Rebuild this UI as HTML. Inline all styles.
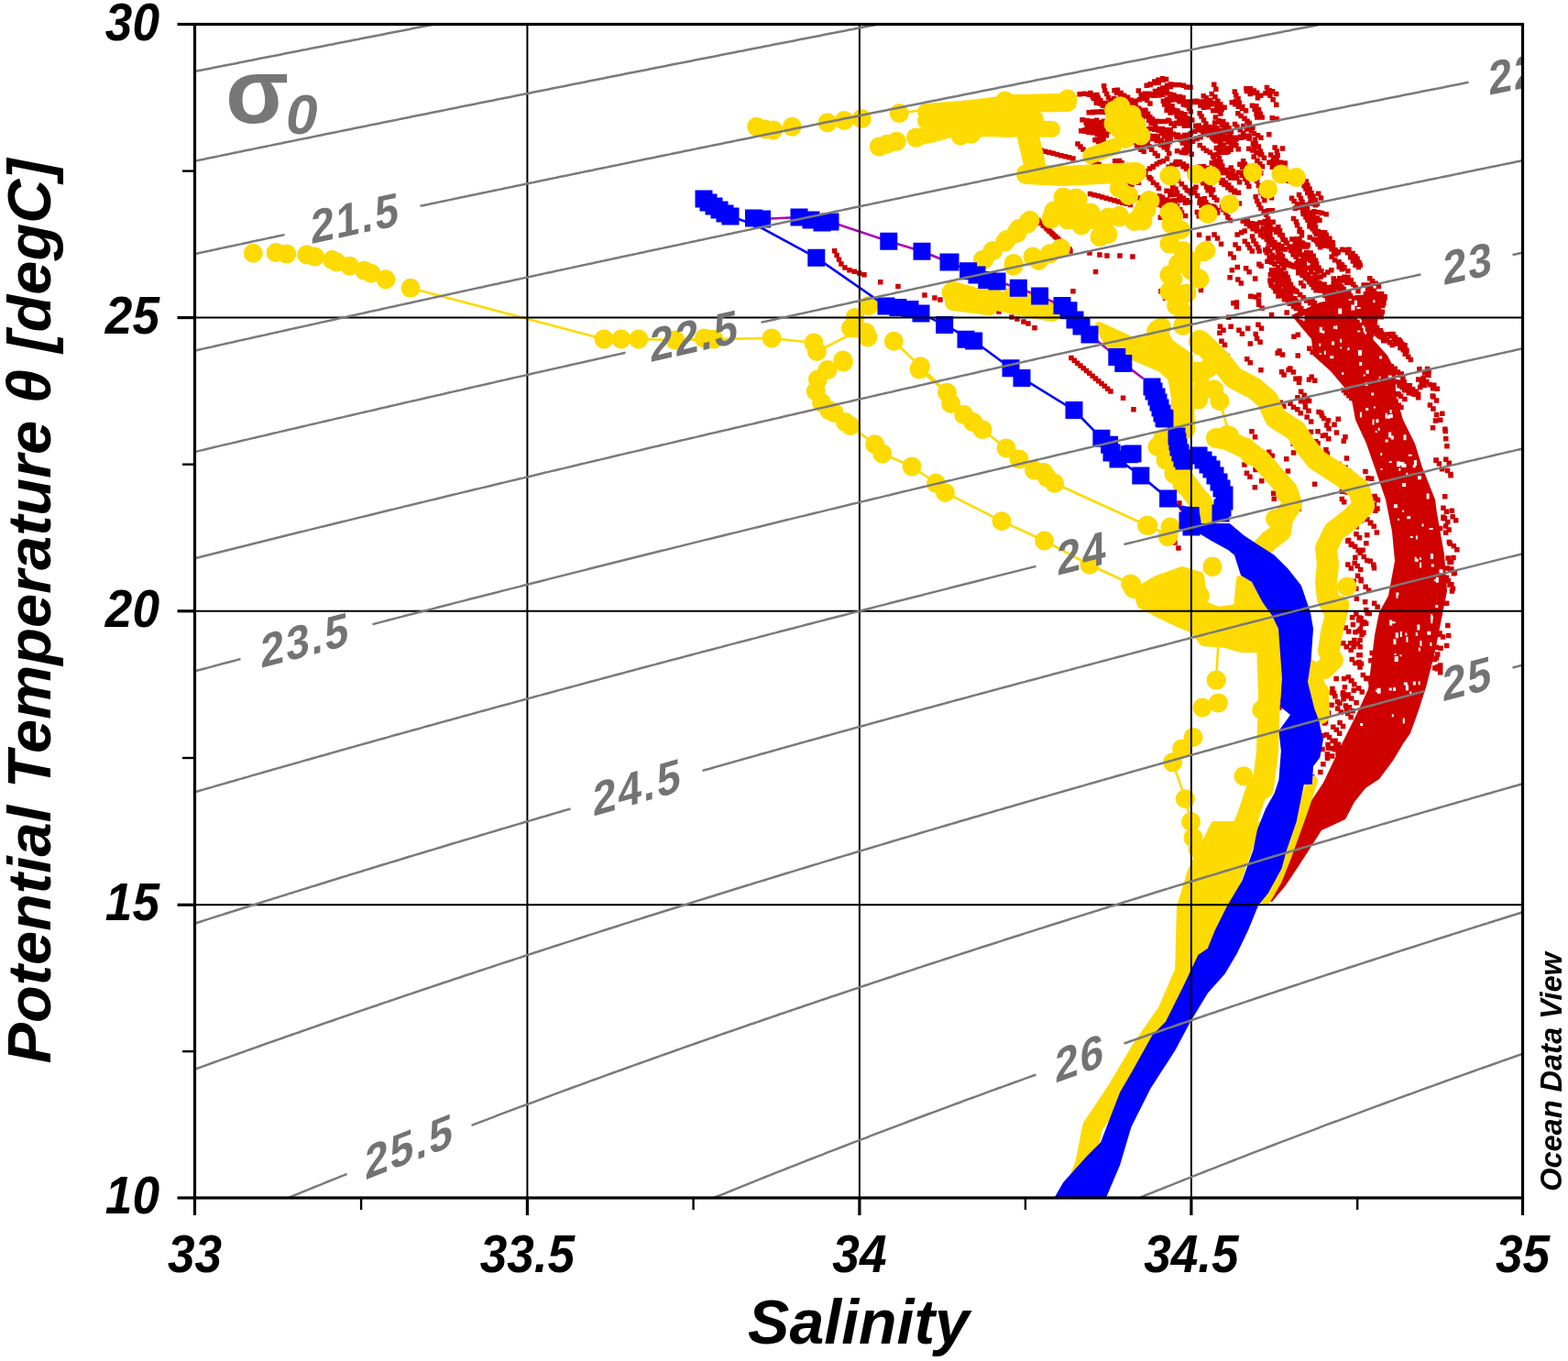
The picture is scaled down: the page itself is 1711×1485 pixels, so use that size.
<!DOCTYPE html><html><head><meta charset="utf-8"><title>T-S diagram</title><style>html,body{margin:0;padding:0;background:#fff;overflow:hidden}svg{display:block}</style></head><body><svg width="1711" height="1485" viewBox="0 0 1711 1485"><defs><clipPath id="pc"><rect x="212.5" y="26.5" width="1449.0" height="1280.5"/></clipPath></defs><rect width="1711" height="1485" fill="#fff"/><g clip-path="url(#pc)"><path fill="#CE0000" d="M1282.2 118.3h5.5v5.5h-5.5zM1286.2 120.8h5.5v5.5h-5.5zM1289.8 123.2h5.5v5.5h-5.5zM1293.1 126.2h5.5v5.5h-5.5zM1298 128.2h5.5v5.5h-5.5zM1270.4 117.4h5.5v5.5h-5.5zM1274.4 120.2h5.5v5.5h-5.5zM1357.7 96.7h5.5v5.5h-5.5zM1361.5 99.7h5.5v5.5h-5.5zM1367.5 212h5.5v5.5h-5.5zM1369 216.8h5.5v5.5h-5.5zM1371 220.3h5.5v5.5h-5.5zM1373.1 224.4h5.5v5.5h-5.5zM1376.4 228.1h5.5v5.5h-5.5zM1378.9 231.6h5.5v5.5h-5.5zM1380.9 235.9h5.5v5.5h-5.5zM1368.9 194.7h5.5v5.5h-5.5zM1370.7 199.7h5.5v5.5h-5.5zM1372.8 204.1h5.5v5.5h-5.5zM1373.5 207.6h5.5v5.5h-5.5zM1375.7 211.3h5.5v5.5h-5.5zM1377.1 215.7h5.5v5.5h-5.5zM1213.3 96h5.5v5.5h-5.5zM1215.9 98.4h5.5v5.5h-5.5zM1219.8 100.7h5.5v5.5h-5.5zM1223.6 103.8h5.5v5.5h-5.5zM1227.7 107h5.5v5.5h-5.5zM1231.4 108.8h5.5v5.5h-5.5zM1216.8 95.4h5.5v5.5h-5.5zM1220.4 98.8h5.5v5.5h-5.5zM1223.9 101.6h5.5v5.5h-5.5zM1227.8 103.5h5.5v5.5h-5.5zM1231.4 106.4h5.5v5.5h-5.5zM1235.8 108.7h5.5v5.5h-5.5zM1422.6 195.3h5.5v5.5h-5.5zM1424.1 199.6h5.5v5.5h-5.5zM1425.8 203.3h5.5v5.5h-5.5zM1428.3 207.9h5.5v5.5h-5.5zM1428.7 212.3h5.5v5.5h-5.5zM1430.4 216.4h5.5v5.5h-5.5zM1432.7 221.1h5.5v5.5h-5.5zM1380.7 99h5.5v5.5h-5.5zM1383.2 101.5h5.5v5.5h-5.5zM1386.4 105.9h5.5v5.5h-5.5zM1335.1 159.5h5.5v5.5h-5.5zM1337.4 162.7h5.5v5.5h-5.5zM1405.2 310.3h5.5v5.5h-5.5zM1409.2 313.4h5.5v5.5h-5.5zM1412.3 315.4h5.5v5.5h-5.5zM1415.9 318.8h5.5v5.5h-5.5zM1419.4 322h5.5v5.5h-5.5zM1422.9 325.2h5.5v5.5h-5.5zM1238.8 140.4h5.5v5.5h-5.5zM1240.5 144.8h5.5v5.5h-5.5zM1242.9 149.3h5.5v5.5h-5.5zM1246 153h5.5v5.5h-5.5zM1244.1 141.8h5.5v5.5h-5.5zM1246.3 144.9h5.5v5.5h-5.5zM1247.3 148.7h5.5v5.5h-5.5zM1249.4 152.6h5.5v5.5h-5.5zM1384 305.7h5.5v5.5h-5.5zM1386.7 310.3h5.5v5.5h-5.5zM1389.8 313.5h5.5v5.5h-5.5zM1392.4 316.1h5.5v5.5h-5.5zM1395.7 319.7h5.5v5.5h-5.5zM1398.7 324h5.5v5.5h-5.5zM1306 181.7h5.5v5.5h-5.5zM1308.9 185.7h5.5v5.5h-5.5zM1311.4 189.4h5.5v5.5h-5.5zM1313.6 193.8h5.5v5.5h-5.5zM1315.4 197.1h5.5v5.5h-5.5zM1317.6 201.3h5.5v5.5h-5.5zM1320.9 204.2h5.5v5.5h-5.5zM1302.5 181.1h5.5v5.5h-5.5zM1305.1 185h5.5v5.5h-5.5zM1307.3 188.6h5.5v5.5h-5.5zM1308.7 193.2h5.5v5.5h-5.5zM1311.8 196.8h5.5v5.5h-5.5zM1313.8 201.3h5.5v5.5h-5.5zM1315.4 205.1h5.5v5.5h-5.5zM1452.5 301.2h5.5v5.5h-5.5zM1455.8 303.8h5.5v5.5h-5.5zM1224.1 116.1h5.5v5.5h-5.5zM1227.5 118.9h5.5v5.5h-5.5zM1230.8 122.2h5.5v5.5h-5.5zM1234.8 124.4h5.5v5.5h-5.5zM1238.9 127.5h5.5v5.5h-5.5zM1228.2 116.8h5.5v5.5h-5.5zM1231.9 119.2h5.5v5.5h-5.5zM1235.9 121.7h5.5v5.5h-5.5zM1239.4 124.3h5.5v5.5h-5.5zM1243.6 127.2h5.5v5.5h-5.5zM1469.1 316.3h5.5v5.5h-5.5zM1470.9 320.3h5.5v5.5h-5.5zM1473.5 323.6h5.5v5.5h-5.5zM1436.9 306h5.5v5.5h-5.5zM1440.4 309h5.5v5.5h-5.5zM1319 209.5h5.5v5.5h-5.5zM1322.3 212.8h5.5v5.5h-5.5zM1325.1 215.4h5.5v5.5h-5.5zM1384.2 208.8h5.5v5.5h-5.5zM1384.8 212.9h5.5v5.5h-5.5zM1216.4 187.4h5.5v5.5h-5.5zM1219.1 191.1h5.5v5.5h-5.5zM1220.5 194.2h5.5v5.5h-5.5zM1223.4 198.7h5.5v5.5h-5.5zM1224.6 203.4h5.5v5.5h-5.5zM1227.4 207.2h5.5v5.5h-5.5zM1228.7 211.3h5.5v5.5h-5.5zM1325.7 166.1h5.5v5.5h-5.5zM1327.6 169.6h5.5v5.5h-5.5zM1329.2 173.7h5.5v5.5h-5.5zM1331 178.2h5.5v5.5h-5.5zM1332.9 183h5.5v5.5h-5.5zM1270.3 205.6h5.5v5.5h-5.5zM1274.2 210.1h5.5v5.5h-5.5zM1275.5 205.9h5.5v5.5h-5.5zM1278.6 209.6h5.5v5.5h-5.5zM1392.1 245h5.5v5.5h-5.5zM1393.8 249.1h5.5v5.5h-5.5zM1396.6 253.9h5.5v5.5h-5.5zM1397.4 258.4h5.5v5.5h-5.5zM1400.5 262.2h5.5v5.5h-5.5zM1301 207.3h5.5v5.5h-5.5zM1303.9 210.7h5.5v5.5h-5.5zM1306.7 214.8h5.5v5.5h-5.5zM1310.2 218.4h5.5v5.5h-5.5zM1311.5 222.8h5.5v5.5h-5.5zM1314.5 225.5h5.5v5.5h-5.5zM1317.3 229h5.5v5.5h-5.5zM1306.5 155.7h5.5v5.5h-5.5zM1310.3 159h5.5v5.5h-5.5zM1313.7 161.5h5.5v5.5h-5.5zM1317.6 163.6h5.5v5.5h-5.5zM1320.7 166.2h5.5v5.5h-5.5zM1414.8 209.8h5.5v5.5h-5.5zM1416.7 213.8h5.5v5.5h-5.5zM1418.3 217.4h5.5v5.5h-5.5zM1421.8 221.2h5.5v5.5h-5.5zM1201.9 91.1h5.5v5.5h-5.5zM1202.9 95.9h5.5v5.5h-5.5zM1204.9 99.8h5.5v5.5h-5.5zM1206.8 103.7h5.5v5.5h-5.5zM1209.2 109h5.5v5.5h-5.5zM1424.2 199.9h5.5v5.5h-5.5zM1426.5 204.2h5.5v5.5h-5.5zM1427.9 208.4h5.5v5.5h-5.5zM1430.2 211.2h5.5v5.5h-5.5zM1432.7 215.4h5.5v5.5h-5.5zM1434.6 219.7h5.5v5.5h-5.5zM1420.3 200h5.5v5.5h-5.5zM1422.2 203.2h5.5v5.5h-5.5zM1424 207.8h5.5v5.5h-5.5zM1426.7 211.3h5.5v5.5h-5.5zM1427.6 215.9h5.5v5.5h-5.5zM1430.3 219.6h5.5v5.5h-5.5zM1279 102.6h5.5v5.5h-5.5zM1282.2 106.3h5.5v5.5h-5.5zM1284.4 108.1h5.5v5.5h-5.5zM1288.7 111.3h5.5v5.5h-5.5zM1282.6 102.9h5.5v5.5h-5.5zM1286.3 105.4h5.5v5.5h-5.5zM1289 108.5h5.5v5.5h-5.5zM1292.9 112.2h5.5v5.5h-5.5zM1306.4 120.9h5.5v5.5h-5.5zM1308.3 124.3h5.5v5.5h-5.5zM1310.7 128.3h5.5v5.5h-5.5zM1313.1 132.2h5.5v5.5h-5.5zM1316.4 135.7h5.5v5.5h-5.5zM1317.5 140.3h5.5v5.5h-5.5zM1320.3 143.1h5.5v5.5h-5.5zM1428.1 294.3h5.5v5.5h-5.5zM1432.4 297.1h5.5v5.5h-5.5zM1435.3 300h5.5v5.5h-5.5zM1360.2 131.6h5.5v5.5h-5.5zM1362.3 136.2h5.5v5.5h-5.5zM1231 184.8h5.5v5.5h-5.5zM1233.9 187.8h5.5v5.5h-5.5zM1237.9 190.2h5.5v5.5h-5.5zM1389.9 99.8h5.5v5.5h-5.5zM1280.7 173.7h5.5v5.5h-5.5zM1284 175.8h5.5v5.5h-5.5zM1288.3 178.9h5.5v5.5h-5.5zM1291.6 181.5h5.5v5.5h-5.5zM1295.3 184.5h5.5v5.5h-5.5zM1299 187.7h5.5v5.5h-5.5zM1284.8 173.9h5.5v5.5h-5.5zM1288.7 176.3h5.5v5.5h-5.5zM1292.3 178.6h5.5v5.5h-5.5zM1296.4 182.3h5.5v5.5h-5.5zM1299 184.3h5.5v5.5h-5.5zM1303.4 187.6h5.5v5.5h-5.5zM1331.6 193.8h5.5v5.5h-5.5zM1334.7 196.7h5.5v5.5h-5.5zM1338 199.2h5.5v5.5h-5.5zM1340.9 202.4h5.5v5.5h-5.5zM1344.6 205.4h5.5v5.5h-5.5zM1348.7 207.4h5.5v5.5h-5.5zM1326 193.1h5.5v5.5h-5.5zM1330.2 196.6h5.5v5.5h-5.5zM1333 198.5h5.5v5.5h-5.5zM1337 202.1h5.5v5.5h-5.5zM1340.4 204.4h5.5v5.5h-5.5zM1344.2 206.9h5.5v5.5h-5.5zM1274.8 196.1h5.5v5.5h-5.5zM1277 200.8h5.5v5.5h-5.5zM1280.2 203.6h5.5v5.5h-5.5zM1281.8 207.6h5.5v5.5h-5.5zM1285.2 211.2h5.5v5.5h-5.5zM1287.2 215.3h5.5v5.5h-5.5zM1290.6 218.4h5.5v5.5h-5.5zM1185.1 165.8h5.5v5.5h-5.5zM1186.8 170.2h5.5v5.5h-5.5zM1189.3 173.8h5.5v5.5h-5.5zM1191.7 176.7h5.5v5.5h-5.5zM1189.6 165.5h5.5v5.5h-5.5zM1192.3 169.5h5.5v5.5h-5.5zM1193.7 172.9h5.5v5.5h-5.5zM1196.4 177.4h5.5v5.5h-5.5zM1305.4 134.4h5.5v5.5h-5.5zM1309.8 136.9h5.5v5.5h-5.5zM1312.6 139.1h5.5v5.5h-5.5zM1316.3 141.9h5.5v5.5h-5.5zM1320.7 145h5.5v5.5h-5.5zM1324.1 147.3h5.5v5.5h-5.5zM1328.1 150.7h5.5v5.5h-5.5zM1302 134.4h5.5v5.5h-5.5zM1304.5 136.5h5.5v5.5h-5.5zM1308.1 139.6h5.5v5.5h-5.5zM1312.9 142.4h5.5v5.5h-5.5zM1316.3 144.8h5.5v5.5h-5.5zM1320 147.3h5.5v5.5h-5.5zM1323.7 149.7h5.5v5.5h-5.5zM1355.9 192.5h5.5v5.5h-5.5zM1358.2 196.6h5.5v5.5h-5.5zM1360.1 200.5h5.5v5.5h-5.5zM1239.6 96.3h5.5v5.5h-5.5zM1242.5 100.4h5.5v5.5h-5.5zM1246 103h5.5v5.5h-5.5zM1248.9 106.6h5.5v5.5h-5.5zM1252.2 110.2h5.5v5.5h-5.5zM1438.7 310.2h5.5v5.5h-5.5zM1442.8 312.5h5.5v5.5h-5.5zM1446.3 314.5h5.5v5.5h-5.5zM1450.9 317.4h5.5v5.5h-5.5zM1454.5 320.2h5.5v5.5h-5.5zM1457.8 322.5h5.5v5.5h-5.5zM1226.7 183.1h5.5v5.5h-5.5zM1229.5 186h5.5v5.5h-5.5zM1233.2 189.6h5.5v5.5h-5.5zM1235.8 194.1h5.5v5.5h-5.5zM1239.6 196.4h5.5v5.5h-5.5zM1218.4 196.8h5.5v5.5h-5.5zM1221.9 199h5.5v5.5h-5.5zM1224.7 201.9h5.5v5.5h-5.5zM1228.1 204.7h5.5v5.5h-5.5zM1231.9 207.5h5.5v5.5h-5.5zM1235.1 210.5h5.5v5.5h-5.5zM1239.5 213.2h5.5v5.5h-5.5zM1194.5 144.1h5.5v5.5h-5.5zM1197.3 147h5.5v5.5h-5.5zM1201.3 150.8h5.5v5.5h-5.5zM1324.9 174.5h5.5v5.5h-5.5zM1328.3 177.5h5.5v5.5h-5.5zM1331 180.8h5.5v5.5h-5.5zM1335.4 182.7h5.5v5.5h-5.5zM1338.4 186.3h5.5v5.5h-5.5zM1341.3 188.8h5.5v5.5h-5.5zM1344.7 191.4h5.5v5.5h-5.5zM1319.5 174.9h5.5v5.5h-5.5zM1323.5 177.2h5.5v5.5h-5.5zM1326.1 180.2h5.5v5.5h-5.5zM1330.5 182.8h5.5v5.5h-5.5zM1333.5 185.7h5.5v5.5h-5.5zM1337.6 189h5.5v5.5h-5.5zM1340.1 191.3h5.5v5.5h-5.5zM1306.3 218.5h5.5v5.5h-5.5zM1309.9 221.9h5.5v5.5h-5.5zM1313.7 223.9h5.5v5.5h-5.5zM1317.5 226.1h5.5v5.5h-5.5zM1322 229.5h5.5v5.5h-5.5zM1310.8 218.4h5.5v5.5h-5.5zM1315 220.9h5.5v5.5h-5.5zM1317.8 224.3h5.5v5.5h-5.5zM1322.1 226.7h5.5v5.5h-5.5zM1325.8 229.3h5.5v5.5h-5.5zM1329.1 121.3h5.5v5.5h-5.5zM1383 174.6h5.5v5.5h-5.5zM1386 176.6h5.5v5.5h-5.5zM1390.7 179.9h5.5v5.5h-5.5zM1393.5 181.3h5.5v5.5h-5.5zM1458.5 288.4h5.5v5.5h-5.5zM1461.5 291h5.5v5.5h-5.5zM1416.9 306h5.5v5.5h-5.5zM1419.7 309.3h5.5v5.5h-5.5zM1358.5 238.2h5.5v5.5h-5.5zM1361.6 241.2h5.5v5.5h-5.5zM1364.1 244.7h5.5v5.5h-5.5zM1337.8 140h5.5v5.5h-5.5zM1339.8 143.5h5.5v5.5h-5.5zM1342.5 147.4h5.5v5.5h-5.5zM1344.6 151.9h5.5v5.5h-5.5zM1346.2 156h5.5v5.5h-5.5zM1348.5 160.1h5.5v5.5h-5.5zM1435.9 208.6h5.5v5.5h-5.5zM1438.7 213.3h5.5v5.5h-5.5zM1420.6 285.6h5.5v5.5h-5.5zM1421.1 289.6h5.5v5.5h-5.5zM1221.6 206.6h5.5v5.5h-5.5zM1224.5 209.2h5.5v5.5h-5.5zM1228.2 213h5.5v5.5h-5.5zM1385.6 179.6h5.5v5.5h-5.5zM1389.3 182.7h5.5v5.5h-5.5zM1391.9 186h5.5v5.5h-5.5zM1395.1 189h5.5v5.5h-5.5zM1398.8 191.7h5.5v5.5h-5.5zM1403.2 194.6h5.5v5.5h-5.5zM1396.8 159.2h5.5v5.5h-5.5zM1379.7 92.7h5.5v5.5h-5.5zM1382.3 95.9h5.5v5.5h-5.5zM1218.6 172.7h5.5v5.5h-5.5zM1221.3 175h5.5v5.5h-5.5zM1225.8 177.8h5.5v5.5h-5.5zM1229.6 181.5h5.5v5.5h-5.5zM1232.2 183.9h5.5v5.5h-5.5zM1237 186.3h5.5v5.5h-5.5zM1213.9 173h5.5v5.5h-5.5zM1217.5 175.5h5.5v5.5h-5.5zM1220.6 177.4h5.5v5.5h-5.5zM1224.1 180.1h5.5v5.5h-5.5zM1227.9 183h5.5v5.5h-5.5zM1232.5 185.6h5.5v5.5h-5.5zM1379.9 245.7h5.5v5.5h-5.5zM1382.7 248.9h5.5v5.5h-5.5zM1344.6 97.2h5.5v5.5h-5.5zM1346 101.3h5.5v5.5h-5.5zM1348.3 105h5.5v5.5h-5.5zM1349.5 109.4h5.5v5.5h-5.5zM1351.6 113.7h5.5v5.5h-5.5zM1390 111.4h5.5v5.5h-5.5zM1238.5 179.1h5.5v5.5h-5.5zM1241.6 181.7h5.5v5.5h-5.5zM1244.2 184.9h5.5v5.5h-5.5zM1246.8 187.3h5.5v5.5h-5.5zM1251.3 190.8h5.5v5.5h-5.5zM1471 277.9h5.5v5.5h-5.5zM1473.6 282.3h5.5v5.5h-5.5zM1476.3 286.4h5.5v5.5h-5.5zM1479.7 288.7h5.5v5.5h-5.5zM1187.2 98.8h5.5v5.5h-5.5zM1189.6 102.5h5.5v5.5h-5.5zM1469.2 269.5h5.5v5.5h-5.5zM1473.4 273.8h5.5v5.5h-5.5zM1476.2 277.1h5.5v5.5h-5.5zM1465 270.1h5.5v5.5h-5.5zM1467.7 273.1h5.5v5.5h-5.5zM1471.2 276.9h5.5v5.5h-5.5zM1474.5 279.5h5.5v5.5h-5.5zM1478.5 283h5.5v5.5h-5.5zM1481.5 286.4h5.5v5.5h-5.5zM1354.1 134.7h5.5v5.5h-5.5zM1357.8 138.3h5.5v5.5h-5.5zM1362.7 139.7h5.5v5.5h-5.5zM1365.7 142.9h5.5v5.5h-5.5zM1369.9 144.9h5.5v5.5h-5.5zM1373.2 147.6h5.5v5.5h-5.5zM1341.5 109.1h5.5v5.5h-5.5zM1345.1 111h5.5v5.5h-5.5zM1348.6 113.5h5.5v5.5h-5.5zM1353 115.6h5.5v5.5h-5.5zM1356.8 117.9h5.5v5.5h-5.5zM1243.2 146.7h5.5v5.5h-5.5zM1245.5 150.5h5.5v5.5h-5.5zM1248.8 154.3h5.5v5.5h-5.5zM1251.6 157.2h5.5v5.5h-5.5zM1254 160.4h5.5v5.5h-5.5zM1257.6 164.5h5.5v5.5h-5.5zM1260.4 167.3h5.5v5.5h-5.5zM1368.1 113.1h5.5v5.5h-5.5zM1370.8 117h5.5v5.5h-5.5zM1372.5 121.6h5.5v5.5h-5.5zM1374.4 125.2h5.5v5.5h-5.5zM1363.7 112.4h5.5v5.5h-5.5zM1366.4 116.5h5.5v5.5h-5.5zM1368.3 121.6h5.5v5.5h-5.5zM1369.1 125.3h5.5v5.5h-5.5zM1238.8 118.4h5.5v5.5h-5.5zM1243 121.7h5.5v5.5h-5.5zM1320.5 136.7h5.5v5.5h-5.5zM1324 140.4h5.5v5.5h-5.5zM1327 143h5.5v5.5h-5.5zM1330.8 145.8h5.5v5.5h-5.5zM1333.4 149.2h5.5v5.5h-5.5zM1337.7 152.3h5.5v5.5h-5.5zM1340.8 155.4h5.5v5.5h-5.5zM1325.1 137.1h5.5v5.5h-5.5zM1328.1 139.6h5.5v5.5h-5.5zM1331.7 142.3h5.5v5.5h-5.5zM1334.8 146.3h5.5v5.5h-5.5zM1338.6 149.1h5.5v5.5h-5.5zM1341.3 151.8h5.5v5.5h-5.5zM1344.9 155h5.5v5.5h-5.5zM1393.2 275.9h5.5v5.5h-5.5zM1396.3 279.6h5.5v5.5h-5.5zM1400.3 282.7h5.5v5.5h-5.5zM1402 286.2h5.5v5.5h-5.5zM1355.6 260.4h5.5v5.5h-5.5zM1358.8 263.9h5.5v5.5h-5.5zM1360.9 267.8h5.5v5.5h-5.5zM1363.6 271.2h5.5v5.5h-5.5zM1192.2 150.1h5.5v5.5h-5.5zM1196 151.8h5.5v5.5h-5.5zM1199.7 154.7h5.5v5.5h-5.5zM1204.6 156.7h5.5v5.5h-5.5zM1305.5 134.2h5.5v5.5h-5.5zM1307.6 137.8h5.5v5.5h-5.5zM1388.6 285.4h5.5v5.5h-5.5zM1392 289.1h5.5v5.5h-5.5zM1395 292.4h5.5v5.5h-5.5zM1397.3 295.7h5.5v5.5h-5.5zM1400.3 299h5.5v5.5h-5.5zM1402.7 303.2h5.5v5.5h-5.5zM1268.2 142.7h5.5v5.5h-5.5zM1270.8 146.5h5.5v5.5h-5.5zM1274.4 148.7h5.5v5.5h-5.5zM1452.4 307h5.5v5.5h-5.5zM1455.2 311h5.5v5.5h-5.5zM1459.8 312.6h5.5v5.5h-5.5zM1462.7 315.1h5.5v5.5h-5.5zM1466.5 318.6h5.5v5.5h-5.5zM1470.3 320.3h5.5v5.5h-5.5zM1478.3 279.4h5.5v5.5h-5.5zM1480.3 283.7h5.5v5.5h-5.5zM1406.8 213.6h5.5v5.5h-5.5zM1409.4 216.8h5.5v5.5h-5.5zM1412.8 220h5.5v5.5h-5.5zM1415.8 223.4h5.5v5.5h-5.5zM1418.9 227.2h5.5v5.5h-5.5zM1422 231.1h5.5v5.5h-5.5zM1330.8 222.5h5.5v5.5h-5.5zM1332.4 226.1h5.5v5.5h-5.5zM1335.1 229.3h5.5v5.5h-5.5zM1337.1 234.2h5.5v5.5h-5.5zM1339.6 237.8h5.5v5.5h-5.5zM1384 166.3h5.5v5.5h-5.5zM1386.8 169h5.5v5.5h-5.5zM1390.3 172.3h5.5v5.5h-5.5zM1394 175.1h5.5v5.5h-5.5zM1397.2 178.4h5.5v5.5h-5.5zM1400 181.4h5.5v5.5h-5.5zM1394 279.4h5.5v5.5h-5.5zM1397.5 281.6h5.5v5.5h-5.5zM1400.8 285.9h5.5v5.5h-5.5zM1357.2 93.9h5.5v5.5h-5.5zM1361.3 96.5h5.5v5.5h-5.5zM1365 98.4h5.5v5.5h-5.5zM1361.7 93.9h5.5v5.5h-5.5zM1365.6 96.2h5.5v5.5h-5.5zM1368.9 98.4h5.5v5.5h-5.5zM1207.6 126.4h5.5v5.5h-5.5zM1450.4 277.6h5.5v5.5h-5.5zM1453.8 281h5.5v5.5h-5.5zM1457.9 283.1h5.5v5.5h-5.5zM1460.9 286h5.5v5.5h-5.5zM1463.7 290h5.5v5.5h-5.5zM1303.6 228.7h5.5v5.5h-5.5zM1305.5 233h5.5v5.5h-5.5zM1414 295.1h5.5v5.5h-5.5zM1418.1 297.3h5.5v5.5h-5.5zM1421.9 300.4h5.5v5.5h-5.5zM1424.3 301.9h5.5v5.5h-5.5zM1429 305.5h5.5v5.5h-5.5zM1431.9 307.2h5.5v5.5h-5.5zM1192.9 173.6h5.5v5.5h-5.5zM1196.2 176.7h5.5v5.5h-5.5zM1199.7 179.7h5.5v5.5h-5.5zM1202.3 183.5h5.5v5.5h-5.5zM1206.2 186.8h5.5v5.5h-5.5zM1364.7 154.1h5.5v5.5h-5.5zM1366 159.2h5.5v5.5h-5.5zM1277.4 188.9h5.5v5.5h-5.5zM1280.9 191.3h5.5v5.5h-5.5zM1282.9 194.4h5.5v5.5h-5.5zM1286.7 198.1h5.5v5.5h-5.5zM1290.4 201.7h5.5v5.5h-5.5zM1292.5 204.8h5.5v5.5h-5.5zM1296.8 208h5.5v5.5h-5.5zM1366.6 149.5h5.5v5.5h-5.5zM1367.5 153.8h5.5v5.5h-5.5zM1370.6 157.3h5.5v5.5h-5.5zM1372.6 162.3h5.5v5.5h-5.5zM1374 165.8h5.5v5.5h-5.5zM1376.7 169.6h5.5v5.5h-5.5zM1242.3 145.4h5.5v5.5h-5.5zM1247.7 144.8h5.5v5.5h-5.5zM1252 146h5.5v5.5h-5.5zM1256.9 145.8h5.5v5.5h-5.5zM1260.8 146.2h5.5v5.5h-5.5zM1237.1 129.2h5.5v5.5h-5.5zM1241.5 128.7h5.5v5.5h-5.5zM1299.1 107.8h5.5v5.5h-5.5zM1303.1 107.4h5.5v5.5h-5.5zM1309 108.8h5.5v5.5h-5.5zM1312.8 108.7h5.5v5.5h-5.5zM1294.5 108.2h5.5v5.5h-5.5zM1299.2 108.7h5.5v5.5h-5.5zM1304.2 108.7h5.5v5.5h-5.5zM1308.9 108.2h5.5v5.5h-5.5zM1186.5 131.4h5.5v5.5h-5.5zM1190.3 129.5h5.5v5.5h-5.5zM1189.9 131.6h5.5v5.5h-5.5zM1194 128.4h5.5v5.5h-5.5zM1363.4 240.9h5.5v5.5h-5.5zM1368.6 241.8h5.5v5.5h-5.5zM1372.1 240.3h5.5v5.5h-5.5zM1376.6 240.5h5.5v5.5h-5.5zM1382 241h5.5v5.5h-5.5zM1386.4 239.5h5.5v5.5h-5.5zM1438 258h5.5v5.5h-5.5zM1442.2 260.1h5.5v5.5h-5.5zM1447.1 260.8h5.5v5.5h-5.5zM1451.6 261.9h5.5v5.5h-5.5zM1433.6 258.5h5.5v5.5h-5.5zM1437.9 259.6h5.5v5.5h-5.5zM1442.4 261.3h5.5v5.5h-5.5zM1447.4 262.5h5.5v5.5h-5.5zM1382.3 174.4h5.5v5.5h-5.5zM1385.6 174.1h5.5v5.5h-5.5zM1391.4 174.7h5.5v5.5h-5.5zM1394.8 174.6h5.5v5.5h-5.5zM1399.5 175.2h5.5v5.5h-5.5zM1321 118.1h5.5v5.5h-5.5zM1325.2 116.3h5.5v5.5h-5.5zM1329.8 114.1h5.5v5.5h-5.5zM1326.4 118h5.5v5.5h-5.5zM1330.3 116.8h5.5v5.5h-5.5zM1333.3 114.6h5.5v5.5h-5.5zM1270.4 146.3h5.5v5.5h-5.5zM1273.4 143.9h5.5v5.5h-5.5zM1235.4 189.6h5.5v5.5h-5.5zM1240.2 188.2h5.5v5.5h-5.5zM1243.4 185.2h5.5v5.5h-5.5zM1247.2 183.9h5.5v5.5h-5.5zM1251.8 181.3h5.5v5.5h-5.5zM1255.3 179.7h5.5v5.5h-5.5zM1412.2 284.7h5.5v5.5h-5.5zM1415.7 281.8h5.5v5.5h-5.5zM1419.3 280h5.5v5.5h-5.5zM1424.2 277.1h5.5v5.5h-5.5zM1416.1 284.5h5.5v5.5h-5.5zM1419.7 282.2h5.5v5.5h-5.5zM1423.8 279.9h5.5v5.5h-5.5zM1428.8 277h5.5v5.5h-5.5zM1410.6 224.4h5.5v5.5h-5.5zM1413.9 223.1h5.5v5.5h-5.5zM1418.8 222.4h5.5v5.5h-5.5zM1423 220.8h5.5v5.5h-5.5zM1426.9 219.3h5.5v5.5h-5.5zM1270.8 108.8h5.5v5.5h-5.5zM1275.5 106.5h5.5v5.5h-5.5zM1279.6 105.4h5.5v5.5h-5.5zM1285 103.9h5.5v5.5h-5.5zM1288.3 103.7h5.5v5.5h-5.5zM1266.6 107.5h5.5v5.5h-5.5zM1271.5 107.1h5.5v5.5h-5.5zM1275.7 106.1h5.5v5.5h-5.5zM1279.5 105.1h5.5v5.5h-5.5zM1284.7 102.7h5.5v5.5h-5.5zM1215.3 204.7h5.5v5.5h-5.5zM1218.4 202.4h5.5v5.5h-5.5zM1223.1 200.8h5.5v5.5h-5.5zM1226.8 199.7h5.5v5.5h-5.5zM1218.5 204.8h5.5v5.5h-5.5zM1223.6 202.9h5.5v5.5h-5.5zM1227.5 200.2h5.5v5.5h-5.5zM1232.1 198.4h5.5v5.5h-5.5zM1295.8 182.1h5.5v5.5h-5.5zM1299.9 181.2h5.5v5.5h-5.5zM1304.8 181.1h5.5v5.5h-5.5zM1308.7 181.5h5.5v5.5h-5.5zM1313.5 181.7h5.5v5.5h-5.5zM1209.6 128h5.5v5.5h-5.5zM1213.8 126.6h5.5v5.5h-5.5zM1217.8 123.1h5.5v5.5h-5.5zM1504.2 324.7h5.5v5.5h-5.5zM1384.9 283.5h5.5v5.5h-5.5zM1380.2 282.6h5.5v5.5h-5.5zM1346.4 148.9h5.5v5.5h-5.5zM1351.4 147.6h5.5v5.5h-5.5zM1354.9 147h5.5v5.5h-5.5zM1360 145.6h5.5v5.5h-5.5zM1341.8 148.6h5.5v5.5h-5.5zM1345.9 147.4h5.5v5.5h-5.5zM1350.8 146.5h5.5v5.5h-5.5zM1355.7 145.6h5.5v5.5h-5.5zM1183.5 165.3h5.5v5.5h-5.5zM1187.6 164.5h5.5v5.5h-5.5zM1281.8 161.9h5.5v5.5h-5.5zM1286.9 163.4h5.5v5.5h-5.5zM1291.1 164.1h5.5v5.5h-5.5zM1401.8 315.2h5.5v5.5h-5.5zM1406.6 314.5h5.5v5.5h-5.5zM1410.9 314.6h5.5v5.5h-5.5zM1397.5 314.7h5.5v5.5h-5.5zM1402 314.8h5.5v5.5h-5.5zM1406.7 313.7h5.5v5.5h-5.5zM1431.2 228.1h5.5v5.5h-5.5zM1436.2 228.9h5.5v5.5h-5.5zM1439.9 229.7h5.5v5.5h-5.5zM1444.4 231h5.5v5.5h-5.5zM1272.4 179.4h5.5v5.5h-5.5zM1276.2 177.4h5.5v5.5h-5.5zM1280 175.7h5.5v5.5h-5.5zM1284.2 174.7h5.5v5.5h-5.5zM1369.7 103.9h5.5v5.5h-5.5zM1373 101.4h5.5v5.5h-5.5zM1378.2 99.1h5.5v5.5h-5.5zM1381.1 98.2h5.5v5.5h-5.5zM1385.9 97h5.5v5.5h-5.5zM1347.4 253.2h5.5v5.5h-5.5zM1352 251h5.5v5.5h-5.5zM1355.4 249.3h5.5v5.5h-5.5zM1308.3 221.5h5.5v5.5h-5.5zM1313 222.9h5.5v5.5h-5.5zM1317 222.9h5.5v5.5h-5.5zM1322.1 223.1h5.5v5.5h-5.5zM1405.3 286.1h5.5v5.5h-5.5zM1410.2 287.1h5.5v5.5h-5.5zM1414.2 287.3h5.5v5.5h-5.5zM1419.3 288.6h5.5v5.5h-5.5zM1423.3 289.8h5.5v5.5h-5.5zM1428.2 289.2h5.5v5.5h-5.5zM1341.7 219.7h5.5v5.5h-5.5zM1345.4 218.7h5.5v5.5h-5.5zM1349.5 219.2h5.5v5.5h-5.5zM1209.3 106.7h5.5v5.5h-5.5zM1213 104.7h5.5v5.5h-5.5zM1230.1 147.8h5.5v5.5h-5.5zM1234.6 148h5.5v5.5h-5.5zM1382 144.1h5.5v5.5h-5.5zM1255.6 178.7h5.5v5.5h-5.5zM1259.5 176.2h5.5v5.5h-5.5zM1262.6 174.3h5.5v5.5h-5.5zM1266.6 173.1h5.5v5.5h-5.5zM1270.7 170.4h5.5v5.5h-5.5zM1303 181.7h5.5v5.5h-5.5zM1306.5 179.3h5.5v5.5h-5.5zM1252.6 89.7h5.5v5.5h-5.5zM1257.8 87.8h5.5v5.5h-5.5zM1261.5 87.2h5.5v5.5h-5.5zM1266.2 84.6h5.5v5.5h-5.5zM1269.8 83.8h5.5v5.5h-5.5zM1248.5 90.6h5.5v5.5h-5.5zM1252.5 89h5.5v5.5h-5.5zM1257.1 86.3h5.5v5.5h-5.5zM1261.2 84.6h5.5v5.5h-5.5zM1265.7 83.1h5.5v5.5h-5.5zM1296.7 142.8h5.5v5.5h-5.5zM1301.3 140.4h5.5v5.5h-5.5zM1305.6 138.4h5.5v5.5h-5.5zM1309.4 136.5h5.5v5.5h-5.5zM1277.7 179h5.5v5.5h-5.5zM1281.3 176.6h5.5v5.5h-5.5zM1294.7 205.8h5.5v5.5h-5.5zM1299 203.4h5.5v5.5h-5.5zM1302.2 201.6h5.5v5.5h-5.5zM1433.8 302.2h5.5v5.5h-5.5zM1438.4 299.3h5.5v5.5h-5.5zM1441.9 297.3h5.5v5.5h-5.5zM1446.1 294.3h5.5v5.5h-5.5zM1450.1 292h5.5v5.5h-5.5zM1385.5 126h5.5v5.5h-5.5zM1388.9 127h5.5v5.5h-5.5zM1240.2 156.6h5.5v5.5h-5.5zM1244 154.4h5.5v5.5h-5.5zM1247.4 151.2h5.5v5.5h-5.5zM1454.6 274.7h5.5v5.5h-5.5zM1457.6 272.1h5.5v5.5h-5.5zM1461.9 269.5h5.5v5.5h-5.5zM1405.7 266.2h5.5v5.5h-5.5zM1410.7 265.5h5.5v5.5h-5.5zM1415.9 264.5h5.5v5.5h-5.5zM1420.1 264h5.5v5.5h-5.5zM1424.5 264.6h5.5v5.5h-5.5zM1260.9 217.2h5.5v5.5h-5.5zM1265.6 217.3h5.5v5.5h-5.5zM1269.8 216.8h5.5v5.5h-5.5zM1274.2 217h5.5v5.5h-5.5zM1279.4 215.9h5.5v5.5h-5.5zM1283.3 215.9h5.5v5.5h-5.5zM1291.5 156.5h5.5v5.5h-5.5zM1295.6 154.1h5.5v5.5h-5.5zM1298.8 151.5h5.5v5.5h-5.5zM1303.3 148.8h5.5v5.5h-5.5zM1307.3 147h5.5v5.5h-5.5zM1310.2 143.8h5.5v5.5h-5.5zM1410.6 259.4h5.5v5.5h-5.5zM1413.9 262.8h5.5v5.5h-5.5zM1415 259.5h5.5v5.5h-5.5zM1418 262.2h5.5v5.5h-5.5zM1426.5 256.2h5.5v5.5h-5.5zM1430.8 258.5h5.5v5.5h-5.5zM1433.7 260.2h5.5v5.5h-5.5zM1437.5 262.2h5.5v5.5h-5.5zM1442.2 265.6h5.5v5.5h-5.5zM1396.6 255.5h5.5v5.5h-5.5zM1399.8 259.3h5.5v5.5h-5.5zM1401.4 262.4h5.5v5.5h-5.5zM1404.4 266.5h5.5v5.5h-5.5zM1406 270.7h5.5v5.5h-5.5zM1408.3 275h5.5v5.5h-5.5zM1455 359.5h5.5v5.5h-5.5zM1457 362.7h5.5v5.5h-5.5zM1459.3 367h5.5v5.5h-5.5zM1461.6 370.8h5.5v5.5h-5.5zM1464.4 374.1h5.5v5.5h-5.5zM1468.1 377.3h5.5v5.5h-5.5zM1469.4 381.5h5.5v5.5h-5.5zM1515.6 396.9h5.5v5.5h-5.5zM1518.8 399.8h5.5v5.5h-5.5zM1522.7 403.2h5.5v5.5h-5.5zM1526.5 405.2h5.5v5.5h-5.5zM1397 315.9h5.5v5.5h-5.5zM1400.2 318.9h5.5v5.5h-5.5zM1403.8 321.4h5.5v5.5h-5.5zM1406.8 325.1h5.5v5.5h-5.5zM1409.7 328.4h5.5v5.5h-5.5zM1392.8 315.6h5.5v5.5h-5.5zM1396 318.9h5.5v5.5h-5.5zM1399 321.7h5.5v5.5h-5.5zM1402.7 324.4h5.5v5.5h-5.5zM1406.3 328h5.5v5.5h-5.5zM1468.1 411.5h5.5v5.5h-5.5zM1471.2 415.8h5.5v5.5h-5.5zM1473.5 418.5h5.5v5.5h-5.5zM1427.4 273.3h5.5v5.5h-5.5zM1430 276.5h5.5v5.5h-5.5zM1432 281.2h5.5v5.5h-5.5zM1422.9 272.8h5.5v5.5h-5.5zM1425.4 277.2h5.5v5.5h-5.5zM1427.6 281.5h5.5v5.5h-5.5zM1478.8 400.8h5.5v5.5h-5.5zM1481.5 404.1h5.5v5.5h-5.5zM1443 319.8h5.5v5.5h-5.5zM1445.8 323h5.5v5.5h-5.5zM1449.5 326.5h5.5v5.5h-5.5zM1451.7 329.4h5.5v5.5h-5.5zM1455.5 334h5.5v5.5h-5.5zM1458.2 336.3h5.5v5.5h-5.5zM1377.5 238.7h5.5v5.5h-5.5zM1380.6 240.7h5.5v5.5h-5.5zM1383.3 244h5.5v5.5h-5.5zM1387 247.5h5.5v5.5h-5.5zM1390.1 250.4h5.5v5.5h-5.5zM1394 253.3h5.5v5.5h-5.5zM1409.3 288.3h5.5v5.5h-5.5zM1413.8 290.2h5.5v5.5h-5.5zM1418 293.1h5.5v5.5h-5.5zM1421.6 295.5h5.5v5.5h-5.5zM1424.5 297.5h5.5v5.5h-5.5zM1428.4 300.8h5.5v5.5h-5.5zM1520.1 368.6h5.5v5.5h-5.5zM1522.1 372.3h5.5v5.5h-5.5zM1525.2 376.7h5.5v5.5h-5.5zM1528.5 379h5.5v5.5h-5.5zM1530.5 383.6h5.5v5.5h-5.5zM1534 386.5h5.5v5.5h-5.5zM1536.6 389.7h5.5v5.5h-5.5zM1524.5 369.1h5.5v5.5h-5.5zM1527.4 372.9h5.5v5.5h-5.5zM1529.1 376h5.5v5.5h-5.5zM1532.2 380.2h5.5v5.5h-5.5zM1415.8 294.7h5.5v5.5h-5.5zM1392.1 276.4h5.5v5.5h-5.5zM1396.2 277.9h5.5v5.5h-5.5zM1399.1 281.8h5.5v5.5h-5.5zM1403 284.7h5.5v5.5h-5.5zM1406.2 287.3h5.5v5.5h-5.5zM1411.4 277.4h5.5v5.5h-5.5zM1413.8 282h5.5v5.5h-5.5zM1415.6 285.7h5.5v5.5h-5.5zM1417.6 289.5h5.5v5.5h-5.5zM1419.9 292.8h5.5v5.5h-5.5zM1422 297h5.5v5.5h-5.5zM1425.1 301.2h5.5v5.5h-5.5zM1412.7 268.9h5.5v5.5h-5.5zM1415.3 271.6h5.5v5.5h-5.5zM1419.2 275.3h5.5v5.5h-5.5zM1407.7 268.2h5.5v5.5h-5.5zM1411.3 271.4h5.5v5.5h-5.5zM1414.4 275h5.5v5.5h-5.5zM1458.5 283.4h5.5v5.5h-5.5zM1461.9 286.8h5.5v5.5h-5.5zM1464.2 289.1h5.5v5.5h-5.5zM1468.1 292.9h5.5v5.5h-5.5zM1494.6 359.2h5.5v5.5h-5.5zM1499.4 361.6h5.5v5.5h-5.5zM1502.4 364h5.5v5.5h-5.5zM1500.2 359.2h5.5v5.5h-5.5zM1502.8 361.8h5.5v5.5h-5.5zM1507.8 363.5h5.5v5.5h-5.5zM1363.8 255.3h5.5v5.5h-5.5zM1365.2 259.9h5.5v5.5h-5.5zM1367.8 263.4h5.5v5.5h-5.5zM1370.1 267.2h5.5v5.5h-5.5zM1371.4 271.2h5.5v5.5h-5.5zM1404.5 328.5h5.5v5.5h-5.5zM1408.8 331.4h5.5v5.5h-5.5zM1411.5 333.7h5.5v5.5h-5.5zM1416 336.2h5.5v5.5h-5.5zM1418.6 338.8h5.5v5.5h-5.5zM1422.2 342.5h5.5v5.5h-5.5zM1424.1 338.1h5.5v5.5h-5.5zM1427.2 341.5h5.5v5.5h-5.5zM1430.1 345.6h5.5v5.5h-5.5zM1433.1 348.4h5.5v5.5h-5.5zM1436.1 352.7h5.5v5.5h-5.5zM1430.4 276.4h5.5v5.5h-5.5zM1432.8 281.6h5.5v5.5h-5.5zM1433.9 285.1h5.5v5.5h-5.5zM1436.3 289.6h5.5v5.5h-5.5zM1439.1 293.1h5.5v5.5h-5.5zM1425.3 277h5.5v5.5h-5.5zM1427.5 281.3h5.5v5.5h-5.5zM1429.6 285.1h5.5v5.5h-5.5zM1432.3 289.5h5.5v5.5h-5.5zM1434.5 293.4h5.5v5.5h-5.5zM1499.9 335.6h5.5v5.5h-5.5zM1502.6 340.2h5.5v5.5h-5.5zM1504.4 342.9h5.5v5.5h-5.5zM1505.2 427.5h5.5v5.5h-5.5zM1509.2 430.1h5.5v5.5h-5.5zM1511.6 432.6h5.5v5.5h-5.5zM1514.9 435.9h5.5v5.5h-5.5zM1518.2 438.6h5.5v5.5h-5.5zM1522.3 442.2h5.5v5.5h-5.5zM1509.5 427.6h5.5v5.5h-5.5zM1512.7 430h5.5v5.5h-5.5zM1516 433.4h5.5v5.5h-5.5zM1520.3 435.6h5.5v5.5h-5.5zM1523.5 439.4h5.5v5.5h-5.5zM1526.1 441.8h5.5v5.5h-5.5zM1460.3 318.6h5.5v5.5h-5.5zM1463 322h5.5v5.5h-5.5zM1464.8 326.6h5.5v5.5h-5.5zM1467.8 330.4h5.5v5.5h-5.5zM1469.2 334.5h5.5v5.5h-5.5zM1464.9 317.9h5.5v5.5h-5.5zM1467.6 321.9h5.5v5.5h-5.5zM1470.2 326h5.5v5.5h-5.5zM1471.9 329.8h5.5v5.5h-5.5zM1474.4 334.1h5.5v5.5h-5.5zM1417.7 290.5h5.5v5.5h-5.5zM1420.8 293.8h5.5v5.5h-5.5zM1423.5 296.7h5.5v5.5h-5.5zM1427.6 300.6h5.5v5.5h-5.5zM1430.3 303.8h5.5v5.5h-5.5zM1432.6 307.3h5.5v5.5h-5.5zM1435.4 310.8h5.5v5.5h-5.5zM1438.6 314.3h5.5v5.5h-5.5zM1414.2 290.5h5.5v5.5h-5.5zM1416.2 293.7h5.5v5.5h-5.5zM1419.6 298h5.5v5.5h-5.5zM1422.2 300.5h5.5v5.5h-5.5zM1426 304.9h5.5v5.5h-5.5zM1428.5 307.5h5.5v5.5h-5.5zM1430.6 311h5.5v5.5h-5.5zM1433.3 314.1h5.5v5.5h-5.5zM1442.3 307.6h5.5v5.5h-5.5zM1445.5 310.9h5.5v5.5h-5.5zM1449.4 314.2h5.5v5.5h-5.5zM1452.3 316.6h5.5v5.5h-5.5zM1455.1 319.7h5.5v5.5h-5.5zM1438.3 307.4h5.5v5.5h-5.5zM1440.8 310.5h5.5v5.5h-5.5zM1443.7 314.4h5.5v5.5h-5.5zM1446.8 316.9h5.5v5.5h-5.5zM1451.4 319.4h5.5v5.5h-5.5zM1464.3 299.6h5.5v5.5h-5.5zM1467.6 302.7h5.5v5.5h-5.5zM1471.2 305.7h5.5v5.5h-5.5zM1459 300.9h5.5v5.5h-5.5zM1462.2 303.3h5.5v5.5h-5.5zM1467 305.6h5.5v5.5h-5.5zM1492 300.9h5.5v5.5h-5.5zM1494.8 303.9h5.5v5.5h-5.5zM1498.4 306.5h5.5v5.5h-5.5zM1501.7 309.7h5.5v5.5h-5.5zM1435.3 263.5h5.5v5.5h-5.5zM1437.8 267.1h5.5v5.5h-5.5zM1431.2 362.2h5.5v5.5h-5.5zM1434.5 366.8h5.5v5.5h-5.5zM1435.6 369.8h5.5v5.5h-5.5zM1438 373.7h5.5v5.5h-5.5zM1440.3 378.6h5.5v5.5h-5.5zM1442.7 382.1h5.5v5.5h-5.5zM1444.2 385.9h5.5v5.5h-5.5zM1429.3 324.2h5.5v5.5h-5.5zM1431.6 327.7h5.5v5.5h-5.5zM1434.2 331.5h5.5v5.5h-5.5zM1436.3 335h5.5v5.5h-5.5zM1439.5 338.5h5.5v5.5h-5.5zM1441.5 343.2h5.5v5.5h-5.5zM1444.1 346.4h5.5v5.5h-5.5zM1424.6 324.6h5.5v5.5h-5.5zM1426.9 328.1h5.5v5.5h-5.5zM1430.5 331.2h5.5v5.5h-5.5zM1432.3 335.8h5.5v5.5h-5.5zM1435.1 339h5.5v5.5h-5.5zM1436.8 342.8h5.5v5.5h-5.5zM1439.7 347h5.5v5.5h-5.5zM1396.7 307.6h5.5v5.5h-5.5zM1399.8 310.9h5.5v5.5h-5.5zM1402.2 315.5h5.5v5.5h-5.5zM1403.7 319.2h5.5v5.5h-5.5zM1406 322.2h5.5v5.5h-5.5zM1409 326.5h5.5v5.5h-5.5zM1446.3 328.7h5.5v5.5h-5.5zM1448.1 332.9h5.5v5.5h-5.5zM1450.2 335.3h5.5v5.5h-5.5zM1453 339.2h5.5v5.5h-5.5zM1456 342.8h5.5v5.5h-5.5zM1457.8 346.8h5.5v5.5h-5.5zM1460.7 351.6h5.5v5.5h-5.5zM1462.8 354.5h5.5v5.5h-5.5zM1450.1 328.4h5.5v5.5h-5.5zM1452.1 332.7h5.5v5.5h-5.5zM1455.3 335.3h5.5v5.5h-5.5zM1457.7 340.2h5.5v5.5h-5.5zM1459.8 343.4h5.5v5.5h-5.5zM1463.1 346.8h5.5v5.5h-5.5zM1464.9 351.5h5.5v5.5h-5.5zM1467.7 355.1h5.5v5.5h-5.5zM1420.1 223.1h5.5v5.5h-5.5zM1423.9 225.5h5.5v5.5h-5.5zM1427.1 229.2h5.5v5.5h-5.5zM1430.4 231.8h5.5v5.5h-5.5zM1434.6 235.2h5.5v5.5h-5.5zM1437.2 237.5h5.5v5.5h-5.5zM1415.9 223h5.5v5.5h-5.5zM1419.5 225.8h5.5v5.5h-5.5zM1422.3 228.6h5.5v5.5h-5.5zM1426.4 232.6h5.5v5.5h-5.5zM1429.8 235.2h5.5v5.5h-5.5zM1432.4 238.5h5.5v5.5h-5.5zM1406 318.4h5.5v5.5h-5.5zM1410 323h5.5v5.5h-5.5zM1411.4 325.8h5.5v5.5h-5.5zM1414.7 329.4h5.5v5.5h-5.5zM1417.1 334.1h5.5v5.5h-5.5zM1420.3 336.9h5.5v5.5h-5.5zM1377.8 253.8h5.5v5.5h-5.5zM1380.4 256.6h5.5v5.5h-5.5zM1385.1 258.4h5.5v5.5h-5.5zM1388.1 261.7h5.5v5.5h-5.5zM1392.5 264.3h5.5v5.5h-5.5zM1396 266h5.5v5.5h-5.5zM1400 269.3h5.5v5.5h-5.5zM1372.9 253.7h5.5v5.5h-5.5zM1376.1 255.7h5.5v5.5h-5.5zM1379.6 258.5h5.5v5.5h-5.5zM1384.4 261.7h5.5v5.5h-5.5zM1387.6 263.8h5.5v5.5h-5.5zM1391.9 267.1h5.5v5.5h-5.5zM1394.6 268.5h5.5v5.5h-5.5zM1519.4 399.5h5.5v5.5h-5.5zM1521.9 403.7h5.5v5.5h-5.5zM1525.1 406.4h5.5v5.5h-5.5zM1528.1 410.2h5.5v5.5h-5.5zM1529.5 413.9h5.5v5.5h-5.5zM1532.8 418.1h5.5v5.5h-5.5zM1375.6 246.2h5.5v5.5h-5.5zM1379.8 249h5.5v5.5h-5.5zM1383.2 252.4h5.5v5.5h-5.5zM1522.9 427.1h5.5v5.5h-5.5zM1525.8 429.5h5.5v5.5h-5.5zM1530.1 432.8h5.5v5.5h-5.5zM1375.4 246.9h5.5v5.5h-5.5zM1378.9 249.3h5.5v5.5h-5.5zM1383.2 252.9h5.5v5.5h-5.5zM1487.6 318h5.5v5.5h-5.5zM1491.4 320.6h5.5v5.5h-5.5zM1495.3 323.1h5.5v5.5h-5.5zM1499 326h5.5v5.5h-5.5zM1502.4 328.9h5.5v5.5h-5.5zM1505.9 330.7h5.5v5.5h-5.5zM1492.6 319.1h5.5v5.5h-5.5zM1495.9 320.6h5.5v5.5h-5.5zM1499.1 324.2h5.5v5.5h-5.5zM1502.8 326.2h5.5v5.5h-5.5zM1507.2 328.1h5.5v5.5h-5.5zM1412.3 258h5.5v5.5h-5.5zM1415.3 260.1h5.5v5.5h-5.5zM1418.7 262.7h5.5v5.5h-5.5zM1423.2 266.3h5.5v5.5h-5.5zM1407.1 258.3h5.5v5.5h-5.5zM1410.5 260.2h5.5v5.5h-5.5zM1415.2 264h5.5v5.5h-5.5zM1418.2 266.2h5.5v5.5h-5.5zM1380.8 268.1h5.5v5.5h-5.5zM1383.2 271.5h5.5v5.5h-5.5zM1386 275.8h5.5v5.5h-5.5zM1389 278.5h5.5v5.5h-5.5zM1391.9 282.5h5.5v5.5h-5.5zM1395.6 285h5.5v5.5h-5.5zM1398.2 289.4h5.5v5.5h-5.5zM1442.9 251h5.5v5.5h-5.5zM1444.5 253.8h5.5v5.5h-5.5zM1448.1 257.6h5.5v5.5h-5.5zM1450.1 261.8h5.5v5.5h-5.5zM1451.9 265.9h5.5v5.5h-5.5zM1454.3 270.1h5.5v5.5h-5.5zM1456.8 273.1h5.5v5.5h-5.5zM1438 250.9h5.5v5.5h-5.5zM1441.3 254.6h5.5v5.5h-5.5zM1443.5 258.2h5.5v5.5h-5.5zM1445.9 262h5.5v5.5h-5.5zM1447.6 266.1h5.5v5.5h-5.5zM1450.2 268.9h5.5v5.5h-5.5zM1452.8 273.7h5.5v5.5h-5.5zM1493.2 351.8h5.5v5.5h-5.5zM1495.2 355h5.5v5.5h-5.5zM1498.4 359h5.5v5.5h-5.5zM1501.2 362.6h5.5v5.5h-5.5zM1504.4 364.9h5.5v5.5h-5.5zM1506.9 369h5.5v5.5h-5.5zM1497.5 351.7h5.5v5.5h-5.5zM1499.9 354.7h5.5v5.5h-5.5zM1503.5 358.1h5.5v5.5h-5.5zM1505.9 362.4h5.5v5.5h-5.5zM1508.6 366.1h5.5v5.5h-5.5zM1511 368.8h5.5v5.5h-5.5zM1535.6 418.1h5.5v5.5h-5.5zM1538.9 422.1h5.5v5.5h-5.5zM1542.5 424.5h5.5v5.5h-5.5zM1544.9 427.6h5.5v5.5h-5.5zM1531.6 418.9h5.5v5.5h-5.5zM1534 421.9h5.5v5.5h-5.5zM1537.2 425.3h5.5v5.5h-5.5zM1540.6 427.6h5.5v5.5h-5.5zM1544.9 430.9h5.5v5.5h-5.5zM1463.6 422.9h5.5v5.5h-5.5zM1466.2 426h5.5v5.5h-5.5zM1469.2 428.9h5.5v5.5h-5.5zM1472 431.7h5.5v5.5h-5.5zM1408.8 235.7h5.5v5.5h-5.5zM1411.7 239.2h5.5v5.5h-5.5zM1412.8 243h5.5v5.5h-5.5zM1415.6 247.4h5.5v5.5h-5.5zM1417.7 250.9h5.5v5.5h-5.5zM1468.2 299.8h5.5v5.5h-5.5zM1471.5 303h5.5v5.5h-5.5zM1474 307.5h5.5v5.5h-5.5zM1476.3 310.8h5.5v5.5h-5.5zM1479.2 315h5.5v5.5h-5.5zM1488.3 388.3h5.5v5.5h-5.5zM1492.3 390.5h5.5v5.5h-5.5zM1493.1 388.6h5.5v5.5h-5.5zM1496.8 390.9h5.5v5.5h-5.5zM1449.9 310.4h5.5v5.5h-5.5zM1453 314.4h5.5v5.5h-5.5zM1455.4 317.4h5.5v5.5h-5.5zM1457.3 321.4h5.5v5.5h-5.5zM1461 325.3h5.5v5.5h-5.5zM1463.1 327.9h5.5v5.5h-5.5zM1466 332.5h5.5v5.5h-5.5zM1468.3 335.9h5.5v5.5h-5.5zM1371.1 285.5h5.5v5.5h-5.5zM1373.4 287.5h5.5v5.5h-5.5zM1402.1 315.3h5.5v5.5h-5.5zM1405.4 317.1h5.5v5.5h-5.5zM1511.9 362.1h5.5v5.5h-5.5zM1515 364h5.5v5.5h-5.5zM1518.4 367.8h5.5v5.5h-5.5zM1521.8 370.9h5.5v5.5h-5.5zM1525.8 372.9h5.5v5.5h-5.5zM1528.6 375.7h5.5v5.5h-5.5zM1532.1 379.6h5.5v5.5h-5.5zM1515.9 361.8h5.5v5.5h-5.5zM1519.4 365.2h5.5v5.5h-5.5zM1523.5 368h5.5v5.5h-5.5zM1525.8 370.6h5.5v5.5h-5.5zM1530.3 373.9h5.5v5.5h-5.5zM1487.9 386.9h5.5v5.5h-5.5zM1490.6 389.6h5.5v5.5h-5.5zM1490.8 308.3h5.5v5.5h-5.5zM1493 311.9h5.5v5.5h-5.5zM1496.7 314.6h5.5v5.5h-5.5zM1500.1 317.9h5.5v5.5h-5.5zM1504.4 320.7h5.5v5.5h-5.5zM1507.9 322.8h5.5v5.5h-5.5zM1485.4 308.2h5.5v5.5h-5.5zM1489.8 312.4h5.5v5.5h-5.5zM1492.4 314.4h5.5v5.5h-5.5zM1496.2 318.1h5.5v5.5h-5.5zM1499.3 321h5.5v5.5h-5.5zM1503.2 323.7h5.5v5.5h-5.5zM1506.5 326.3h5.5v5.5h-5.5zM1400.1 295.6h5.5v5.5h-5.5zM1402.5 299.8h5.5v5.5h-5.5zM1403.5 304.2h5.5v5.5h-5.5zM1405.8 307.7h5.5v5.5h-5.5zM1407.9 311.8h5.5v5.5h-5.5zM1395.4 296.6h5.5v5.5h-5.5zM1396.8 300.5h5.5v5.5h-5.5zM1399.1 303.6h5.5v5.5h-5.5zM1402 307.7h5.5v5.5h-5.5zM1403.8 312h5.5v5.5h-5.5zM1505.6 337.4h5.5v5.5h-5.5zM1458.7 306.3h5.5v5.5h-5.5zM1460.9 309.8h5.5v5.5h-5.5zM1463.4 312.6h5.5v5.5h-5.5zM1466.3 316.1h5.5v5.5h-5.5zM1469.9 319.9h5.5v5.5h-5.5zM1453.7 305.5h5.5v5.5h-5.5zM1456.2 309h5.5v5.5h-5.5zM1459.2 312.2h5.5v5.5h-5.5zM1462.7 316.1h5.5v5.5h-5.5zM1465.1 319.2h5.5v5.5h-5.5zM1492.1 434.6h5.5v5.5h-5.5zM1494.6 439.3h5.5v5.5h-5.5zM1504.8 318.1h5.5v5.5h-5.5zM1508.3 320.9h5.5v5.5h-5.5zM1387.1 302.7h5.5v5.5h-5.5zM1390.7 306.7h5.5v5.5h-5.5zM1393.3 310.5h5.5v5.5h-5.5zM1395.2 314.4h5.5v5.5h-5.5zM1426.2 244.3h5.5v5.5h-5.5zM1430 247h5.5v5.5h-5.5zM1453.4 320.1h5.5v5.5h-5.5zM1454.5 324.3h5.5v5.5h-5.5zM1456.6 327.7h5.5v5.5h-5.5zM1459.2 332.2h5.5v5.5h-5.5zM1461.6 336.4h5.5v5.5h-5.5zM1463.5 339.4h5.5v5.5h-5.5zM1466 343.4h5.5v5.5h-5.5zM1448.3 320.1h5.5v5.5h-5.5zM1450.8 324.5h5.5v5.5h-5.5zM1452.3 328.4h5.5v5.5h-5.5zM1455.1 332.1h5.5v5.5h-5.5zM1456.4 336.6h5.5v5.5h-5.5zM1459.2 339.4h5.5v5.5h-5.5zM1460.8 344.7h5.5v5.5h-5.5zM1383.1 303.2h5.5v5.5h-5.5zM1384.5 308.4h5.5v5.5h-5.5zM1387.8 310.9h5.5v5.5h-5.5zM1389.1 315h5.5v5.5h-5.5zM1392.7 318.8h5.5v5.5h-5.5zM1389.6 247.9h5.5v5.5h-5.5zM1385 247.5h5.5v5.5h-5.5zM1523.3 427.5h5.5v5.5h-5.5zM1465.6 351.8h5.5v5.5h-5.5zM1469.5 353.6h5.5v5.5h-5.5zM1472.8 356.4h5.5v5.5h-5.5zM1477.5 358.5h5.5v5.5h-5.5zM1481.1 361.6h5.5v5.5h-5.5zM1484.8 364.4h5.5v5.5h-5.5zM1488.5 365.6h5.5v5.5h-5.5zM1470.2 351.8h5.5v5.5h-5.5zM1473.4 353.6h5.5v5.5h-5.5zM1478.3 357.1h5.5v5.5h-5.5zM1480.9 358.5h5.5v5.5h-5.5zM1485 361h5.5v5.5h-5.5zM1489.1 363.8h5.5v5.5h-5.5zM1492.6 365.7h5.5v5.5h-5.5zM1479.6 392.5h5.5v5.5h-5.5zM1481.9 395.8h5.5v5.5h-5.5zM1485.9 398h5.5v5.5h-5.5zM1488.2 369.6h5.5v5.5h-5.5zM1490.7 373h5.5v5.5h-5.5zM1415.3 249.7h5.5v5.5h-5.5zM1417.7 253.9h5.5v5.5h-5.5zM1384.8 291.9h5.5v5.5h-5.5zM1387.9 294.2h5.5v5.5h-5.5zM1389.3 291.7h5.5v5.5h-5.5zM1392.4 295h5.5v5.5h-5.5zM1499.4 360.6h5.5v5.5h-5.5zM1502.3 362.5h5.5v5.5h-5.5zM1506.6 365.9h5.5v5.5h-5.5zM1509.7 368.1h5.5v5.5h-5.5zM1513.7 371h5.5v5.5h-5.5zM1516.5 373.8h5.5v5.5h-5.5zM1517.4 362h5.5v5.5h-5.5zM1520 366h5.5v5.5h-5.5zM1522.7 370.1h5.5v5.5h-5.5zM1526.1 372.7h5.5v5.5h-5.5zM1528.1 377h5.5v5.5h-5.5zM1531.8 380.7h5.5v5.5h-5.5zM1520.9 414.1h5.5v5.5h-5.5zM1524.3 417.9h5.5v5.5h-5.5zM1527.4 420.1h5.5v5.5h-5.5zM1529.9 423h5.5v5.5h-5.5zM1534.5 425.9h5.5v5.5h-5.5zM1525.1 414.6h5.5v5.5h-5.5zM1528.5 417h5.5v5.5h-5.5zM1531.2 419.9h5.5v5.5h-5.5zM1535.7 423.3h5.5v5.5h-5.5zM1538.6 426.5h5.5v5.5h-5.5zM1381.4 226.9h5.5v5.5h-5.5zM1385.6 226.9h5.5v5.5h-5.5zM1387.3 297.5h5.5v5.5h-5.5zM1391.7 299.8h5.5v5.5h-5.5zM1394.6 302.3h5.5v5.5h-5.5zM1398.6 305h5.5v5.5h-5.5zM1402.7 307.7h5.5v5.5h-5.5zM1383.6 297.1h5.5v5.5h-5.5zM1387.1 300.7h5.5v5.5h-5.5zM1390.2 302h5.5v5.5h-5.5zM1394.2 304.7h5.5v5.5h-5.5zM1398 308h5.5v5.5h-5.5zM1353.5 238.6h5.5v5.5h-5.5zM1357.4 241.6h5.5v5.5h-5.5zM1361 244.1h5.5v5.5h-5.5zM1364.4 247h5.5v5.5h-5.5zM1368.6 249.2h5.5v5.5h-5.5zM1358.8 239.7h5.5v5.5h-5.5zM1362.9 241.5h5.5v5.5h-5.5zM1365.3 244.2h5.5v5.5h-5.5zM1368.9 247h5.5v5.5h-5.5zM1373.2 249.4h5.5v5.5h-5.5zM1504.7 360.5h5.5v5.5h-5.5zM1508.7 362.7h5.5v5.5h-5.5zM1442.5 358.7h5.5v5.5h-5.5zM1444.6 363.7h5.5v5.5h-5.5zM1446.8 366.8h5.5v5.5h-5.5zM1448.5 371.1h5.5v5.5h-5.5zM1451.4 374.9h5.5v5.5h-5.5zM1452.3 379.6h5.5v5.5h-5.5zM1455.3 383.3h5.5v5.5h-5.5zM1431.9 381.8h5.5v5.5h-5.5zM1484.1 345.9h5.5v5.5h-5.5zM1488.2 348.2h5.5v5.5h-5.5zM1491.7 350.9h5.5v5.5h-5.5zM1494.8 353.9h5.5v5.5h-5.5zM1498.3 356.5h5.5v5.5h-5.5zM1502.8 360.1h5.5v5.5h-5.5zM1505.2 361.9h5.5v5.5h-5.5zM1424.4 230.8h5.5v5.5h-5.5zM1426 234.6h5.5v5.5h-5.5zM1428.6 237.2h5.5v5.5h-5.5zM1431.7 241h5.5v5.5h-5.5zM1432.8 245.1h5.5v5.5h-5.5zM1435.6 249.8h5.5v5.5h-5.5zM1438.9 252.9h5.5v5.5h-5.5zM1419.4 230.7h5.5v5.5h-5.5zM1422.2 234.2h5.5v5.5h-5.5zM1424.2 237.2h5.5v5.5h-5.5zM1426.3 241.8h5.5v5.5h-5.5zM1429.1 245.8h5.5v5.5h-5.5zM1432 249.8h5.5v5.5h-5.5zM1433.4 252.4h5.5v5.5h-5.5zM1387.9 267.4h5.5v5.5h-5.5zM1391.6 270.4h5.5v5.5h-5.5zM1394.7 274.2h5.5v5.5h-5.5zM1396.7 277.1h5.5v5.5h-5.5zM1478.4 378.2h5.5v5.5h-5.5zM1481.5 381.9h5.5v5.5h-5.5zM1484.8 383.8h5.5v5.5h-5.5zM1489.5 387.2h5.5v5.5h-5.5zM1492.1 389.6h5.5v5.5h-5.5zM1495.9 392.2h5.5v5.5h-5.5zM1381.6 262.2h5.5v5.5h-5.5zM1385.2 264.2h5.5v5.5h-5.5zM1388.9 266.7h5.5v5.5h-5.5zM1385.7 262.3h5.5v5.5h-5.5zM1389.5 264.7h5.5v5.5h-5.5zM1393.9 266.9h5.5v5.5h-5.5zM1378 270.1h5.5v5.5h-5.5zM1379.5 273.1h5.5v5.5h-5.5zM1382.4 277.7h5.5v5.5h-5.5zM1385.2 280.6h5.5v5.5h-5.5zM1387.9 285.1h5.5v5.5h-5.5zM1421.1 343.2h5.5v5.5h-5.5zM1190.9 101.8h5.5v5.5h-5.5zM1195.5 103.7h5.5v5.5h-5.5zM1198.1 107.1h5.5v5.5h-5.5zM1201.5 109.9h5.5v5.5h-5.5zM1205.1 112.6h5.5v5.5h-5.5zM1207.9 115.3h5.5v5.5h-5.5zM1186.5 100.6h5.5v5.5h-5.5zM1190.6 104.4h5.5v5.5h-5.5zM1193.5 107.5h5.5v5.5h-5.5zM1197.5 109.8h5.5v5.5h-5.5zM1200.6 112.5h5.5v5.5h-5.5zM1204.6 116h5.5v5.5h-5.5zM1175.4 100h5.5v5.5h-5.5zM1180.7 99.4h5.5v5.5h-5.5zM1184.9 99.9h5.5v5.5h-5.5zM1189.6 101.1h5.5v5.5h-5.5zM1194.2 100.7h5.5v5.5h-5.5zM1180.6 140.5h5.5v5.5h-5.5zM1185.1 138.6h5.5v5.5h-5.5zM1189.7 137.7h5.5v5.5h-5.5zM1194.4 135.6h5.5v5.5h-5.5zM1177 139.9h5.5v5.5h-5.5zM1180.7 139.2h5.5v5.5h-5.5zM1185.5 137.8h5.5v5.5h-5.5zM1190.1 135.8h5.5v5.5h-5.5zM1209.5 140.6h5.5v5.5h-5.5zM1214 139.4h5.5v5.5h-5.5zM1217.5 137.5h5.5v5.5h-5.5zM1213.9 139.6h5.5v5.5h-5.5zM1218.1 138.4h5.5v5.5h-5.5zM1221.6 137.8h5.5v5.5h-5.5zM1281.8 124.2h5.5v5.5h-5.5zM1285.5 122.1h5.5v5.5h-5.5zM1286.3 124.4h5.5v5.5h-5.5zM1290.2 122.1h5.5v5.5h-5.5zM1272 128.6h5.5v5.5h-5.5zM1275.2 132h5.5v5.5h-5.5zM1278.6 134.6h5.5v5.5h-5.5zM1290.5 132.1h5.5v5.5h-5.5zM1293.6 134.2h5.5v5.5h-5.5zM1285 132.1h5.5v5.5h-5.5zM1289.6 134.5h5.5v5.5h-5.5zM1255.2 129.5h5.5v5.5h-5.5zM1259.2 129.4h5.5v5.5h-5.5zM1264.5 129.7h5.5v5.5h-5.5zM1268.4 129.8h5.5v5.5h-5.5zM1273 129.2h5.5v5.5h-5.5zM1289.9 144.7h5.5v5.5h-5.5zM1293.6 144.5h5.5v5.5h-5.5zM1294 145.4h5.5v5.5h-5.5zM1273.7 143.1h5.5v5.5h-5.5zM1276.9 144.1h5.5v5.5h-5.5zM1281.2 146.5h5.5v5.5h-5.5zM1286.1 148.3h5.5v5.5h-5.5zM1289.1 149.9h5.5v5.5h-5.5zM1294.5 152.1h5.5v5.5h-5.5zM1277.7 143.4h5.5v5.5h-5.5zM1282.7 144.5h5.5v5.5h-5.5zM1286.3 146.6h5.5v5.5h-5.5zM1289.9 149.3h5.5v5.5h-5.5zM1293.5 150.8h5.5v5.5h-5.5zM1242.2 160.6h5.5v5.5h-5.5zM1245.5 162.5h5.5v5.5h-5.5zM1281 131.6h5.5v5.5h-5.5zM1284.7 130.9h5.5v5.5h-5.5zM1289.3 130.6h5.5v5.5h-5.5zM1293.9 130.5h5.5v5.5h-5.5zM1270.8 105.4h5.5v5.5h-5.5zM1275.2 104h5.5v5.5h-5.5zM1291.7 111.8h5.5v5.5h-5.5zM1294.8 115.6h5.5v5.5h-5.5zM1296.5 119.1h5.5v5.5h-5.5zM1295.8 111.9h5.5v5.5h-5.5zM1257.7 96.7h5.5v5.5h-5.5zM1263 94.8h5.5v5.5h-5.5zM1266.1 93.2h5.5v5.5h-5.5zM1270.7 90.6h5.5v5.5h-5.5zM1274.8 89.3h5.5v5.5h-5.5zM1263.4 97.6h5.5v5.5h-5.5zM1266.4 95.4h5.5v5.5h-5.5zM1270.3 93.1h5.5v5.5h-5.5zM1274.6 91.8h5.5v5.5h-5.5zM1278.9 89.8h5.5v5.5h-5.5zM1247.2 117.6h5.5v5.5h-5.5zM1249.9 121.5h5.5v5.5h-5.5zM1252.1 125.1h5.5v5.5h-5.5zM1254.8 127.3h5.5v5.5h-5.5zM1258 132h5.5v5.5h-5.5zM1242.7 118.1h5.5v5.5h-5.5zM1245 121.6h5.5v5.5h-5.5zM1247.9 124h5.5v5.5h-5.5zM1250.9 128.4h5.5v5.5h-5.5zM1253.4 131.6h5.5v5.5h-5.5zM1202.8 109.8h5.5v5.5h-5.5zM1207.3 110.1h5.5v5.5h-5.5zM1211.5 111.9h5.5v5.5h-5.5zM1197.5 109.8h5.5v5.5h-5.5zM1201.9 110.1h5.5v5.5h-5.5zM1207.1 112.5h5.5v5.5h-5.5zM1262.2 95.4h5.5v5.5h-5.5zM1266.4 97.7h5.5v5.5h-5.5zM1269.3 99h5.5v5.5h-5.5zM1274.4 101.7h5.5v5.5h-5.5zM1265.6 96h5.5v5.5h-5.5zM1270.4 98.5h5.5v5.5h-5.5zM1274.1 100h5.5v5.5h-5.5zM1278.1 101h5.5v5.5h-5.5zM1189.8 119.6h5.5v5.5h-5.5zM1194.5 119.3h5.5v5.5h-5.5zM1198.6 119.5h5.5v5.5h-5.5zM1203.8 119.8h5.5v5.5h-5.5zM1185.5 120h5.5v5.5h-5.5zM1189.6 119.9h5.5v5.5h-5.5zM1194.3 119.6h5.5v5.5h-5.5zM1198.9 119h5.5v5.5h-5.5zM1214 118.2h5.5v5.5h-5.5zM1219 116.5h5.5v5.5h-5.5zM1228.8 154h5.5v5.5h-5.5zM1233.1 152.3h5.5v5.5h-5.5zM1237.5 150.2h5.5v5.5h-5.5zM1240.4 148.3h5.5v5.5h-5.5zM1256.9 138h5.5v5.5h-5.5zM1261.7 137.7h5.5v5.5h-5.5zM1265.6 137.8h5.5v5.5h-5.5zM1271.1 139.2h5.5v5.5h-5.5zM1274.4 139h5.5v5.5h-5.5zM1252.6 137.4h5.5v5.5h-5.5zM1256.9 138.4h5.5v5.5h-5.5zM1261.4 138.3h5.5v5.5h-5.5zM1266.7 139h5.5v5.5h-5.5zM1270.5 139h5.5v5.5h-5.5zM1218.2 136.4h5.5v5.5h-5.5zM1223.5 134.8h5.5v5.5h-5.5zM1228.3 134.7h5.5v5.5h-5.5zM1232.2 135.1h5.5v5.5h-5.5zM1236.5 133.3h5.5v5.5h-5.5zM1222.9 136.3h5.5v5.5h-5.5zM1227.3 135.2h5.5v5.5h-5.5zM1231.8 134.9h5.5v5.5h-5.5zM1236.2 135.1h5.5v5.5h-5.5zM1241.8 133.4h5.5v5.5h-5.5zM1187 131.3h5.5v5.5h-5.5zM1191.5 134.1h5.5v5.5h-5.5zM1194.8 137.3h5.5v5.5h-5.5zM1197.6 139.4h5.5v5.5h-5.5zM1201.3 142.2h5.5v5.5h-5.5zM1204.5 145h5.5v5.5h-5.5zM1182.9 131.6h5.5v5.5h-5.5zM1186.2 134.1h5.5v5.5h-5.5zM1189.6 136.6h5.5v5.5h-5.5zM1193.4 140.5h5.5v5.5h-5.5zM1196.6 142.3h5.5v5.5h-5.5zM1201 145.4h5.5v5.5h-5.5zM1222.2 122.5h5.5v5.5h-5.5zM1226.1 121.3h5.5v5.5h-5.5zM1229.7 119h5.5v5.5h-5.5zM1233.5 116.8h5.5v5.5h-5.5zM1285.7 150h5.5v5.5h-5.5zM1287.8 153.2h5.5v5.5h-5.5zM1291.6 157.3h5.5v5.5h-5.5zM1289.1 149.4h5.5v5.5h-5.5zM1292.4 153.6h5.5v5.5h-5.5zM1294.8 157.2h5.5v5.5h-5.5zM1222.9 141.4h5.5v5.5h-5.5zM1226.1 143.2h5.5v5.5h-5.5zM1229.4 145.7h5.5v5.5h-5.5zM1233.8 149.1h5.5v5.5h-5.5zM1227.2 141.2h5.5v5.5h-5.5zM1231.1 143.7h5.5v5.5h-5.5zM1233.8 146.4h5.5v5.5h-5.5zM1237.4 148.8h5.5v5.5h-5.5zM1232.2 108.8h5.5v5.5h-5.5zM1236.3 107.6h5.5v5.5h-5.5zM1240.7 105.9h5.5v5.5h-5.5zM1244.2 104.7h5.5v5.5h-5.5zM1247.9 102.7h5.5v5.5h-5.5zM1252 100.3h5.5v5.5h-5.5zM1225.2 145.4h5.5v5.5h-5.5zM1229.8 147.6h5.5v5.5h-5.5zM1233.3 150.3h5.5v5.5h-5.5zM1223.7 133.6h5.5v5.5h-5.5zM1227.4 135.2h5.5v5.5h-5.5zM1231.3 138.1h5.5v5.5h-5.5zM1234.7 140.7h5.5v5.5h-5.5zM1238.7 144.2h5.5v5.5h-5.5zM1228.7 132.5h5.5v5.5h-5.5zM1232.1 135.6h5.5v5.5h-5.5zM1235.1 139h5.5v5.5h-5.5zM1238.3 141.3h5.5v5.5h-5.5zM1241.9 144.6h5.5v5.5h-5.5zM1283.9 89.8h5.5v5.5h-5.5zM1288.6 90.5h5.5v5.5h-5.5zM1291.9 92.3h5.5v5.5h-5.5zM1296.2 92.4h5.5v5.5h-5.5zM1232.9 114.7h5.5v5.5h-5.5zM1235.5 118.4h5.5v5.5h-5.5zM1228.9 114.8h5.5v5.5h-5.5zM1231.8 118h5.5v5.5h-5.5zM1237.9 155.9h5.5v5.5h-5.5zM1242 153.6h5.5v5.5h-5.5zM1245.8 152.8h5.5v5.5h-5.5zM1190.4 141.9h5.5v5.5h-5.5zM1194.9 142.6h5.5v5.5h-5.5zM1198.2 143h5.5v5.5h-5.5zM1203.9 143.2h5.5v5.5h-5.5zM1185.1 141.4h5.5v5.5h-5.5zM1189.6 141.9h5.5v5.5h-5.5zM1194.9 143h5.5v5.5h-5.5zM1198.4 143.2h5.5v5.5h-5.5zM1243.1 101.3h5.5v5.5h-5.5zM1248.1 102h5.5v5.5h-5.5zM1252.5 101.3h5.5v5.5h-5.5zM1257.3 100.8h5.5v5.5h-5.5zM1261.8 101.3h5.5v5.5h-5.5zM1247.2 101.1h5.5v5.5h-5.5zM1251.8 101.1h5.5v5.5h-5.5zM1257 101.6h5.5v5.5h-5.5zM1261.3 101.1h5.5v5.5h-5.5zM1265.3 100.5h5.5v5.5h-5.5zM1235.8 140.9h5.5v5.5h-5.5zM1239.9 139.9h5.5v5.5h-5.5zM1243.4 138.3h5.5v5.5h-5.5zM1248.4 138.9h5.5v5.5h-5.5zM1252.7 137.6h5.5v5.5h-5.5zM1239 140.1h5.5v5.5h-5.5zM1244.7 139.7h5.5v5.5h-5.5zM1249 138.2h5.5v5.5h-5.5zM1252.6 137.8h5.5v5.5h-5.5zM1257.9 137h5.5v5.5h-5.5zM1288.4 108.9h5.5v5.5h-5.5zM1292.3 110.4h5.5v5.5h-5.5zM1293.7 109.3h5.5v5.5h-5.5zM1188.5 134.2h5.5v5.5h-5.5zM1192.8 132.4h5.5v5.5h-5.5zM1196.4 131.8h5.5v5.5h-5.5zM1201 131.1h5.5v5.5h-5.5zM1205.3 129.9h5.5v5.5h-5.5zM1183.5 133.8h5.5v5.5h-5.5zM1188.2 133h5.5v5.5h-5.5zM1192.3 132.3h5.5v5.5h-5.5zM1196.5 130.9h5.5v5.5h-5.5zM1201.7 129.4h5.5v5.5h-5.5zM1246.3 101.1h5.5v5.5h-5.5zM1251.1 99.4h5.5v5.5h-5.5zM1242.5 101.6h5.5v5.5h-5.5zM1246.5 99.5h5.5v5.5h-5.5zM1183.3 128.7h5.5v5.5h-5.5zM1186.7 129.4h5.5v5.5h-5.5zM1190.5 131.9h5.5v5.5h-5.5zM1195.6 133.1h5.5v5.5h-5.5zM1199.3 134.9h5.5v5.5h-5.5zM1203.2 136.7h5.5v5.5h-5.5zM1178.3 128h5.5v5.5h-5.5zM1182.4 130.4h5.5v5.5h-5.5zM1186.9 131.3h5.5v5.5h-5.5zM1190.7 133.6h5.5v5.5h-5.5zM1194.6 135.1h5.5v5.5h-5.5zM1198.7 137.3h5.5v5.5h-5.5zM1223.3 155.4h5.5v5.5h-5.5zM1226.2 153.1h5.5v5.5h-5.5zM1222.5 153.1h5.5v5.5h-5.5zM1272.2 110.5h5.5v5.5h-5.5zM1276.3 113h5.5v5.5h-5.5zM1278.9 117.5h5.5v5.5h-5.5zM1282.9 120.3h5.5v5.5h-5.5zM1286.3 122.4h5.5v5.5h-5.5zM1289.6 125.7h5.5v5.5h-5.5zM1267.9 111.2h5.5v5.5h-5.5zM1271.2 113.2h5.5v5.5h-5.5zM1275.3 116.6h5.5v5.5h-5.5zM1278.6 119.4h5.5v5.5h-5.5zM1281.3 122.5h5.5v5.5h-5.5zM1284.1 126.1h5.5v5.5h-5.5zM1223.8 105.9h5.5v5.5h-5.5zM1228.5 107.6h5.5v5.5h-5.5zM1231.6 110.3h5.5v5.5h-5.5zM1236.7 113.4h5.5v5.5h-5.5zM1239.8 115.5h5.5v5.5h-5.5zM1244.4 117.6h5.5v5.5h-5.5zM1220 106.7h5.5v5.5h-5.5zM1224 108.9h5.5v5.5h-5.5zM1227.8 110h5.5v5.5h-5.5zM1231.7 112.7h5.5v5.5h-5.5zM1235.3 114.7h5.5v5.5h-5.5zM1239.5 117.2h5.5v5.5h-5.5zM1197.1 109.2h5.5v5.5h-5.5zM1201.5 110.8h5.5v5.5h-5.5zM1206.3 111.7h5.5v5.5h-5.5zM1210.7 113.3h5.5v5.5h-5.5zM1193.8 109.5h5.5v5.5h-5.5zM1197.6 110.3h5.5v5.5h-5.5zM1202.4 111.2h5.5v5.5h-5.5zM1205.9 112.8h5.5v5.5h-5.5zM1256.9 145.9h5.5v5.5h-5.5zM1259.8 147.7h5.5v5.5h-5.5zM1264.4 150.8h5.5v5.5h-5.5zM1268 153.3h5.5v5.5h-5.5zM1271.7 155.3h5.5v5.5h-5.5zM1251.4 145.4h5.5v5.5h-5.5zM1255.1 148.7h5.5v5.5h-5.5zM1259.5 150.8h5.5v5.5h-5.5zM1263.9 153.5h5.5v5.5h-5.5zM1266.6 155.4h5.5v5.5h-5.5zM1256.5 212.1h5.5v5.5h-5.5zM1258.6 215.7h5.5v5.5h-5.5zM1262.3 219.7h5.5v5.5h-5.5zM1265.3 221.7h5.5v5.5h-5.5zM1268.3 225.5h5.5v5.5h-5.5zM1260.7 212.5h5.5v5.5h-5.5zM1263 216.1h5.5v5.5h-5.5zM1266.5 218.4h5.5v5.5h-5.5zM1269.6 221.5h5.5v5.5h-5.5zM1273.2 224.8h5.5v5.5h-5.5zM1310.7 179h5.5v5.5h-5.5zM1314.4 180.7h5.5v5.5h-5.5zM1262.4 211.3h5.5v5.5h-5.5zM1265.7 212.4h5.5v5.5h-5.5zM1270.5 215.2h5.5v5.5h-5.5zM1274 216.5h5.5v5.5h-5.5zM1278.8 219.5h5.5v5.5h-5.5zM1257.2 211.2h5.5v5.5h-5.5zM1261.8 212.8h5.5v5.5h-5.5zM1265.1 214.8h5.5v5.5h-5.5zM1270 217.1h5.5v5.5h-5.5zM1273.9 218.4h5.5v5.5h-5.5zM1263.7 155.3h5.5v5.5h-5.5zM1267.4 157.9h5.5v5.5h-5.5zM1271 160.3h5.5v5.5h-5.5zM1311.6 213.9h5.5v5.5h-5.5zM1313.1 218h5.5v5.5h-5.5zM1315.8 222.6h5.5v5.5h-5.5zM1315 183.4h5.5v5.5h-5.5zM1317.5 187.5h5.5v5.5h-5.5zM1318.9 191.4h5.5v5.5h-5.5zM1319.4 182.4h5.5v5.5h-5.5zM1321.9 186.5h5.5v5.5h-5.5zM1322.9 190.7h5.5v5.5h-5.5zM1283.1 227.6h5.5v5.5h-5.5zM1286.7 230h5.5v5.5h-5.5zM1290.8 232.7h5.5v5.5h-5.5zM1278.4 219.3h5.5v5.5h-5.5zM1281.7 222.2h5.5v5.5h-5.5zM1285 225.9h5.5v5.5h-5.5zM1286.8 229.3h5.5v5.5h-5.5zM1273.2 218.5h5.5v5.5h-5.5zM1276.1 222.9h5.5v5.5h-5.5zM1279.4 225h5.5v5.5h-5.5zM1283.5 228.6h5.5v5.5h-5.5zM1289.3 161.1h5.5v5.5h-5.5zM1294.2 162.1h5.5v5.5h-5.5zM1297.5 165.4h5.5v5.5h-5.5zM1273 164.8h5.5v5.5h-5.5zM1261.6 139.8h5.5v5.5h-5.5zM1264.9 142.5h5.5v5.5h-5.5zM1267.6 146.3h5.5v5.5h-5.5zM1271.1 148.6h5.5v5.5h-5.5zM1273.6 152.1h5.5v5.5h-5.5zM1263.6 234.4h5.5v5.5h-5.5zM1253.2 192.6h5.5v5.5h-5.5zM1255.7 196.4h5.5v5.5h-5.5zM1259.6 198.9h5.5v5.5h-5.5zM1261.7 202.8h5.5v5.5h-5.5zM1254.8 216.2h5.5v5.5h-5.5zM1257.4 218.5h5.5v5.5h-5.5zM1261.2 220.5h5.5v5.5h-5.5zM1258.9 215.8h5.5v5.5h-5.5zM1262 218.5h5.5v5.5h-5.5zM1266 221.7h5.5v5.5h-5.5zM1319.4 222.3h5.5v5.5h-5.5zM1323.5 225h5.5v5.5h-5.5zM1326 227.1h5.5v5.5h-5.5zM1284.1 211.9h5.5v5.5h-5.5zM1288.7 213.5h5.5v5.5h-5.5zM1292.5 215.9h5.5v5.5h-5.5zM1295.7 217.9h5.5v5.5h-5.5zM1390.6 127.3h5.5v5.5h-5.5zM1323.6 125.3h5.5v5.5h-5.5zM1326.9 129.1h5.5v5.5h-5.5zM1327.5 174.8h5.5v5.5h-5.5zM1329.2 178.3h5.5v5.5h-5.5zM1306.9 194h5.5v5.5h-5.5zM1310.1 196.9h5.5v5.5h-5.5zM1327.9 158.3h5.5v5.5h-5.5zM1331.4 161.3h5.5v5.5h-5.5zM1335.2 163.5h5.5v5.5h-5.5zM1324.6 158.7h5.5v5.5h-5.5zM1327.2 161.6h5.5v5.5h-5.5zM1330.9 163.5h5.5v5.5h-5.5zM1340.5 180.3h5.5v5.5h-5.5zM1342.3 183.9h5.5v5.5h-5.5zM1345.5 188.8h5.5v5.5h-5.5zM1347.1 191.6h5.5v5.5h-5.5zM1349.8 196h5.5v5.5h-5.5zM1353 185.5h5.5v5.5h-5.5zM1356.2 189.4h5.5v5.5h-5.5zM1348.5 185.6h5.5v5.5h-5.5zM1352.9 188.7h5.5v5.5h-5.5zM1371.2 181.6h5.5v5.5h-5.5zM1373 185.9h5.5v5.5h-5.5zM1327.4 130.6h5.5v5.5h-5.5zM1330.8 133.4h5.5v5.5h-5.5zM1333.5 137.4h5.5v5.5h-5.5zM1336.9 140.5h5.5v5.5h-5.5zM1332 129.8h5.5v5.5h-5.5zM1335.8 133.3h5.5v5.5h-5.5zM1338.3 137.1h5.5v5.5h-5.5zM1340.8 140.6h5.5v5.5h-5.5zM1321.8 149.2h5.5v5.5h-5.5zM1324.4 151.2h5.5v5.5h-5.5zM1329 154h5.5v5.5h-5.5zM1332.5 155.4h5.5v5.5h-5.5zM1336.1 158.7h5.5v5.5h-5.5zM1340.4 160.5h5.5v5.5h-5.5zM1360 159.6h5.5v5.5h-5.5zM1363.9 161.3h5.5v5.5h-5.5zM1368.2 163.8h5.5v5.5h-5.5zM1372.2 166.1h5.5v5.5h-5.5zM1350.1 176.5h5.5v5.5h-5.5zM1352.9 179.6h5.5v5.5h-5.5zM1355.1 176.1h5.5v5.5h-5.5zM1357.4 179.5h5.5v5.5h-5.5zM1348.1 120.9h5.5v5.5h-5.5zM1351.4 123.7h5.5v5.5h-5.5zM1355.3 126.5h5.5v5.5h-5.5zM1358.3 129.6h5.5v5.5h-5.5zM1360.6 132.4h5.5v5.5h-5.5zM1364.2 136.8h5.5v5.5h-5.5zM1317 136.3h5.5v5.5h-5.5zM1321.1 138.3h5.5v5.5h-5.5zM1324 141.5h5.5v5.5h-5.5zM1326.7 144.5h5.5v5.5h-5.5zM1331.3 147.2h5.5v5.5h-5.5zM1312.8 136h5.5v5.5h-5.5zM1315.4 139.3h5.5v5.5h-5.5zM1318.9 141.3h5.5v5.5h-5.5zM1323.1 143.9h5.5v5.5h-5.5zM1326 147h5.5v5.5h-5.5zM1311.6 112.2h5.5v5.5h-5.5zM1315.7 113.9h5.5v5.5h-5.5zM1307.2 112.2h5.5v5.5h-5.5zM1310.7 114.6h5.5v5.5h-5.5zM1306.3 190.5h5.5v5.5h-5.5zM1309.7 194.9h5.5v5.5h-5.5zM1345.7 107.5h5.5v5.5h-5.5zM1349.5 110.2h5.5v5.5h-5.5zM1353.1 113.7h5.5v5.5h-5.5zM1319.5 99.8h5.5v5.5h-5.5zM1323.1 103h5.5v5.5h-5.5zM1326.1 107.4h5.5v5.5h-5.5zM1329 110.9h5.5v5.5h-5.5zM1322.7 177.3h5.5v5.5h-5.5zM1326.1 179h5.5v5.5h-5.5zM1330 181.9h5.5v5.5h-5.5zM1332.7 185.3h5.5v5.5h-5.5zM1315.7 138.1h5.5v5.5h-5.5zM1320.2 140.9h5.5v5.5h-5.5zM1323.1 142.7h5.5v5.5h-5.5zM1328.1 145.5h5.5v5.5h-5.5zM1331.1 148h5.5v5.5h-5.5zM1365.5 168.3h5.5v5.5h-5.5zM1369.2 172.6h5.5v5.5h-5.5zM1372.1 175.9h5.5v5.5h-5.5zM1374.8 178.9h5.5v5.5h-5.5zM1321.4 168.6h5.5v5.5h-5.5zM1323 173.1h5.5v5.5h-5.5zM1324 177.1h5.5v5.5h-5.5zM1326.4 181.9h5.5v5.5h-5.5zM1328.2 185.8h5.5v5.5h-5.5zM1313.4 103.9h5.5v5.5h-5.5zM1317.8 106.8h5.5v5.5h-5.5zM1321.5 109.7h5.5v5.5h-5.5zM1325 112.5h5.5v5.5h-5.5zM1322.8 131.2h5.5v5.5h-5.5zM1322 89.6h5.5v5.5h-5.5zM1324.1 94.4h5.5v5.5h-5.5zM1333.1 196.4h5.5v5.5h-5.5zM1353.9 173.1h5.5v5.5h-5.5zM1355.8 177.2h5.5v5.5h-5.5zM1358.5 179.7h5.5v5.5h-5.5zM1361.1 184.2h5.5v5.5h-5.5zM1388.4 158.2h5.5v5.5h-5.5zM1390.6 162.2h5.5v5.5h-5.5zM1391.4 166.8h5.5v5.5h-5.5zM1310.5 102.1h5.5v5.5h-5.5zM1313.4 105.5h5.5v5.5h-5.5zM1315.8 109h5.5v5.5h-5.5zM1319.1 110.9h5.5v5.5h-5.5zM1344.8 132.7h5.5v5.5h-5.5zM1347.1 135.6h5.5v5.5h-5.5zM1350.5 139h5.5v5.5h-5.5zM1353.9 142.4h5.5v5.5h-5.5zM1356.5 145.8h5.5v5.5h-5.5zM1360.5 148.5h5.5v5.5h-5.5zM1305.8 253.6h5.5v5.5h-5.5zM1413.5 385.3h5.5v5.5h-5.5zM1413.6 362.4h5.5v5.5h-5.5zM1330.2 369.5h5.5v5.5h-5.5zM1333.7 373.5h5.5v5.5h-5.5zM1370.9 319.2h5.5v5.5h-5.5zM1398.3 406.3h5.5v5.5h-5.5zM1309 365.1h5.5v5.5h-5.5zM1425.7 411.6h5.5v5.5h-5.5zM1328.1 360.5h5.5v5.5h-5.5zM1335.2 398.3h5.5v5.5h-5.5zM1340.4 353.6h5.5v5.5h-5.5zM1374.4 429.5h5.5v5.5h-5.5zM1358.9 355.5h5.5v5.5h-5.5zM1361.6 372.3h5.5v5.5h-5.5zM1394.5 436.4h5.5v5.5h-5.5zM1398 440.4h5.5v5.5h-5.5zM1347.5 288.7h5.5v5.5h-5.5zM1368.9 366.4h5.5v5.5h-5.5zM1372.4 370.4h5.5v5.5h-5.5zM1405.2 437.4h5.5v5.5h-5.5zM1408.7 441.4h5.5v5.5h-5.5zM1367.1 321.3h5.5v5.5h-5.5zM1370.6 325.3h5.5v5.5h-5.5zM1373.2 400.9h5.5v5.5h-5.5zM1294.9 297.7h5.5v5.5h-5.5zM1371.7 432.5h5.5v5.5h-5.5zM1375.2 436.5h5.5v5.5h-5.5zM1340 274.2h5.5v5.5h-5.5zM1343.5 278.2h5.5v5.5h-5.5zM1336.3 385.9h5.5v5.5h-5.5zM1411.2 410.5h5.5v5.5h-5.5zM1414.7 414.5h5.5v5.5h-5.5zM1428.5 408.4h5.5v5.5h-5.5zM1432 412.4h5.5v5.5h-5.5zM1403.4 400.7h5.5v5.5h-5.5zM1413 444.1h5.5v5.5h-5.5zM1416.5 448.1h5.5v5.5h-5.5zM1413.2 431h5.5v5.5h-5.5zM1416.7 435h5.5v5.5h-5.5zM1391.4 382.5h5.5v5.5h-5.5zM1328.7 353.5h5.5v5.5h-5.5zM1332.2 357.5h5.5v5.5h-5.5zM1416.9 424.5h5.5v5.5h-5.5zM1420.4 428.5h5.5v5.5h-5.5zM1393.3 380.3h5.5v5.5h-5.5zM1396.8 384.3h5.5v5.5h-5.5zM1405.1 399.3h5.5v5.5h-5.5zM1408.6 403.3h5.5v5.5h-5.5zM1306.5 300h5.5v5.5h-5.5zM1359.9 409.4h5.5v5.5h-5.5zM1363.4 413.4h5.5v5.5h-5.5zM1307.7 313.8h5.5v5.5h-5.5zM1315.7 257.3h5.5v5.5h-5.5zM1304.4 292.9h5.5v5.5h-5.5zM1341.6 291.9h5.5v5.5h-5.5zM1395.8 403h5.5v5.5h-5.5zM1348.1 302.3h5.5v5.5h-5.5zM1351.6 306.3h5.5v5.5h-5.5zM1339.4 300.1h5.5v5.5h-5.5zM1384.8 340.8h5.5v5.5h-5.5zM1425.9 434.8h5.5v5.5h-5.5zM1374.4 419.1h5.5v5.5h-5.5zM1377.9 423.1h5.5v5.5h-5.5zM1329.8 263.4h5.5v5.5h-5.5zM1362 320.6h5.5v5.5h-5.5zM1310.2 372.7h5.5v5.5h-5.5zM1426.1 377.6h5.5v5.5h-5.5zM1429.6 381.6h5.5v5.5h-5.5zM1366.9 301.2h5.5v5.5h-5.5zM1423.6 432.1h5.5v5.5h-5.5zM1415.2 410.2h5.5v5.5h-5.5zM1401.4 338.3h5.5v5.5h-5.5zM1346.7 327.3h5.5v5.5h-5.5zM1421.3 436h5.5v5.5h-5.5zM1345.3 264.3h5.5v5.5h-5.5zM1348.8 268.3h5.5v5.5h-5.5zM1367.5 361.8h5.5v5.5h-5.5zM1343.1 328h5.5v5.5h-5.5zM1346.6 332h5.5v5.5h-5.5zM1370.9 329.5h5.5v5.5h-5.5zM1374.4 333.5h5.5v5.5h-5.5zM1338 343.4h5.5v5.5h-5.5zM1322.3 253.3h5.5v5.5h-5.5zM1325.8 257.3h5.5v5.5h-5.5zM1342.4 402.7h5.5v5.5h-5.5zM1326.5 402.2h5.5v5.5h-5.5zM1370.2 351.5h5.5v5.5h-5.5zM1373.7 355.5h5.5v5.5h-5.5zM1392.2 320.2h5.5v5.5h-5.5zM1356.9 290h5.5v5.5h-5.5zM1360.4 294h5.5v5.5h-5.5zM1358 388.9h5.5v5.5h-5.5zM1361.5 392.9h5.5v5.5h-5.5zM1409.2 364.4h5.5v5.5h-5.5zM1349.2 357.4h5.5v5.5h-5.5zM1352.7 361.4h5.5v5.5h-5.5zM1463 699.1h5.5v5.5h-5.5zM1466.5 703.1h5.5v5.5h-5.5zM1455.5 793.4h5.5v5.5h-5.5zM1479.1 560.9h5.5v5.5h-5.5zM1482.6 564.9h5.5v5.5h-5.5zM1477.8 559.7h5.5v5.5h-5.5zM1466.5 771.6h5.5v5.5h-5.5zM1450.6 752.9h5.5v5.5h-5.5zM1454.1 756.9h5.5v5.5h-5.5zM1464.6 747.1h5.5v5.5h-5.5zM1474.5 750.6h5.5v5.5h-5.5zM1455.4 737.7h5.5v5.5h-5.5zM1468.7 736h5.5v5.5h-5.5zM1472.2 740h5.5v5.5h-5.5zM1480 674.1h5.5v5.5h-5.5zM1483.5 678.1h5.5v5.5h-5.5zM1477.1 667.3h5.5v5.5h-5.5zM1480.6 671.3h5.5v5.5h-5.5zM1454.3 805.5h5.5v5.5h-5.5zM1457.8 809.5h5.5v5.5h-5.5zM1489.1 563.9h5.5v5.5h-5.5zM1492.6 567.9h5.5v5.5h-5.5zM1494.6 548.9h5.5v5.5h-5.5zM1498.1 552.9h5.5v5.5h-5.5zM1462.5 754.6h5.5v5.5h-5.5zM1446.8 813.6h5.5v5.5h-5.5zM1445.6 492.2h5.5v5.5h-5.5zM1489 581h5.5v5.5h-5.5zM1474.5 516.1h5.5v5.5h-5.5zM1462.7 508.8h5.5v5.5h-5.5zM1499.6 578.2h5.5v5.5h-5.5zM1493.9 519.4h5.5v5.5h-5.5zM1481.7 683.6h5.5v5.5h-5.5zM1485.2 687.6h5.5v5.5h-5.5zM1484.6 733.8h5.5v5.5h-5.5zM1488.1 737.8h5.5v5.5h-5.5zM1476.1 605.6h5.5v5.5h-5.5zM1450.3 766.6h5.5v5.5h-5.5zM1487.1 560.7h5.5v5.5h-5.5zM1475.5 611.5h5.5v5.5h-5.5zM1479.8 685.7h5.5v5.5h-5.5zM1483.3 689.7h5.5v5.5h-5.5zM1496.7 617.1h5.5v5.5h-5.5zM1487.3 550.1h5.5v5.5h-5.5zM1490.8 554.1h5.5v5.5h-5.5zM1496.7 548.2h5.5v5.5h-5.5zM1500.2 552.2h5.5v5.5h-5.5zM1429 845.1h5.5v5.5h-5.5zM1494.5 709.8h5.5v5.5h-5.5zM1453.3 460.6h5.5v5.5h-5.5zM1489.6 737.3h5.5v5.5h-5.5zM1493.1 741.3h5.5v5.5h-5.5zM1477.1 639.4h5.5v5.5h-5.5zM1492.6 609.4h5.5v5.5h-5.5zM1496.1 613.4h5.5v5.5h-5.5zM1472.9 670.9h5.5v5.5h-5.5zM1444.2 488.1h5.5v5.5h-5.5zM1458.9 797.6h5.5v5.5h-5.5zM1480 748.3h5.5v5.5h-5.5zM1483.5 752.3h5.5v5.5h-5.5zM1480 521.7h5.5v5.5h-5.5zM1468.4 755.2h5.5v5.5h-5.5zM1471.9 759.2h5.5v5.5h-5.5zM1446.8 775.2h5.5v5.5h-5.5zM1435.3 481h5.5v5.5h-5.5zM1481.4 703h5.5v5.5h-5.5zM1473.7 678.7h5.5v5.5h-5.5zM1482.3 672h5.5v5.5h-5.5zM1485.8 676h5.5v5.5h-5.5zM1468.1 587.7h5.5v5.5h-5.5zM1471.6 591.7h5.5v5.5h-5.5zM1498 554.5h5.5v5.5h-5.5zM1445.1 461.2h5.5v5.5h-5.5zM1489.2 536.1h5.5v5.5h-5.5zM1492.7 540.1h5.5v5.5h-5.5zM1477.3 763.9h5.5v5.5h-5.5zM1478.8 625.5h5.5v5.5h-5.5zM1482.3 629.5h5.5v5.5h-5.5zM1474.5 631.4h5.5v5.5h-5.5zM1487.2 511.8h5.5v5.5h-5.5zM1445.7 824.5h5.5v5.5h-5.5zM1470.9 698.9h5.5v5.5h-5.5zM1474.4 702.9h5.5v5.5h-5.5zM1465.5 507.4h5.5v5.5h-5.5zM1469 511.4h5.5v5.5h-5.5zM1461.6 541.7h5.5v5.5h-5.5zM1455 809.6h5.5v5.5h-5.5zM1458.5 813.6h5.5v5.5h-5.5zM1451.2 748.7h5.5v5.5h-5.5zM1453.8 815h5.5v5.5h-5.5zM1457.3 819h5.5v5.5h-5.5zM1475.9 593.6h5.5v5.5h-5.5zM1479.4 597.6h5.5v5.5h-5.5zM1478.4 614.8h5.5v5.5h-5.5zM1481.9 618.8h5.5v5.5h-5.5zM1488 662.8h5.5v5.5h-5.5zM1491.5 666.8h5.5v5.5h-5.5zM1487.9 677.4h5.5v5.5h-5.5zM1438.1 839.8h5.5v5.5h-5.5zM1446.6 456.1h5.5v5.5h-5.5zM1447.9 801.7h5.5v5.5h-5.5zM1451.4 805.7h5.5v5.5h-5.5zM1472.5 716.8h5.5v5.5h-5.5zM1476 720.8h5.5v5.5h-5.5zM1440.7 472.8h5.5v5.5h-5.5zM1447.3 513.8h5.5v5.5h-5.5zM1497.3 538.8h5.5v5.5h-5.5zM1500.8 542.8h5.5v5.5h-5.5zM1471.4 706.6h5.5v5.5h-5.5zM1457.5 454.4h5.5v5.5h-5.5zM1442.6 786.2h5.5v5.5h-5.5zM1485.5 604.8h5.5v5.5h-5.5zM1489 608.8h5.5v5.5h-5.5zM1473.9 568.1h5.5v5.5h-5.5zM1477.4 572.1h5.5v5.5h-5.5zM1464.7 663.6h5.5v5.5h-5.5zM1445.6 819.9h5.5v5.5h-5.5zM1463.3 760.1h5.5v5.5h-5.5zM1463.5 478.6h5.5v5.5h-5.5zM1493 567.4h5.5v5.5h-5.5zM1496.5 571.4h5.5v5.5h-5.5zM1482.7 721.5h5.5v5.5h-5.5zM1446.8 500.3h5.5v5.5h-5.5zM1456.9 770.2h5.5v5.5h-5.5zM1460.4 774.2h5.5v5.5h-5.5zM1452 790.5h5.5v5.5h-5.5zM1440.8 800.1h5.5v5.5h-5.5zM1443.5 472h5.5v5.5h-5.5zM1447 476h5.5v5.5h-5.5zM1486.9 654.1h5.5v5.5h-5.5zM1465.2 474.1h5.5v5.5h-5.5zM1475.1 700h5.5v5.5h-5.5zM1421.7 441.6h5.5v5.5h-5.5zM1425.2 445.6h5.5v5.5h-5.5zM1462.9 753.1h5.5v5.5h-5.5zM1466.4 757.1h5.5v5.5h-5.5zM1481.5 600.4h5.5v5.5h-5.5zM1441.1 831.1h5.5v5.5h-5.5zM1475.8 562h5.5v5.5h-5.5zM1459.1 764.5h5.5v5.5h-5.5zM1493.1 718h5.5v5.5h-5.5zM1465.6 767.2h5.5v5.5h-5.5zM1459.3 785.7h5.5v5.5h-5.5zM1462.8 789.7h5.5v5.5h-5.5zM1488.1 590.1h5.5v5.5h-5.5zM1427.8 468.6h5.5v5.5h-5.5zM1455.7 469.3h5.5v5.5h-5.5zM1489.3 666.3h5.5v5.5h-5.5zM1436.3 446.8h5.5v5.5h-5.5zM1439.8 450.8h5.5v5.5h-5.5zM1465.5 682.2h5.5v5.5h-5.5zM1469 686.2h5.5v5.5h-5.5zM1480.4 719.8h5.5v5.5h-5.5zM1441.8 453.7h5.5v5.5h-5.5zM1470.2 513.6h5.5v5.5h-5.5zM1487.4 637.5h5.5v5.5h-5.5zM1490.9 641.5h5.5v5.5h-5.5zM1446.3 809.8h5.5v5.5h-5.5zM1449.8 813.8h5.5v5.5h-5.5zM1443.5 509.3h5.5v5.5h-5.5zM1467.9 775.8h5.5v5.5h-5.5zM1471.4 779.8h5.5v5.5h-5.5zM1463.9 737.8h5.5v5.5h-5.5zM1439 447.7h5.5v5.5h-5.5zM1492.7 542.5h5.5v5.5h-5.5zM1498.4 541.6h5.5v5.5h-5.5zM1467.3 534.3h5.5v5.5h-5.5zM1477.2 580.1h5.5v5.5h-5.5zM1480.7 584.1h5.5v5.5h-5.5zM1424 846.3h5.5v5.5h-5.5zM1456.7 763h5.5v5.5h-5.5zM1496.9 655.6h5.5v5.5h-5.5zM1500.4 659.6h5.5v5.5h-5.5zM1480.1 711.9h5.5v5.5h-5.5zM1490.2 518.9h5.5v5.5h-5.5zM1466.7 497.2h5.5v5.5h-5.5zM1455 513.1h5.5v5.5h-5.5zM1468.1 613.2h5.5v5.5h-5.5zM1471.6 617.2h5.5v5.5h-5.5zM1468.8 586.7h5.5v5.5h-5.5zM1472.3 590.7h5.5v5.5h-5.5zM1435.3 468h5.5v5.5h-5.5zM1458.1 503.8h5.5v5.5h-5.5zM1477.5 570.1h5.5v5.5h-5.5zM1433.1 478.9h5.5v5.5h-5.5zM1456.2 813.7h5.5v5.5h-5.5zM1459.7 817.7h5.5v5.5h-5.5zM1481.4 711.9h5.5v5.5h-5.5zM1482.5 631h5.5v5.5h-5.5zM1476.2 687.1h5.5v5.5h-5.5zM1471.5 740h5.5v5.5h-5.5zM1475 744h5.5v5.5h-5.5zM1450.9 822.2h5.5v5.5h-5.5zM1481.3 695.8h5.5v5.5h-5.5zM1423.4 452.3h5.5v5.5h-5.5zM1471.7 520.2h5.5v5.5h-5.5zM1463.9 545.1h5.5v5.5h-5.5zM1444.8 798.9h5.5v5.5h-5.5zM1469.7 768.9h5.5v5.5h-5.5zM1473.2 772.9h5.5v5.5h-5.5zM1484.3 597.4h5.5v5.5h-5.5zM1475.1 695.8h5.5v5.5h-5.5zM1478.6 699.8h5.5v5.5h-5.5zM1440.2 814.8h5.5v5.5h-5.5zM1447.3 465h5.5v5.5h-5.5zM1461.6 533.4h5.5v5.5h-5.5zM1452.9 753.4h5.5v5.5h-5.5zM1481.8 530h5.5v5.5h-5.5zM1485.3 534h5.5v5.5h-5.5zM1428.3 846.2h5.5v5.5h-5.5zM1477.6 650.5h5.5v5.5h-5.5zM1481.3 725.3h5.5v5.5h-5.5zM1443.8 785h5.5v5.5h-5.5zM1427.9 457.2h5.5v5.5h-5.5zM1577.4 606.3h5.5v5.5h-5.5zM1580.9 610.3h5.5v5.5h-5.5zM1579.2 610.8h5.5v5.5h-5.5zM1546.1 400.1h5.5v5.5h-5.5zM1554.8 399.8h5.5v5.5h-5.5zM1573.5 562.8h5.5v5.5h-5.5zM1577 566.8h5.5v5.5h-5.5zM1560.8 463.9h5.5v5.5h-5.5zM1557.3 416.9h5.5v5.5h-5.5zM1560.8 420.9h5.5v5.5h-5.5zM1577.9 690.8h5.5v5.5h-5.5zM1577.1 679.7h5.5v5.5h-5.5zM1568.9 573.7h5.5v5.5h-5.5zM1574.1 465.4h5.5v5.5h-5.5zM1546.9 419.7h5.5v5.5h-5.5zM1580.1 619h5.5v5.5h-5.5zM1583.6 623h5.5v5.5h-5.5zM1575 475.9h5.5v5.5h-5.5zM1574.9 578.6h5.5v5.5h-5.5zM1569 723.2h5.5v5.5h-5.5zM1574.4 467.7h5.5v5.5h-5.5zM1572.2 561.6h5.5v5.5h-5.5zM1576.2 484h5.5v5.5h-5.5zM1562.5 716.8h5.5v5.5h-5.5zM1556.3 402.2h5.5v5.5h-5.5zM1564.2 499.3h5.5v5.5h-5.5zM1567.7 503.3h5.5v5.5h-5.5zM1562 417.5h5.5v5.5h-5.5zM1565.5 421.5h5.5v5.5h-5.5zM1557.7 439.2h5.5v5.5h-5.5zM1561.2 443.2h5.5v5.5h-5.5zM1565.4 727h5.5v5.5h-5.5zM1568.9 731h5.5v5.5h-5.5zM1573.7 562.9h5.5v5.5h-5.5zM1566.2 724.7h5.5v5.5h-5.5zM1555.3 405.6h5.5v5.5h-5.5zM1580.3 516.1h5.5v5.5h-5.5zM1579.6 590.6h5.5v5.5h-5.5zM1561.3 430.3h5.5v5.5h-5.5zM1564.8 434.3h5.5v5.5h-5.5zM1581.7 642.2h5.5v5.5h-5.5zM1567.7 689.4h5.5v5.5h-5.5zM1564.4 499.5h5.5v5.5h-5.5zM1563 726.1h5.5v5.5h-5.5zM1560.5 429.3h5.5v5.5h-5.5zM1574 539h5.5v5.5h-5.5zM1550.5 409.7h5.5v5.5h-5.5zM1554 413.7h5.5v5.5h-5.5zM1577.6 631.1h5.5v5.5h-5.5zM1581.1 635.1h5.5v5.5h-5.5zM1545 411.3h5.5v5.5h-5.5zM1548.5 415.3h5.5v5.5h-5.5zM1568.9 726.4h5.5v5.5h-5.5zM1575.9 655.4h5.5v5.5h-5.5zM1568.3 688.3h5.5v5.5h-5.5zM1571.8 692.3h5.5v5.5h-5.5zM1575.9 701.7h5.5v5.5h-5.5zM1574.9 571.2h5.5v5.5h-5.5zM1578.4 575.2h5.5v5.5h-5.5zM1583.6 593.1h5.5v5.5h-5.5zM1587.1 597.1h5.5v5.5h-5.5zM1569 455.6h5.5v5.5h-5.5zM1551.4 417.7h5.5v5.5h-5.5zM1570.8 509.1h5.5v5.5h-5.5zM1571 448.4h5.5v5.5h-5.5zM1575.7 627.4h5.5v5.5h-5.5zM1551.8 404.1h5.5v5.5h-5.5zM1566 711.2h5.5v5.5h-5.5zM1581.6 554.5h5.5v5.5h-5.5zM1582.4 561h5.5v5.5h-5.5zM1585.9 565h5.5v5.5h-5.5zM1564.8 449.8h5.5v5.5h-5.5zM1576.7 510.7h5.5v5.5h-5.5zM1580.2 514.7h5.5v5.5h-5.5zM1579.2 635.6h5.5v5.5h-5.5zM1582.7 639.6h5.5v5.5h-5.5zM1583.2 605.8h5.5v5.5h-5.5zM1569.3 704.5h5.5v5.5h-5.5zM1564.7 715.3h5.5v5.5h-5.5zM1564.5 703.6h5.5v5.5h-5.5zM1572.2 551.5h5.5v5.5h-5.5zM1575.7 555.5h5.5v5.5h-5.5zM1575 498.4h5.5v5.5h-5.5zM1578.5 502.4h5.5v5.5h-5.5zM1563.7 456.2h5.5v5.5h-5.5zM1578.6 588.7h5.5v5.5h-5.5zM1572.2 562.7h5.5v5.5h-5.5zM1556.1 406.8h5.5v5.5h-5.5zM1581.1 618.2h5.5v5.5h-5.5zM1584.6 622.2h5.5v5.5h-5.5zM1576.5 617.2h5.5v5.5h-5.5zM1408.8 491.3h5.5v5.5h-5.5zM1386.9 535.4h5.5v5.5h-5.5zM1355.2 504.2h5.5v5.5h-5.5zM1402.7 511.3h5.5v5.5h-5.5zM1366.6 529h5.5v5.5h-5.5zM1382 490.5h5.5v5.5h-5.5zM1385.5 494.5h5.5v5.5h-5.5zM1401 497.9h5.5v5.5h-5.5zM1357.7 513.6h5.5v5.5h-5.5zM1361.2 517.6h5.5v5.5h-5.5zM1366.8 474h5.5v5.5h-5.5zM1367.3 492.1h5.5v5.5h-5.5zM1431.9 525.4h5.5v5.5h-5.5zM1374 522h5.5v5.5h-5.5zM1363.2 468h5.5v5.5h-5.5zM1398.5 526.2h5.5v5.5h-5.5zM1402 530.2h5.5v5.5h-5.5zM1367.3 509.8h5.5v5.5h-5.5zM1408.5 481.4h5.5v5.5h-5.5zM1414.2 552.5h5.5v5.5h-5.5zM1387.5 541.4h5.5v5.5h-5.5zM908 270.9h5.5v5.5h-5.5zM910.4 275.7h5.5v5.5h-5.5zM912.8 280.5h5.5v5.5h-5.5zM915.2 285.2h5.5v5.5h-5.5zM915.2 285.2h5.5v5.5h-5.5zM919.2 289.2h5.5v5.5h-5.5zM924.2 291.9h5.5v5.5h-5.5zM929.6 293.6h5.5v5.5h-5.5zM934.9 295.2h5.5v5.5h-5.5zM940.2 296.9h5.5v5.5h-5.5zM958 304.9h5.5v5.5h-5.5zM977.2 309.8h5.5v5.5h-5.5zM1006.2 319.2h5.5v5.5h-5.5zM1017.2 322.2h5.5v5.5h-5.5zM1023.2 324.2h5.5v5.5h-5.5zM1045.2 329.2h5.5v5.5h-5.5zM1063.2 330.8h5.5v5.5h-5.5zM1076 334.1h5.5v5.5h-5.5zM1087.2 337.2h5.5v5.5h-5.5zM1101.2 343.2h5.5v5.5h-5.5zM1107.2 345.2h5.5v5.5h-5.5zM1114.2 348.2h5.5v5.5h-5.5zM1119.2 350.2h5.5v5.5h-5.5zM1126.2 355.1h5.5v5.5h-5.5zM1166.2 387.8h5.5v5.5h-5.5zM1169.6 390.6h5.5v5.5h-5.5zM1172.9 393.4h5.5v5.5h-5.5zM1176.2 396.2h5.5v5.5h-5.5zM1179.5 399h5.5v5.5h-5.5zM1182.8 401.8h5.5v5.5h-5.5zM1186.1 404.6h5.5v5.5h-5.5zM1189.4 407.4h5.5v5.5h-5.5zM1192.7 410.2h5.5v5.5h-5.5zM1196 413h5.5v5.5h-5.5zM1199.3 415.8h5.5v5.5h-5.5zM1202.6 418.6h5.5v5.5h-5.5zM1205.9 421.4h5.5v5.5h-5.5zM1209.2 424.2h5.5v5.5h-5.5zM1222.8 431.6h5.5v5.5h-5.5zM1234.2 443.9h5.5v5.5h-5.5zM1130.2 237.8h5.5v5.5h-5.5zM1133.4 240.8h5.5v5.5h-5.5zM1136.6 243.8h5.5v5.5h-5.5zM1139.8 246.9h5.5v5.5h-5.5zM1143 249.9h5.5v5.5h-5.5zM1146.2 253h5.5v5.5h-5.5zM1149.3 256h5.5v5.5h-5.5zM1152.5 259.1h5.5v5.5h-5.5zM1155.7 262.1h5.5v5.5h-5.5zM1158.9 265.2h5.5v5.5h-5.5zM1162.1 268.2h5.5v5.5h-5.5zM1165.2 271.2h5.5v5.5h-5.5zM1186.2 273.2h5.5v5.5h-5.5zM1197.2 275.2h5.5v5.5h-5.5zM1205.2 276.2h5.5v5.5h-5.5zM1219.2 276.2h5.5v5.5h-5.5zM1233.2 277.2h5.5v5.5h-5.5zM1192.8 293.8h5.5v5.5h-5.5zM1168.2 315.1h5.5v5.5h-5.5zM1264.2 315.1h5.5v5.5h-5.5zM1268.8 322.6h5.5v5.5h-5.5zM1284.2 546.2h5.5v5.5h-5.5zM1287.2 551.8h5.5v5.5h-5.5zM1290.2 557.2h5.5v5.5h-5.5zM1287.2 560.2h5.5v5.5h-5.5zM1290.2 565.2h5.5v5.5h-5.5zM1293.2 570.2h5.5v5.5h-5.5zM1279.2 589.2h5.5v5.5h-5.5zM1283.2 595.2h5.5v5.5h-5.5zM1133.2 161.2h5.5v5.5h-5.5zM1137.6 162.4h5.5v5.5h-5.5zM1142 163.5h5.5v5.5h-5.5zM1146.4 164.6h5.5v5.5h-5.5zM1150.8 165.8h5.5v5.5h-5.5zM1155.1 166.9h5.5v5.5h-5.5zM1159.5 168h5.5v5.5h-5.5zM1163.9 169.1h5.5v5.5h-5.5zM1168.2 170.2h5.5v5.5h-5.5zM1173.2 154.2h5.5v5.5h-5.5zM1176.2 157.2h5.5v5.5h-5.5zM1179.2 160.2h5.5v5.5h-5.5zM1182.2 163.2h5.5v5.5h-5.5zM1186.8 208.7h5.5v5.5h-5.5zM1191.2 209.9h5.5v5.5h-5.5zM1195.6 211.1h5.5v5.5h-5.5zM1200 212.3h5.5v5.5h-5.5zM1204.4 213.5h5.5v5.5h-5.5zM1208.8 214.8h5.5v5.5h-5.5zM1213.2 216h5.5v5.5h-5.5zM1217.6 217.2h5.5v5.5h-5.5zM1222 218.4h5.5v5.5h-5.5zM1226.4 219.6h5.5v5.5h-5.5zM1230.8 220.8h5.5v5.5h-5.5zM1132.2 240.2h5.5v5.5h-5.5zM1135.5 243.2h5.5v5.5h-5.5zM1138.7 246.1h5.5v5.5h-5.5zM1141.8 248.9h5.5v5.5h-5.5zM1145 251.8h5.5v5.5h-5.5zM1148.2 254.8h5.5v5.5h-5.5zM1151.5 257.6h5.5v5.5h-5.5zM1154.7 260.6h5.5v5.5h-5.5zM1157.8 263.4h5.5v5.5h-5.5zM1161 266.4h5.5v5.5h-5.5zM1164.2 269.2h5.5v5.5h-5.5zM1391.2 765.2h5.5v5.5h-5.5zM1393.2 769.2h5.5v5.5h-5.5zM1397.2 761.2h5.5v5.5h-5.5z"/><polygon fill="#CE0000" points="1409,344 1431,370 1433,388 1452,405 1474,431 1479,458 1491,484 1500,510 1512,545 1519,580 1522,612 1515,650 1505,668 1500,693 1493,752 1480,780 1465,810 1444,854 1428,878 1415,915 1401,945 1383,972 1377,982 1388,984 1403,966 1415,948 1428,928 1442,906 1468,894 1478,875 1490,860 1505,850 1520,830 1532,810 1539,800 1548,775 1556,750 1565,715 1572,680 1579,645 1576,605 1568,560 1566,545 1552,510 1544,484 1531,458 1523,431 1523,405 1514,388 1498,370 1505,344 1512,321 1480,322 1440,330"/><path fill="#fff" d="M1483.7 348.9h2v3h-2zM1480.6 335h4v2h-4zM1457.3 355.3h2v4h-2zM1514.8 409.4h4v3h-4zM1455 355.8h2v3h-2zM1503.7 466.8h2v3h-2zM1515.8 503.1h3v2h-3zM1462.1 369.7h2v4h-2zM1497.5 458.6h2v2h-2zM1561.8 672.3h2v4h-2zM1525 565.8h2v2h-2zM1439.8 385.1h2v2h-2zM1478 327.8h3v6h-3zM1524.1 503.2h4v6h-4zM1501.1 752.7h3v2h-3zM1451.3 388.2h4v3h-4zM1521.7 715.9h4v6h-4zM1514 452.8h3v4h-3zM1506.5 511h2v2h-2zM1534.4 694.7h2v6h-2zM1506.3 493.9h2v3h-2zM1529.8 505.6h2v2h-2zM1538.3 754.5h2v3h-2zM1515.7 750.6h3v3h-3zM1530.1 527.1h4v4h-4zM1544.9 584.4h2v4h-2zM1547.7 743.3h2v4h-2zM1538.8 585h3v2h-3zM1541.8 743.4h3v4h-3zM1518.8 779.3h2v3h-2zM1549.1 613.4h2v6h-2zM1543.7 609.8h4v3h-4zM1551.5 571.4h2v3h-2zM1549 607.9h2v3h-2zM1561.8 615.5h3v3h-3zM1530.1 556.8h2v2h-2zM1474.4 332.4h4v6h-4zM1531.5 474.3h3v6h-3zM1498.4 327.2h2v3h-2zM1526.3 511.1h2v3h-2zM1442.4 360.8h3v3h-3zM1561.1 670.1h2v6h-2zM1464.2 406.1h2v3h-2zM1471.7 326h3v2h-3zM1511.6 479.4h3v3h-3zM1518.7 678.3h4v2h-4zM1564.8 632.2h3v2h-3zM1529.4 503.9h3v6h-3zM1566.3 660h3v3h-3zM1418.1 345.4h4v3h-4zM1484.2 788.9h3v3h-3zM1557.3 688.8h4v4h-4zM1523.5 648.8h2v4h-2zM1486.4 355h2v3h-2zM1527.5 714.3h2v2h-2zM1546.3 681.6h3v6h-3zM1528 504h2v4h-2zM1497.5 457.4h2v6h-2zM1561 604.1h3v6h-3zM1523.4 646.5h3v3h-3zM1515.8 451.9h4v4h-4zM1481.3 360.5h3v2h-3zM1490.7 403.8h3v4h-3zM1547 519.3h4v4h-4zM1505.1 388.5h3v3h-3zM1520.9 550.3h4v4h-4zM1531.5 506h3v4h-3zM1520 750.1h3v4h-3zM1549.4 699h2v6h-2zM1570.5 621.3h4v4h-4zM1520.4 697.3h3v6h-3zM1515.2 471.5h3v6h-3zM1483.9 449.5h2v6h-2zM1439.3 374.8h2v3h-2zM1561.3 674.2h2v6h-2zM1421.6 344.3h2v6h-2zM1533.4 690.4h2v3h-2zM1560.4 700.9h2v4h-2zM1481.2 345.8h4v3h-4zM1547.9 706.6h2v4h-2zM1483.2 394.9h3v4h-3zM1439.8 356.7h3v6h-3zM1527.8 688.9h2v6h-2zM1501.4 457.2h3v4h-3zM1489.2 361.8h2v3h-2zM1453.1 372.4h3v4h-3zM1542.9 502h3v6h-3zM1500.8 470h2v2h-2zM1489.6 417.1h3v4h-3zM1543.7 607.8h2v4h-2zM1531.8 744.5h4v3h-4zM1521.5 712.9h2v2h-2zM1503.7 413.8h2v3h-2zM1517.8 475.4h3v4h-3zM1470.5 379.2h2v3h-2zM1559.6 575.9h4v2h-4zM1490.2 445h3v3h-3zM1487.7 356.8h2v6h-2zM1566.8 629.8h3v6h-3zM1460.2 336.5h4v6h-4zM1444.9 382.7h2v4h-2zM1522.8 690.3h3v6h-3zM1516.2 676.5h3v6h-3zM1556.6 538.4h3v6h-3zM1462.2 378.5h2v2h-2zM1482 381.9h4v6h-4zM1541.7 507.3h3v3h-3zM1504.7 410.8h2v2h-2zM1534.3 515.7h2v3h-2zM1516.6 447.1h2v4h-2zM1536.7 495.7h4v2h-4zM1496.2 428.4h3v3h-3zM1511.7 450.8h2v6h-2zM1487.7 408.4h2v2h-2zM1502.6 750.8h4v6h-4zM1533.9 747.6h3v6h-3zM1535.2 563.3h4v3h-4zM1498.9 443.6h2v2h-2zM1544.8 690h2v4h-2zM1530.8 783.5h2v6h-2z"/><polyline fill="none" stroke="#FDDA00" stroke-width="2.6" points="975.3,372.3 1004.4,399.8 1033.5,428.3"/><polyline fill="none" stroke="#FDDA00" stroke-width="2.6" points="448,314.3 658.9,370"/><polyline fill="none" stroke="#FDDA00" stroke-width="2.6" points="696.8,370 736.8,371 778.8,370 842,369 888,374"/><polyline fill="none" stroke="#FDDA00" stroke-width="2.6" points="891.4,383.6 928,365 940,360"/><polyline fill="none" stroke="#FDDA00" stroke-width="2.6" points="981.2,123.6 1000,121 1100,117 1170,112"/><polyline fill="none" stroke="#FDDA00" stroke-width="2.6" points="922.4,460.6 954.7,484.8 962.8,495 995,509 1021.4,527.3 1031.5,537.4 1093,568.7 1139.6,590 1189,616.3 1233.7,637 1267.8,651.9"/><polyline fill="none" stroke="#FDDA00" stroke-width="2.6" points="1003,403 1033.5,428.3 1072,468.7 1098,489 1150.7,527.3 1251.5,573.3 1275,583.7"/><polyline fill="none" stroke="#FDDA00" stroke-width="2.6" points="1327,742 1329.5,700"/><polyline fill="none" stroke="#FDDA00" stroke-width="2.6" points="1289.6,817 1279.6,831.8 1293.4,871.7 1307,926.5"/><polyline fill="none" stroke="#FDDA00" stroke-width="2.6" points="1331,437.7 1341.7,475.4"/><polygon fill="#FDDA00" stroke="#FDDA00" stroke-width="8" stroke-linejoin="round" points="1199,355 1236,372 1260,367 1277,374 1298,389 1300,470 1288,470 1286,420 1267,402 1236,389 1208,374"/><polygon fill="#FDDA00" stroke="#FDDA00" stroke-width="8" stroke-linejoin="round" points="1325,900 1372,900 1340,990 1310,1062 1286,1062 1288,990 1300,950"/><polygon fill="#FDDA00" stroke="#FDDA00" stroke-width="8" stroke-linejoin="round" points="1240,645 1262,632 1290,622 1310,628 1314,660 1330,666 1350,663 1353,632 1377,634 1377,660 1395,668 1395,760 1381,760 1380,708 1354,708 1337,703 1313,701 1302,687 1285,680 1264,670 1245,660"/><polyline fill="none" stroke="#FDDA00" stroke-width="20" stroke-linecap="round" stroke-linejoin="round" points="1286,395 1288,430 1288,466"/><polyline fill="none" stroke="#FDDA00" stroke-width="24" stroke-linecap="round" stroke-linejoin="round" points="1270,480 1285,515 1300,535 1318,560"/><polyline fill="none" stroke="#FDDA00" stroke-width="22" stroke-linecap="round" stroke-linejoin="round" points="1301,1035 1292,1062 1274,1104 1245,1146 1220,1188 1192,1230 1184,1271 1172,1300"/><polyline fill="none" stroke="#FDDA00" stroke-width="24" stroke-linecap="round" stroke-linejoin="round" points="1300,1000 1310,980 1335,950 1350,920 1362,890 1372,860"/><polyline fill="none" stroke="#FDDA00" stroke-width="24" stroke-linecap="round" stroke-linejoin="round" points="1383,700 1385,760 1383,820 1378,860"/><polyline fill="none" stroke="#FDDA00" stroke-width="22" stroke-linecap="round" stroke-linejoin="round" points="1300,1000 1320,1005 1340,995"/><polyline fill="none" stroke="#FDDA00" stroke-width="12" stroke-linecap="round" stroke-linejoin="round" points="1432,852 1421,885 1412,910 1403,935 1393,960 1381,981"/><polyline fill="none" stroke="#FDDA00" stroke-width="20" stroke-linecap="round" stroke-linejoin="round" points="1430,730 1440,760 1441,780"/><polyline fill="none" stroke="#FDDA00" stroke-width="22" stroke-linecap="round" stroke-linejoin="round" points="1455,720 1445,730"/><polyline fill="none" stroke="#FDDA00" stroke-width="18" stroke-linecap="round" stroke-linejoin="round" points="1010,122 1060,118 1100,113 1165,111"/><polyline fill="none" stroke="#FDDA00" stroke-width="18" stroke-linecap="round" stroke-linejoin="round" points="1000,150 1020,146 1040,140 1060,141 1080,140 1100,141 1120,140 1148,141"/><polyline fill="none" stroke="#FDDA00" stroke-width="18" stroke-linecap="round" stroke-linejoin="round" points="1010,132 1130,130"/><polyline fill="none" stroke="#FDDA00" stroke-width="20" stroke-linecap="round" stroke-linejoin="round" points="1105,113 1165,112"/><polyline fill="none" stroke="#FDDA00" stroke-width="24" stroke-linecap="round" stroke-linejoin="round" points="1122,150 1125,162 1128,175 1130,188"/><polyline fill="none" stroke="#FDDA00" stroke-width="22" stroke-linecap="round" stroke-linejoin="round" points="1120,190 1160,192 1200,190 1240,188"/><polyline fill="none" stroke="#FDDA00" stroke-width="20" stroke-linecap="round" stroke-linejoin="round" points="1215,120 1240,135 1230,150 1215,135"/><polyline fill="none" stroke="#FDDA00" stroke-width="18" stroke-linecap="round" stroke-linejoin="round" points="1190,170 1215,160"/><polyline fill="none" stroke="#FDDA00" stroke-width="22" stroke-linecap="round" stroke-linejoin="round" points="1040,318 1064,325 1088,328 1112,333 1136,338 1148,340"/><polyline fill="none" stroke="#FDDA00" stroke-width="18" stroke-linecap="round" stroke-linejoin="round" points="1040,330 1080,335"/><polyline fill="none" stroke="#FDDA00" stroke-width="24" stroke-linecap="round" stroke-linejoin="round" points="1309,372 1330,392 1346,412 1369,424 1383,436 1392,456 1414,470 1424,486 1437,502 1451,511 1465,520 1483,534 1488,552 1474,566 1456,580 1447,598 1449,616 1447,635 1449,653 1458,671 1453,690 1450,710"/><polyline fill="none" stroke="#FDDA00" stroke-width="22" stroke-linecap="round" stroke-linejoin="round" points="1327,478 1339,480 1360,490 1376,502 1392,520 1405,535 1410,550 1400,566 1398,580 1385,590 1375,600"/><polyline fill="none" stroke="#FDDA00" stroke-width="22" stroke-linecap="round" stroke-linejoin="round" points="1262,362 1275,385 1285,410 1290,440 1293,468"/><path fill="#FDDA00" d="M265.8 276.3a10.5 10.5 0 1 0 21 0a10.5 10.5 0 1 0 -21 0zM290.6 275.6a10.5 10.5 0 1 0 21 0a10.5 10.5 0 1 0 -21 0zM302.3 277a10.5 10.5 0 1 0 21 0a10.5 10.5 0 1 0 -21 0zM324.2 277.8a10.5 10.5 0 1 0 21 0a10.5 10.5 0 1 0 -21 0zM333 280a10.5 10.5 0 1 0 21 0a10.5 10.5 0 1 0 -21 0zM352 283.6a10.5 10.5 0 1 0 21 0a10.5 10.5 0 1 0 -21 0zM356.5 285.8a10.5 10.5 0 1 0 21 0a10.5 10.5 0 1 0 -21 0zM371 290.2a10.5 10.5 0 1 0 21 0a10.5 10.5 0 1 0 -21 0zM387.1 295.3a10.5 10.5 0 1 0 21 0a10.5 10.5 0 1 0 -21 0zM394.4 298.2a10.5 10.5 0 1 0 21 0a10.5 10.5 0 1 0 -21 0zM410.5 304.8a10.5 10.5 0 1 0 21 0a10.5 10.5 0 1 0 -21 0zM437.5 314.3a10.5 10.5 0 1 0 21 0a10.5 10.5 0 1 0 -21 0zM648.4 370a10.5 10.5 0 1 0 21 0a10.5 10.5 0 1 0 -21 0zM667.3 370a10.5 10.5 0 1 0 21 0a10.5 10.5 0 1 0 -21 0zM686.3 370a10.5 10.5 0 1 0 21 0a10.5 10.5 0 1 0 -21 0zM726.3 371a10.5 10.5 0 1 0 21 0a10.5 10.5 0 1 0 -21 0zM757.8 369a10.5 10.5 0 1 0 21 0a10.5 10.5 0 1 0 -21 0zM768.3 370a10.5 10.5 0 1 0 21 0a10.5 10.5 0 1 0 -21 0zM831.5 369a10.5 10.5 0 1 0 21 0a10.5 10.5 0 1 0 -21 0zM877.5 374a10.5 10.5 0 1 0 21 0a10.5 10.5 0 1 0 -21 0zM880.9 383.6a10.5 10.5 0 1 0 21 0a10.5 10.5 0 1 0 -21 0zM815.1 138.2a10.5 10.5 0 1 0 21 0a10.5 10.5 0 1 0 -21 0zM824.5 141a10.5 10.5 0 1 0 21 0a10.5 10.5 0 1 0 -21 0zM833.3 141.9a10.5 10.5 0 1 0 21 0a10.5 10.5 0 1 0 -21 0zM853.8 138.2a10.5 10.5 0 1 0 21 0a10.5 10.5 0 1 0 -21 0zM892.5 133.8a10.5 10.5 0 1 0 21 0a10.5 10.5 0 1 0 -21 0zM910.8 131.6a10.5 10.5 0 1 0 21 0a10.5 10.5 0 1 0 -21 0zM929.8 129.5a10.5 10.5 0 1 0 21 0a10.5 10.5 0 1 0 -21 0zM970.7 123.6a10.5 10.5 0 1 0 21 0a10.5 10.5 0 1 0 -21 0zM948.8 160a10.5 10.5 0 1 0 21 0a10.5 10.5 0 1 0 -21 0zM957.5 157.2a10.5 10.5 0 1 0 21 0a10.5 10.5 0 1 0 -21 0zM967.8 154.3a10.5 10.5 0 1 0 21 0a10.5 10.5 0 1 0 -21 0zM988.9 150a10.5 10.5 0 1 0 21 0a10.5 10.5 0 1 0 -21 0zM918 357.8a10.5 10.5 0 1 0 21 0a10.5 10.5 0 1 0 -21 0zM934.1 362.6a10.5 10.5 0 1 0 21 0a10.5 10.5 0 1 0 -21 0zM937.5 333.5a10.5 10.5 0 1 0 21 0a10.5 10.5 0 1 0 -21 0zM922.5 346.5a10.5 10.5 0 1 0 21 0a10.5 10.5 0 1 0 -21 0zM936.5 367.9a10.5 10.5 0 1 0 21 0a10.5 10.5 0 1 0 -21 0zM924 357.4a10.5 10.5 0 1 0 21 0a10.5 10.5 0 1 0 -21 0zM964.8 372.3a10.5 10.5 0 1 0 21 0a10.5 10.5 0 1 0 -21 0zM993.9 399.8a10.5 10.5 0 1 0 21 0a10.5 10.5 0 1 0 -21 0zM909.9 395a10.5 10.5 0 1 0 21 0a10.5 10.5 0 1 0 -21 0zM909.3 393a10.5 10.5 0 1 0 21 0a10.5 10.5 0 1 0 -21 0zM892.5 403.6a10.5 10.5 0 1 0 21 0a10.5 10.5 0 1 0 -21 0zM881.9 414a10.5 10.5 0 1 0 21 0a10.5 10.5 0 1 0 -21 0zM879.8 426.8a10.5 10.5 0 1 0 21 0a10.5 10.5 0 1 0 -21 0zM886.1 439.4a10.5 10.5 0 1 0 21 0a10.5 10.5 0 1 0 -21 0zM894.5 447.8a10.5 10.5 0 1 0 21 0a10.5 10.5 0 1 0 -21 0zM899.8 450.5a10.5 10.5 0 1 0 21 0a10.5 10.5 0 1 0 -21 0zM911.9 460.6a10.5 10.5 0 1 0 21 0a10.5 10.5 0 1 0 -21 0zM917.5 464.6a10.5 10.5 0 1 0 21 0a10.5 10.5 0 1 0 -21 0zM944.2 484.8a10.5 10.5 0 1 0 21 0a10.5 10.5 0 1 0 -21 0zM952.3 495a10.5 10.5 0 1 0 21 0a10.5 10.5 0 1 0 -21 0zM984.5 509a10.5 10.5 0 1 0 21 0a10.5 10.5 0 1 0 -21 0zM1010.9 527.3a10.5 10.5 0 1 0 21 0a10.5 10.5 0 1 0 -21 0zM1021 537.4a10.5 10.5 0 1 0 21 0a10.5 10.5 0 1 0 -21 0zM1082.5 568.7a10.5 10.5 0 1 0 21 0a10.5 10.5 0 1 0 -21 0zM1129.1 590a10.5 10.5 0 1 0 21 0a10.5 10.5 0 1 0 -21 0zM1178.5 616.3a10.5 10.5 0 1 0 21 0a10.5 10.5 0 1 0 -21 0zM1223.2 637a10.5 10.5 0 1 0 21 0a10.5 10.5 0 1 0 -21 0zM1257.3 651.9a10.5 10.5 0 1 0 21 0a10.5 10.5 0 1 0 -21 0zM1267.5 662a10.5 10.5 0 1 0 21 0a10.5 10.5 0 1 0 -21 0zM992.5 403a10.5 10.5 0 1 0 21 0a10.5 10.5 0 1 0 -21 0zM1023 428.3a10.5 10.5 0 1 0 21 0a10.5 10.5 0 1 0 -21 0zM1027.1 440.4a10.5 10.5 0 1 0 21 0a10.5 10.5 0 1 0 -21 0zM1041.2 452.5a10.5 10.5 0 1 0 21 0a10.5 10.5 0 1 0 -21 0zM1051.3 460.6a10.5 10.5 0 1 0 21 0a10.5 10.5 0 1 0 -21 0zM1061.5 468.7a10.5 10.5 0 1 0 21 0a10.5 10.5 0 1 0 -21 0zM1087.5 489a10.5 10.5 0 1 0 21 0a10.5 10.5 0 1 0 -21 0zM1101.5 501a10.5 10.5 0 1 0 21 0a10.5 10.5 0 1 0 -21 0zM1118 513a10.5 10.5 0 1 0 21 0a10.5 10.5 0 1 0 -21 0zM1132.1 521a10.5 10.5 0 1 0 21 0a10.5 10.5 0 1 0 -21 0zM1140.2 527.3a10.5 10.5 0 1 0 21 0a10.5 10.5 0 1 0 -21 0zM1128.5 515.6a10.5 10.5 0 1 0 21 0a10.5 10.5 0 1 0 -21 0zM1241 573.3a10.5 10.5 0 1 0 21 0a10.5 10.5 0 1 0 -21 0zM1264.5 583.7a10.5 10.5 0 1 0 21 0a10.5 10.5 0 1 0 -21 0zM1163.9 216a10.5 10.5 0 1 0 21 0a10.5 10.5 0 1 0 -21 0zM1150.2 225a10.5 10.5 0 1 0 21 0a10.5 10.5 0 1 0 -21 0zM1138 234a10.5 10.5 0 1 0 21 0a10.5 10.5 0 1 0 -21 0zM1113.5 240.3a10.5 10.5 0 1 0 21 0a10.5 10.5 0 1 0 -21 0zM1101.5 249.4a10.5 10.5 0 1 0 21 0a10.5 10.5 0 1 0 -21 0zM1087.9 261.6a10.5 10.5 0 1 0 21 0a10.5 10.5 0 1 0 -21 0zM1072.5 273.7a10.5 10.5 0 1 0 21 0a10.5 10.5 0 1 0 -21 0zM1063.5 283a10.5 10.5 0 1 0 21 0a10.5 10.5 0 1 0 -21 0zM1095.5 287.4a10.5 10.5 0 1 0 21 0a10.5 10.5 0 1 0 -21 0zM1086.1 264a10.5 10.5 0 1 0 21 0a10.5 10.5 0 1 0 -21 0zM1099 252.7a10.5 10.5 0 1 0 21 0a10.5 10.5 0 1 0 -21 0zM1111.9 241.4a10.5 10.5 0 1 0 21 0a10.5 10.5 0 1 0 -21 0zM1073.1 273.7a10.5 10.5 0 1 0 21 0a10.5 10.5 0 1 0 -21 0zM1061.8 283.4a10.5 10.5 0 1 0 21 0a10.5 10.5 0 1 0 -21 0zM1095.5 290a10.5 10.5 0 1 0 21 0a10.5 10.5 0 1 0 -21 0zM1116.5 280a10.5 10.5 0 1 0 21 0a10.5 10.5 0 1 0 -21 0zM1171.5 237a10.5 10.5 0 1 0 21 0a10.5 10.5 0 1 0 -21 0zM1198.8 237a10.5 10.5 0 1 0 21 0a10.5 10.5 0 1 0 -21 0zM1211 237a10.5 10.5 0 1 0 21 0a10.5 10.5 0 1 0 -21 0zM1235.3 232.7a10.5 10.5 0 1 0 21 0a10.5 10.5 0 1 0 -21 0zM1244.5 219a10.5 10.5 0 1 0 21 0a10.5 10.5 0 1 0 -21 0zM1267.2 231a10.5 10.5 0 1 0 21 0a10.5 10.5 0 1 0 -21 0zM1189.5 258.5a10.5 10.5 0 1 0 21 0a10.5 10.5 0 1 0 -21 0zM1198.5 255.5a10.5 10.5 0 1 0 21 0a10.5 10.5 0 1 0 -21 0zM1135 276.8a10.5 10.5 0 1 0 21 0a10.5 10.5 0 1 0 -21 0zM1122.8 284.4a10.5 10.5 0 1 0 21 0a10.5 10.5 0 1 0 -21 0zM1147.1 270.7a10.5 10.5 0 1 0 21 0a10.5 10.5 0 1 0 -21 0zM1027.5 319a10.5 10.5 0 1 0 21 0a10.5 10.5 0 1 0 -21 0zM1047.3 322a10.5 10.5 0 1 0 21 0a10.5 10.5 0 1 0 -21 0zM1071.5 320.6a10.5 10.5 0 1 0 21 0a10.5 10.5 0 1 0 -21 0zM1095.5 322a10.5 10.5 0 1 0 21 0a10.5 10.5 0 1 0 -21 0zM1109.5 330a10.5 10.5 0 1 0 21 0a10.5 10.5 0 1 0 -21 0zM1119.5 336a10.5 10.5 0 1 0 21 0a10.5 10.5 0 1 0 -21 0zM1265.5 191.7a10.5 10.5 0 1 0 21 0a10.5 10.5 0 1 0 -21 0zM1227.5 190a10.5 10.5 0 1 0 21 0a10.5 10.5 0 1 0 -21 0zM1267.5 191.8a10.5 10.5 0 1 0 21 0a10.5 10.5 0 1 0 -21 0zM1295 190a10.5 10.5 0 1 0 21 0a10.5 10.5 0 1 0 -21 0zM1311.3 191.8a10.5 10.5 0 1 0 21 0a10.5 10.5 0 1 0 -21 0zM1356.5 188a10.5 10.5 0 1 0 21 0a10.5 10.5 0 1 0 -21 0zM1373.1 206.4a10.5 10.5 0 1 0 21 0a10.5 10.5 0 1 0 -21 0zM1387.5 190a10.5 10.5 0 1 0 21 0a10.5 10.5 0 1 0 -21 0zM1404 193.6a10.5 10.5 0 1 0 21 0a10.5 10.5 0 1 0 -21 0zM1331.3 222.7a10.5 10.5 0 1 0 21 0a10.5 10.5 0 1 0 -21 0zM1307.5 233.6a10.5 10.5 0 1 0 21 0a10.5 10.5 0 1 0 -21 0zM1238.5 226a10.5 10.5 0 1 0 21 0a10.5 10.5 0 1 0 -21 0zM1236.5 241a10.5 10.5 0 1 0 21 0a10.5 10.5 0 1 0 -21 0zM1265.5 232a10.5 10.5 0 1 0 21 0a10.5 10.5 0 1 0 -21 0zM1267.5 244.5a10.5 10.5 0 1 0 21 0a10.5 10.5 0 1 0 -21 0zM1265.5 266a10.5 10.5 0 1 0 21 0a10.5 10.5 0 1 0 -21 0zM1280.5 273.6a10.5 10.5 0 1 0 21 0a10.5 10.5 0 1 0 -21 0zM1305.5 273.6a10.5 10.5 0 1 0 21 0a10.5 10.5 0 1 0 -21 0zM1275 288a10.5 10.5 0 1 0 21 0a10.5 10.5 0 1 0 -21 0zM1289.5 295.5a10.5 10.5 0 1 0 21 0a10.5 10.5 0 1 0 -21 0zM1269.5 304.5a10.5 10.5 0 1 0 21 0a10.5 10.5 0 1 0 -21 0zM1298.5 304.5a10.5 10.5 0 1 0 21 0a10.5 10.5 0 1 0 -21 0zM1276.5 321a10.5 10.5 0 1 0 21 0a10.5 10.5 0 1 0 -21 0zM1273.1 333.6a10.5 10.5 0 1 0 21 0a10.5 10.5 0 1 0 -21 0zM1265.5 300a10.5 10.5 0 1 0 21 0a10.5 10.5 0 1 0 -21 0zM1265.5 318a10.5 10.5 0 1 0 21 0a10.5 10.5 0 1 0 -21 0zM1253.1 359a10.5 10.5 0 1 0 21 0a10.5 10.5 0 1 0 -21 0zM1280.5 355.5a10.5 10.5 0 1 0 21 0a10.5 10.5 0 1 0 -21 0zM1298.5 377a10.5 10.5 0 1 0 21 0a10.5 10.5 0 1 0 -21 0zM1318.5 390a10.5 10.5 0 1 0 21 0a10.5 10.5 0 1 0 -21 0zM1298.5 376a10.5 10.5 0 1 0 21 0a10.5 10.5 0 1 0 -21 0zM1319.3 392a10.5 10.5 0 1 0 21 0a10.5 10.5 0 1 0 -21 0zM1335.3 412.7a10.5 10.5 0 1 0 21 0a10.5 10.5 0 1 0 -21 0zM1358.2 424a10.5 10.5 0 1 0 21 0a10.5 10.5 0 1 0 -21 0zM1371.9 435.5a10.5 10.5 0 1 0 21 0a10.5 10.5 0 1 0 -21 0zM1381.1 456a10.5 10.5 0 1 0 21 0a10.5 10.5 0 1 0 -21 0zM1404 470a10.5 10.5 0 1 0 21 0a10.5 10.5 0 1 0 -21 0zM1413.1 486a10.5 10.5 0 1 0 21 0a10.5 10.5 0 1 0 -21 0zM1426.9 502a10.5 10.5 0 1 0 21 0a10.5 10.5 0 1 0 -21 0zM1440.5 511a10.5 10.5 0 1 0 21 0a10.5 10.5 0 1 0 -21 0zM1454.3 520a10.5 10.5 0 1 0 21 0a10.5 10.5 0 1 0 -21 0zM1472.5 534a10.5 10.5 0 1 0 21 0a10.5 10.5 0 1 0 -21 0zM1477.2 552a10.5 10.5 0 1 0 21 0a10.5 10.5 0 1 0 -21 0zM1463.5 566a10.5 10.5 0 1 0 21 0a10.5 10.5 0 1 0 -21 0zM1445.2 580a10.5 10.5 0 1 0 21 0a10.5 10.5 0 1 0 -21 0zM1436 598a10.5 10.5 0 1 0 21 0a10.5 10.5 0 1 0 -21 0zM1438.3 616.4a10.5 10.5 0 1 0 21 0a10.5 10.5 0 1 0 -21 0zM1436 634.7a10.5 10.5 0 1 0 21 0a10.5 10.5 0 1 0 -21 0zM1438.3 653a10.5 10.5 0 1 0 21 0a10.5 10.5 0 1 0 -21 0zM1447.5 671.4a10.5 10.5 0 1 0 21 0a10.5 10.5 0 1 0 -21 0zM1442.9 689.7a10.5 10.5 0 1 0 21 0a10.5 10.5 0 1 0 -21 0zM1328.5 474.5a10.5 10.5 0 1 0 21 0a10.5 10.5 0 1 0 -21 0zM1349 488a10.5 10.5 0 1 0 21 0a10.5 10.5 0 1 0 -21 0zM1365 502a10.5 10.5 0 1 0 21 0a10.5 10.5 0 1 0 -21 0zM1381.1 520a10.5 10.5 0 1 0 21 0a10.5 10.5 0 1 0 -21 0zM1392.5 538.6a10.5 10.5 0 1 0 21 0a10.5 10.5 0 1 0 -21 0zM1381.1 566a10.5 10.5 0 1 0 21 0a10.5 10.5 0 1 0 -21 0zM1387.9 579.8a10.5 10.5 0 1 0 21 0a10.5 10.5 0 1 0 -21 0zM1374.2 589a10.5 10.5 0 1 0 21 0a10.5 10.5 0 1 0 -21 0zM1365 600.4a10.5 10.5 0 1 0 21 0a10.5 10.5 0 1 0 -21 0zM1312.5 618.7a10.5 10.5 0 1 0 21 0a10.5 10.5 0 1 0 -21 0zM1331.2 475.4a10.5 10.5 0 1 0 21 0a10.5 10.5 0 1 0 -21 0zM1348.5 488.8a10.5 10.5 0 1 0 21 0a10.5 10.5 0 1 0 -21 0zM1354.1 497a10.5 10.5 0 1 0 21 0a10.5 10.5 0 1 0 -21 0zM1320.5 437.7a10.5 10.5 0 1 0 21 0a10.5 10.5 0 1 0 -21 0zM1242.5 573.6a10.5 10.5 0 1 0 21 0a10.5 10.5 0 1 0 -21 0zM1266.5 575a10.5 10.5 0 1 0 21 0a10.5 10.5 0 1 0 -21 0zM1263.9 585.7a10.5 10.5 0 1 0 21 0a10.5 10.5 0 1 0 -21 0zM1252.5 487.4a10.5 10.5 0 1 0 21 0a10.5 10.5 0 1 0 -21 0zM1261.5 502a10.5 10.5 0 1 0 21 0a10.5 10.5 0 1 0 -21 0zM1270.5 517a10.5 10.5 0 1 0 21 0a10.5 10.5 0 1 0 -21 0zM1279.5 529a10.5 10.5 0 1 0 21 0a10.5 10.5 0 1 0 -21 0zM1289.5 536a10.5 10.5 0 1 0 21 0a10.5 10.5 0 1 0 -21 0zM1301.5 546.7a10.5 10.5 0 1 0 21 0a10.5 10.5 0 1 0 -21 0zM1306.2 558.5a10.5 10.5 0 1 0 21 0a10.5 10.5 0 1 0 -21 0zM1226.5 642.5a10.5 10.5 0 1 0 21 0a10.5 10.5 0 1 0 -21 0zM1259.2 655a10.5 10.5 0 1 0 21 0a10.5 10.5 0 1 0 -21 0zM1274.1 667.4a10.5 10.5 0 1 0 21 0a10.5 10.5 0 1 0 -21 0zM1301.5 677.4a10.5 10.5 0 1 0 21 0a10.5 10.5 0 1 0 -21 0zM1319 690a10.5 10.5 0 1 0 21 0a10.5 10.5 0 1 0 -21 0zM1343.9 692a10.5 10.5 0 1 0 21 0a10.5 10.5 0 1 0 -21 0zM1363.5 695a10.5 10.5 0 1 0 21 0a10.5 10.5 0 1 0 -21 0zM1299 650a10.5 10.5 0 1 0 21 0a10.5 10.5 0 1 0 -21 0zM1348.5 655a10.5 10.5 0 1 0 21 0a10.5 10.5 0 1 0 -21 0zM1316.5 742a10.5 10.5 0 1 0 21 0a10.5 10.5 0 1 0 -21 0zM1319 767a10.5 10.5 0 1 0 21 0a10.5 10.5 0 1 0 -21 0zM1301.5 772a10.5 10.5 0 1 0 21 0a10.5 10.5 0 1 0 -21 0zM1291.5 804.4a10.5 10.5 0 1 0 21 0a10.5 10.5 0 1 0 -21 0zM1279.1 817a10.5 10.5 0 1 0 21 0a10.5 10.5 0 1 0 -21 0zM1269.1 831.8a10.5 10.5 0 1 0 21 0a10.5 10.5 0 1 0 -21 0zM1282.9 871.7a10.5 10.5 0 1 0 21 0a10.5 10.5 0 1 0 -21 0zM1289.1 896.6a10.5 10.5 0 1 0 21 0a10.5 10.5 0 1 0 -21 0zM1291.5 914a10.5 10.5 0 1 0 21 0a10.5 10.5 0 1 0 -21 0zM1296.5 926.5a10.5 10.5 0 1 0 21 0a10.5 10.5 0 1 0 -21 0zM1366.3 774.5a10.5 10.5 0 1 0 21 0a10.5 10.5 0 1 0 -21 0zM1346.5 846.8a10.5 10.5 0 1 0 21 0a10.5 10.5 0 1 0 -21 0zM1331.5 914a10.5 10.5 0 1 0 21 0a10.5 10.5 0 1 0 -21 0zM1459.5 640a10.5 10.5 0 1 0 21 0a10.5 10.5 0 1 0 -21 0zM1451.5 660a10.5 10.5 0 1 0 21 0a10.5 10.5 0 1 0 -21 0zM1444.5 690a10.5 10.5 0 1 0 21 0a10.5 10.5 0 1 0 -21 0zM1439.5 710a10.5 10.5 0 1 0 21 0a10.5 10.5 0 1 0 -21 0zM1434.5 730a10.5 10.5 0 1 0 21 0a10.5 10.5 0 1 0 -21 0zM1429.5 755a10.5 10.5 0 1 0 21 0a10.5 10.5 0 1 0 -21 0zM1212.2 115.7a10.5 10.5 0 1 0 21 0a10.5 10.5 0 1 0 -21 0zM1204.5 135a10.5 10.5 0 1 0 21 0a10.5 10.5 0 1 0 -21 0zM1230.2 138.9a10.5 10.5 0 1 0 21 0a10.5 10.5 0 1 0 -21 0zM1217.5 151.7a10.5 10.5 0 1 0 21 0a10.5 10.5 0 1 0 -21 0zM1224.5 125a10.5 10.5 0 1 0 21 0a10.5 10.5 0 1 0 -21 0zM1234.5 148a10.5 10.5 0 1 0 21 0a10.5 10.5 0 1 0 -21 0zM1226.5 191.6a10.5 10.5 0 1 0 21 0a10.5 10.5 0 1 0 -21 0zM1210.9 205.7a10.5 10.5 0 1 0 21 0a10.5 10.5 0 1 0 -21 0zM1221.2 213.4a10.5 10.5 0 1 0 21 0a10.5 10.5 0 1 0 -21 0zM1267.5 191.6a10.5 10.5 0 1 0 21 0a10.5 10.5 0 1 0 -21 0zM1165.9 217.3a10.5 10.5 0 1 0 21 0a10.5 10.5 0 1 0 -21 0zM1151.8 231.4a10.5 10.5 0 1 0 21 0a10.5 10.5 0 1 0 -21 0zM1136.5 239a10.5 10.5 0 1 0 21 0a10.5 10.5 0 1 0 -21 0zM1172.5 237.9a10.5 10.5 0 1 0 21 0a10.5 10.5 0 1 0 -21 0zM1198.1 237.9a10.5 10.5 0 1 0 21 0a10.5 10.5 0 1 0 -21 0zM1210.9 235.3a10.5 10.5 0 1 0 21 0a10.5 10.5 0 1 0 -21 0zM1227.5 241.7a10.5 10.5 0 1 0 21 0a10.5 10.5 0 1 0 -21 0zM1240.5 228.9a10.5 10.5 0 1 0 21 0a10.5 10.5 0 1 0 -21 0zM1243.1 218.6a10.5 10.5 0 1 0 21 0a10.5 10.5 0 1 0 -21 0zM1184.5 240a10.5 10.5 0 1 0 21 0a10.5 10.5 0 1 0 -21 0zM1270.1 235.3a10.5 10.5 0 1 0 21 0a10.5 10.5 0 1 0 -21 0zM1277.8 250.7a10.5 10.5 0 1 0 21 0a10.5 10.5 0 1 0 -21 0zM1110.5 244.3a10.5 10.5 0 1 0 21 0a10.5 10.5 0 1 0 -21 0zM1099.1 254.6a10.5 10.5 0 1 0 21 0a10.5 10.5 0 1 0 -21 0zM1086.2 110a10.5 10.5 0 1 0 21 0a10.5 10.5 0 1 0 -21 0zM1154.5 108a10.5 10.5 0 1 0 21 0a10.5 10.5 0 1 0 -21 0zM989.5 150.2a10.5 10.5 0 1 0 21 0a10.5 10.5 0 1 0 -21 0zM1037.5 148a10.5 10.5 0 1 0 21 0a10.5 10.5 0 1 0 -21 0zM1049.5 146a10.5 10.5 0 1 0 21 0a10.5 10.5 0 1 0 -21 0zM1149.5 215a10.5 10.5 0 1 0 21 0a10.5 10.5 0 1 0 -21 0zM1161.5 224a10.5 10.5 0 1 0 21 0a10.5 10.5 0 1 0 -21 0zM1154.5 240a10.5 10.5 0 1 0 21 0a10.5 10.5 0 1 0 -21 0zM1169.5 246a10.5 10.5 0 1 0 21 0a10.5 10.5 0 1 0 -21 0zM1139.5 230a10.5 10.5 0 1 0 21 0a10.5 10.5 0 1 0 -21 0zM1179.5 232a10.5 10.5 0 1 0 21 0a10.5 10.5 0 1 0 -21 0zM1299.5 410a10.5 10.5 0 1 0 21 0a10.5 10.5 0 1 0 -21 0zM1302.5 424a10.5 10.5 0 1 0 21 0a10.5 10.5 0 1 0 -21 0zM1307.5 402a10.5 10.5 0 1 0 21 0a10.5 10.5 0 1 0 -21 0zM1224.5 638a10.5 10.5 0 1 0 21 0a10.5 10.5 0 1 0 -21 0zM1312.5 618a10.5 10.5 0 1 0 21 0a10.5 10.5 0 1 0 -21 0zM1317 742a10.5 10.5 0 1 0 21 0a10.5 10.5 0 1 0 -21 0zM1266.2 265.5a10.5 10.5 0 1 0 21 0a10.5 10.5 0 1 0 -21 0zM1303.5 274.8a10.5 10.5 0 1 0 21 0a10.5 10.5 0 1 0 -21 0zM1267.5 302.7a10.5 10.5 0 1 0 21 0a10.5 10.5 0 1 0 -21 0zM1297.2 304a10.5 10.5 0 1 0 21 0a10.5 10.5 0 1 0 -21 0zM1275.5 330.5a10.5 10.5 0 1 0 21 0a10.5 10.5 0 1 0 -21 0zM1256.9 357a10.5 10.5 0 1 0 21 0a10.5 10.5 0 1 0 -21 0zM1280.2 355.3a10.5 10.5 0 1 0 21 0a10.5 10.5 0 1 0 -21 0zM1300.3 377a10.5 10.5 0 1 0 21 0a10.5 10.5 0 1 0 -21 0zM1318.9 392.5a10.5 10.5 0 1 0 21 0a10.5 10.5 0 1 0 -21 0zM1334.5 412.6a10.5 10.5 0 1 0 21 0a10.5 10.5 0 1 0 -21 0zM1314.3 425a10.5 10.5 0 1 0 21 0a10.5 10.5 0 1 0 -21 0zM1295.5 405a10.5 10.5 0 1 0 21 0a10.5 10.5 0 1 0 -21 0zM1297.2 436a10.5 10.5 0 1 0 21 0a10.5 10.5 0 1 0 -21 0zM1328.2 474.6a10.5 10.5 0 1 0 21 0a10.5 10.5 0 1 0 -21 0zM1284.5 320a10.5 10.5 0 1 0 21 0a10.5 10.5 0 1 0 -21 0zM1289.5 285a10.5 10.5 0 1 0 21 0a10.5 10.5 0 1 0 -21 0zM1279.5 340a10.5 10.5 0 1 0 21 0a10.5 10.5 0 1 0 -21 0z"/><polyline fill="none" stroke="#B000B0" stroke-width="2.6" points="831.5,239 872,237 906,242 969.8,263.3 1006,274.2 1035,286 1088,307 1111.3,314.2 1134.6,323 1159,333.5 1189,365 1218.8,389.6 1225.8,396.6 1247.5,413"/><polyline fill="none" stroke="#0000FF" stroke-width="2.6" points="768,217 797,236 826,246 890.8,281.2 967,334 1005,342 1030.7,354.5 1062.7,372 1103,401.8 1115,412.4 1172,447.5 1201.9,478.2 1220,501 1244.8,519 1274.6,544 1299,562.4"/><path fill="#0000FF" d="M758.5 207.5h19v19h-19zM763.5 211.5h19v19h-19zM769.5 215.5h19v19h-19zM775.5 219.5h19v19h-19zM781.5 223.5h19v19h-19zM787.5 226.5h19v19h-19zM813 228.5h19v19h-19zM822 229.5h19v19h-19zM881.3 271.7h19v19h-19zM957.5 324.5h19v19h-19zM970.5 326h19v19h-19zM983.5 328h19v19h-19zM995.5 332.5h19v19h-19zM1021.2 345h19v19h-19zM1044.5 360.8h19v19h-19zM1053.2 362.5h19v19h-19zM1093.5 392.3h19v19h-19zM1105.5 402.9h19v19h-19zM1162.5 438h19v19h-19zM1192.4 468.7h19v19h-19zM1201.1 475.7h19v19h-19zM1203.5 484.5h19v19h-19zM1210.5 491.5h19v19h-19zM1223 486.2h19v19h-19zM1226.5 485.5h19v19h-19zM1235.3 509.5h19v19h-19zM1265.1 534.5h19v19h-19zM1289.5 552.9h19v19h-19zM1289.5 552.9h19v19h-19zM1286.5 558.5h19v19h-19zM1290.5 565.5h19v19h-19zM862.5 227.5h19v19h-19zM875.5 230.5h19v19h-19zM887.5 233.5h19v19h-19zM896.5 232.5h19v19h-19zM960.3 253.8h19v19h-19zM996.5 264.7h19v19h-19zM1025.5 276.5h19v19h-19zM1027.5 276.5h19v19h-19zM1047.1 286.3h19v19h-19zM1056.5 290.5h19v19h-19zM1067.3 295.9h19v19h-19zM1078.5 297.5h19v19h-19zM1101.8 304.7h19v19h-19zM1125.1 313.5h19v19h-19zM1149.5 324h19v19h-19zM1156.5 329.2h19v19h-19zM1163.5 339.5h19v19h-19zM1170.5 346.5h19v19h-19zM1179.5 355.5h19v19h-19zM1209.3 380.1h19v19h-19zM1216.3 387.1h19v19h-19zM1247.5 412.5h19v19h-19zM1249.5 417.5h19v19h-19zM1252.5 423.5h19v19h-19zM1254.5 429.5h19v19h-19zM1256.5 435.5h19v19h-19zM1258.5 441.5h19v19h-19zM1260.5 446.5h19v19h-19zM1261.5 447.5h19v19h-19zM1274.5 466.5h19v19h-19zM1275.5 472.5h19v19h-19zM1276.5 478.5h19v19h-19zM1278.5 484.5h19v19h-19zM1280.5 490.5h19v19h-19zM1282.5 493.5h19v19h-19zM1298.5 487.5h19v19h-19zM1303.5 492.5h19v19h-19zM1308.5 497.5h19v19h-19zM1312.5 502.5h19v19h-19zM1316.5 509.5h19v19h-19zM1320.5 516.5h19v19h-19zM1323.5 523.5h19v19h-19zM1326.5 530.5h19v19h-19zM1326.5 537.5h19v19h-19zM1324.5 544.5h19v19h-19zM1322.5 550.5h19v19h-19z"/><polygon fill="#0000FF" points="1289,552 1289,575 1305,580 1323.5,591 1340,600 1347,605.7 1354,627.7 1366,635 1377.6,657 1388,671.5 1395,686 1399,740 1397,771 1408,780 1395.4,797.5 1397.9,819 1395.4,851 1390.6,865.4 1381,882.4 1372,905 1367.5,927.5 1355.4,961 1339.3,988 1325.8,1015 1317.7,1035 1307.5,1041.8 1290.8,1077 1272,1114.8 1257.4,1129.5 1236.5,1167 1222,1192 1201,1246.4 1186.4,1261 1160.3,1290 1151,1306 1207.3,1306 1222,1271.5 1234.4,1229.7 1255.3,1188 1282.4,1146 1299,1114.8 1318,1083.5 1336.7,1062.6 1350,1040 1362,1015 1373,988 1383.7,974.7 1398.5,947.7 1404,927.5 1414.7,896.6 1422.8,856 1431.8,855.7 1433,836.3 1440.3,826.6 1443.9,807 1439,785.4 1434.2,773 1427,744 1430.6,720 1433,686 1430,668.6 1420,639 1405,620 1390.7,605.7 1370,592.5 1357.8,584.4 1341.7,571 1310.8,571 1308,553.4"/></g><g stroke="#000" stroke-width="2"><line x1="575.4" y1="26.5" x2="575.4" y2="1307.0"/><line x1="937.9" y1="26.5" x2="937.9" y2="1307.0"/><line x1="1299.9" y1="26.5" x2="1299.9" y2="1307.0"/><line x1="212.5" y1="346.6" x2="1661.5" y2="346.6"/><line x1="212.5" y1="666.8" x2="1661.5" y2="666.8"/><line x1="212.5" y1="987.3" x2="1661.5" y2="987.3"/></g><g clip-path="url(#pc)" fill="none" stroke="#7a7a7a" stroke-width="2.5"><path d="M210.5,78.4 L214.5,77.6 L218.5,76.8 L222.5,76.0 L226.5,75.2 L230.5,74.4 L234.5,73.6 L238.5,72.8 L242.5,72.0 L246.5,71.2 L250.5,70.4 L254.5,69.7 L258.5,68.9 L262.5,68.1 L266.5,67.3 L270.5,66.5 L274.5,65.7 L278.5,64.9 L282.5,64.1 L286.5,63.3 L290.5,62.5 L294.5,61.7 L298.5,61.0 L302.5,60.2 L306.5,59.4 L310.5,58.6 L314.5,57.8 L318.5,57.0 L322.5,56.2 L326.5,55.4 L330.5,54.6 L334.5,53.9 L338.5,53.1 L342.5,52.3 L346.5,51.5 L350.5,50.7 L354.5,49.9 L358.5,49.1 L362.5,48.4 L366.5,47.6 L370.5,46.8 L374.5,46.0 L378.5,45.2 L382.5,44.4 L386.5,43.6 L390.5,42.9 L394.5,42.1 L398.5,41.3 L402.5,40.5 L406.5,39.7 L410.5,38.9 L414.5,38.2 L418.5,37.4 L422.5,36.6 L426.5,35.8 L430.5,35.0 L434.5,34.2 L438.5,33.5 L442.5,32.7 L446.5,31.9 L450.5,31.1 L454.5,30.3 L458.5,29.6 L462.5,28.8 L466.5,28.0 L470.5,27.2 L474.5,26.4 L478.5,25.7 L482.5,24.9 L486.5,24.1 L490.5,23.3 L494.5,22.5 L498.5,21.8 L502.5,21.0 L506.5,20.2 L510.5,19.4 L514.5,18.7 L518.5,17.9 L522.5,17.1 L526.5,16.3 L530.5,15.6 L534.5,14.8 L538.5,14.0 L542.5,13.2 L546.5,12.5 L550.5,11.7 L554.5,10.9 L558.5,10.1 L562.5,9.4 L566.5,8.6 L570.5,7.8 L574.5,7.0 L578.5,6.3 L582.5,5.5 L586.5,4.7 L590.5,3.9 L594.5,3.2 L598.5,2.4 L602.5,1.6 L606.5,0.9 L610.5,0.1 L614.5,-0.7 L618.5,-1.5 L622.5,-2.2 L626.5,-3.0 L630.5,-3.8 L634.5,-4.5 L638.5,-5.3 L642.5,-6.1 L646.5,-6.9 L650.5,-7.6 L654.5,-8.4 L658.5,-9.2 L662.5,-9.9 L666.5,-10.7 L670.5,-11.5 L674.5,-12.2 L678.5,-13.0 L682.5,-13.8 L686.5,-14.5 L690.5,-15.3 L694.5,-16.1 L698.5,-16.8 L702.5,-17.6 L706.5,-18.4 L710.5,-19.1 L714.5,-19.9 L718.5,-20.7 L722.5,-21.4 L726.5,-22.2 L730.5,-23.0 L734.5,-23.7 L738.5,-24.5 L742.5,-25.3 L746.5,-26.0 L750.5,-26.8 L754.5,-27.6 L758.5,-28.3 L762.5,-29.1 L766.5,-29.8 L770.5,-30.6 L774.5,-31.4 L778.5,-32.1 L782.5,-32.9 L786.5,-33.7 L790.5,-34.4 L794.5,-35.2 L798.5,-35.9 L802.5,-36.7 L806.5,-37.5 L810.5,-38.2 L814.5,-39.0 L818.5,-39.8 L822.5,-40.5 L826.5,-41.3 L830.5,-42.0 L834.5,-42.8 L838.5,-43.6 L842.5,-44.3 L846.5,-45.1 L850.5,-45.8 L854.5,-46.6 L858.5,-47.3 L862.5,-48.1 L866.5,-48.9 L870.5,-49.6 L874.5,-50.4 L878.5,-51.1 L882.5,-51.9 L886.5,-52.6 L890.5,-53.4 L894.5,-54.2 L898.5,-54.9 L902.5,-55.7 L906.5,-56.4 L910.5,-57.2 L914.5,-57.9 L918.5,-58.7 L922.5,-59.5 L926.5,-60.2 L930.5,-61.0 L934.5,-61.7 L938.5,-62.5 L942.5,-63.2 L946.5,-64.0 L950.5,-64.7 L954.5,-65.5 L958.5,-66.2 L962.5,-67.0 L966.5,-67.7 L970.5,-68.5 L974.5,-69.2 L978.5,-70.0 L982.5,-70.8 L986.5,-71.5 L990.5,-72.3 L994.5,-73.0 L998.5,-73.8 L1002.5,-74.5 L1006.5,-75.3 L1010.5,-76.0 L1014.5,-76.8 L1018.5,-77.5 L1022.5,-78.3 L1026.5,-79.0 L1030.5,-79.8 L1034.5,-80.5 L1038.5,-81.3 L1042.5,-82.0 L1046.5,-82.8 L1050.5,-83.5 L1054.5,-84.3 L1058.5,-85.0 L1062.5,-85.8 L1066.5,-86.5 L1070.5,-87.2 L1074.5,-88.0 L1078.5,-88.7 L1082.5,-89.5 L1086.5,-90.2 L1090.5,-91.0 L1094.5,-91.7 L1098.5,-92.5 L1102.5,-93.2 L1106.5,-94.0 L1110.5,-94.7 L1114.5,-95.5 L1118.5,-96.2 L1122.5,-97.0 L1126.5,-97.7 L1130.5,-98.4 L1134.5,-99.2 L1138.5,-99.9 L1142.5,-100.7 L1146.5,-101.4 L1150.5,-102.2 L1154.5,-102.9 L1158.5,-103.6 L1162.5,-104.4 L1166.5,-105.1 L1170.5,-105.9 L1174.5,-106.6 L1178.5,-107.4 L1182.5,-108.1 L1186.5,-108.8 L1190.5,-109.6 L1194.5,-110.3 L1198.5,-111.1 L1202.5,-111.8 L1206.5,-112.6 L1210.5,-113.3 L1214.5,-114.0 L1218.5,-114.8 L1222.5,-115.5 L1226.5,-116.3 L1230.5,-117.0 L1234.5,-117.7 L1238.5,-118.5 L1242.5,-119.2 L1246.5,-120.0 L1250.5,-120.7 L1254.5,-121.4 L1258.5,-122.2 L1262.5,-122.9 L1266.5,-123.6 L1270.5,-124.4 L1274.5,-125.1 L1278.5,-125.9 L1282.5,-126.6 L1286.5,-127.3 L1290.5,-128.1 L1294.5,-128.8 L1298.5,-129.5 L1302.5,-130.3 L1306.5,-131.0 L1310.5,-131.8 L1314.5,-132.5 L1318.5,-133.2 L1322.5,-134.0 L1326.5,-134.7 L1330.5,-135.4 L1334.5,-136.2 L1338.5,-136.9 L1342.5,-137.6 L1346.5,-138.4 L1350.5,-139.1 L1354.5,-139.8 L1358.5,-140.6 L1362.5,-141.3 L1366.5,-142.0 L1370.5,-142.8 L1374.5,-143.5 L1378.5,-144.2 L1382.5,-145.0 L1386.5,-145.7 L1390.5,-146.4 L1394.5,-147.2 L1398.5,-147.9 L1402.5,-148.6 L1406.5,-149.4 L1410.5,-150.1 L1414.5,-150.8 L1418.5,-151.6 L1422.5,-152.3 L1426.5,-153.0 L1430.5,-153.8 L1434.5,-154.5 L1438.5,-155.2 L1442.5,-156.0 L1446.5,-156.7 L1450.5,-157.4 L1454.5,-158.1 L1458.5,-158.9 L1462.5,-159.6 L1466.5,-160.3 L1470.5,-161.1 L1474.5,-161.8 L1478.5,-162.5 L1482.5,-163.2 L1486.5,-164.0 L1490.5,-164.7 L1494.5,-165.4 L1498.5,-166.2 L1502.5,-166.9 L1506.5,-167.6 L1510.5,-168.3 L1514.5,-169.1 L1518.5,-169.8 L1522.5,-170.5 L1526.5,-171.2 L1530.5,-172.0 L1534.5,-172.7 L1538.5,-173.4 L1542.5,-174.1 L1546.5,-174.9 L1550.5,-175.6 L1554.5,-176.3 L1558.5,-177.1 L1562.5,-177.8 L1566.5,-178.5 L1570.5,-179.2 L1574.5,-179.9 L1578.5,-180.7 L1582.5,-181.4 L1586.5,-182.1 L1590.5,-182.8 L1594.5,-183.6 L1598.5,-184.3 L1602.5,-185.0 L1606.5,-185.7 L1610.5,-186.5 L1614.5,-187.2 L1618.5,-187.9 L1622.5,-188.6 L1626.5,-189.3 L1630.5,-190.1 L1634.5,-190.8 L1638.5,-191.5 L1642.5,-192.2 L1646.5,-193.0 L1650.5,-193.7 L1654.5,-194.4 L1658.5,-195.1 L1662.5,-195.8"/><path d="M210.5,176.1 L214.5,175.3 L218.5,174.5 L222.5,173.7 L226.5,172.8 L230.5,172.0 L234.5,171.2 L238.5,170.4 L242.5,169.5 L246.5,168.7 L250.5,167.9 L254.5,167.1 L258.5,166.3 L262.5,165.4 L266.5,164.6 L270.5,163.8 L274.5,163.0 L278.5,162.1 L282.5,161.3 L286.5,160.5 L290.5,159.7 L294.5,158.9 L298.5,158.0 L302.5,157.2 L306.5,156.4 L310.5,155.6 L314.5,154.8 L318.5,154.0 L322.5,153.1 L326.5,152.3 L330.5,151.5 L334.5,150.7 L338.5,149.9 L342.5,149.1 L346.5,148.2 L350.5,147.4 L354.5,146.6 L358.5,145.8 L362.5,145.0 L366.5,144.2 L370.5,143.4 L374.5,142.5 L378.5,141.7 L382.5,140.9 L386.5,140.1 L390.5,139.3 L394.5,138.5 L398.5,137.7 L402.5,136.8 L406.5,136.0 L410.5,135.2 L414.5,134.4 L418.5,133.6 L422.5,132.8 L426.5,132.0 L430.5,131.2 L434.5,130.4 L438.5,129.5 L442.5,128.7 L446.5,127.9 L450.5,127.1 L454.5,126.3 L458.5,125.5 L462.5,124.7 L466.5,123.9 L470.5,123.1 L474.5,122.3 L478.5,121.5 L482.5,120.7 L486.5,119.9 L490.5,119.0 L494.5,118.2 L498.5,117.4 L502.5,116.6 L506.5,115.8 L510.5,115.0 L514.5,114.2 L518.5,113.4 L522.5,112.6 L526.5,111.8 L530.5,111.0 L534.5,110.2 L538.5,109.4 L542.5,108.6 L546.5,107.8 L550.5,107.0 L554.5,106.2 L558.5,105.4 L562.5,104.6 L566.5,103.8 L570.5,103.0 L574.5,102.2 L578.5,101.4 L582.5,100.6 L586.5,99.8 L590.5,99.0 L594.5,98.2 L598.5,97.4 L602.5,96.6 L606.5,95.8 L610.5,95.0 L614.5,94.2 L618.5,93.4 L622.5,92.6 L626.5,91.8 L630.5,91.0 L634.5,90.2 L638.5,89.4 L642.5,88.6 L646.5,87.8 L650.5,87.0 L654.5,86.2 L658.5,85.4 L662.5,84.6 L666.5,83.8 L670.5,83.0 L674.5,82.2 L678.5,81.4 L682.5,80.6 L686.5,79.8 L690.5,79.1 L694.5,78.3 L698.5,77.5 L702.5,76.7 L706.5,75.9 L710.5,75.1 L714.5,74.3 L718.5,73.5 L722.5,72.7 L726.5,71.9 L730.5,71.1 L734.5,70.3 L738.5,69.5 L742.5,68.8 L746.5,68.0 L750.5,67.2 L754.5,66.4 L758.5,65.6 L762.5,64.8 L766.5,64.0 L770.5,63.2 L774.5,62.4 L778.5,61.7 L782.5,60.9 L786.5,60.1 L790.5,59.3 L794.5,58.5 L798.5,57.7 L802.5,56.9 L806.5,56.1 L810.5,55.4 L814.5,54.6 L818.5,53.8 L822.5,53.0 L826.5,52.2 L830.5,51.4 L834.5,50.6 L838.5,49.9 L842.5,49.1 L846.5,48.3 L850.5,47.5 L854.5,46.7 L858.5,45.9 L862.5,45.2 L866.5,44.4 L870.5,43.6 L874.5,42.8 L878.5,42.0 L882.5,41.2 L886.5,40.5 L890.5,39.7 L894.5,38.9 L898.5,38.1 L902.5,37.3 L906.5,36.5 L910.5,35.8 L914.5,35.0 L918.5,34.2 L922.5,33.4 L926.5,32.6 L930.5,31.9 L934.5,31.1 L938.5,30.3 L942.5,29.5 L946.5,28.8 L950.5,28.0 L954.5,27.2 L958.5,26.4 L962.5,25.6 L966.5,24.9 L970.5,24.1 L974.5,23.3 L978.5,22.5 L982.5,21.8 L986.5,21.0 L990.5,20.2 L994.5,19.4 L998.5,18.7 L1002.5,17.9 L1006.5,17.1 L1010.5,16.3 L1014.5,15.6 L1018.5,14.8 L1022.5,14.0 L1026.5,13.2 L1030.5,12.5 L1034.5,11.7 L1038.5,10.9 L1042.5,10.1 L1046.5,9.4 L1050.5,8.6 L1054.5,7.8 L1058.5,7.0 L1062.5,6.3 L1066.5,5.5 L1070.5,4.7 L1074.5,4.0 L1078.5,3.2 L1082.5,2.4 L1086.5,1.6 L1090.5,0.9 L1094.5,0.1 L1098.5,-0.7 L1102.5,-1.4 L1106.5,-2.2 L1110.5,-3.0 L1114.5,-3.7 L1118.5,-4.5 L1122.5,-5.3 L1126.5,-6.1 L1130.5,-6.8 L1134.5,-7.6 L1138.5,-8.4 L1142.5,-9.1 L1146.5,-9.9 L1150.5,-10.7 L1154.5,-11.4 L1158.5,-12.2 L1162.5,-13.0 L1166.5,-13.7 L1170.5,-14.5 L1174.5,-15.3 L1178.5,-16.0 L1182.5,-16.8 L1186.5,-17.6 L1190.5,-18.3 L1194.5,-19.1 L1198.5,-19.8 L1202.5,-20.6 L1206.5,-21.4 L1210.5,-22.1 L1214.5,-22.9 L1218.5,-23.7 L1222.5,-24.4 L1226.5,-25.2 L1230.5,-26.0 L1234.5,-26.7 L1238.5,-27.5 L1242.5,-28.2 L1246.5,-29.0 L1250.5,-29.8 L1254.5,-30.5 L1258.5,-31.3 L1262.5,-32.1 L1266.5,-32.8 L1270.5,-33.6 L1274.5,-34.3 L1278.5,-35.1 L1282.5,-35.9 L1286.5,-36.6 L1290.5,-37.4 L1294.5,-38.1 L1298.5,-38.9 L1302.5,-39.7 L1306.5,-40.4 L1310.5,-41.2 L1314.5,-41.9 L1318.5,-42.7 L1322.5,-43.5 L1326.5,-44.2 L1330.5,-45.0 L1334.5,-45.7 L1338.5,-46.5 L1342.5,-47.2 L1346.5,-48.0 L1350.5,-48.8 L1354.5,-49.5 L1358.5,-50.3 L1362.5,-51.0 L1366.5,-51.8 L1370.5,-52.5 L1374.5,-53.3 L1378.5,-54.0 L1382.5,-54.8 L1386.5,-55.6 L1390.5,-56.3 L1394.5,-57.1 L1398.5,-57.8 L1402.5,-58.6 L1406.5,-59.3 L1410.5,-60.1 L1414.5,-60.8 L1418.5,-61.6 L1422.5,-62.3 L1426.5,-63.1 L1430.5,-63.8 L1434.5,-64.6 L1438.5,-65.3 L1442.5,-66.1 L1446.5,-66.9 L1450.5,-67.6 L1454.5,-68.4 L1458.5,-69.1 L1462.5,-69.9 L1466.5,-70.6 L1470.5,-71.4 L1474.5,-72.1 L1478.5,-72.9 L1482.5,-73.6 L1486.5,-74.4 L1490.5,-75.1 L1494.5,-75.9 L1498.5,-76.6 L1502.5,-77.4 L1506.5,-78.1 L1510.5,-78.9 L1514.5,-79.6 L1518.5,-80.4 L1522.5,-81.1 L1526.5,-81.8 L1530.5,-82.6 L1534.5,-83.3 L1538.5,-84.1 L1542.5,-84.8 L1546.5,-85.6 L1550.5,-86.3 L1554.5,-87.1 L1558.5,-87.8 L1562.5,-88.6 L1566.5,-89.3 L1570.5,-90.1 L1574.5,-90.8 L1578.5,-91.6 L1582.5,-92.3 L1586.5,-93.0 L1590.5,-93.8 L1594.5,-94.5 L1598.5,-95.3 L1602.5,-96.0 L1606.5,-96.8 L1610.5,-97.5 L1614.5,-98.3 L1618.5,-99.0 L1622.5,-99.7 L1626.5,-100.5 L1630.5,-101.2 L1634.5,-102.0 L1638.5,-102.7 L1642.5,-103.5 L1646.5,-104.2 L1650.5,-104.9 L1654.5,-105.7 L1658.5,-106.4 L1662.5,-107.2"/><path d="M210.5,277.5 L214.5,276.7 L218.5,275.8 L222.5,274.9 L226.5,274.1 L230.5,273.2 L234.5,272.4 L238.5,271.5 L242.5,270.6 L246.5,269.8 L250.5,268.9 L254.5,268.1 L258.5,267.2 L262.5,266.4 L266.5,265.5 L270.5,264.7 L274.5,263.8 L278.5,262.9 L282.5,262.1 L286.5,261.2 L290.5,260.4 L294.5,259.5 L298.5,258.7 L302.5,257.8 L306.5,257.0 L310.5,256.1"/><path d="M458.5,224.8 L462.5,224.0 L466.5,223.2 L470.5,222.3 L474.5,221.5 L478.5,220.6 L482.5,219.8 L486.5,219.0 L490.5,218.1 L494.5,217.3 L498.5,216.4 L502.5,215.6 L506.5,214.8 L510.5,213.9 L514.5,213.1 L518.5,212.3 L522.5,211.4 L526.5,210.6 L530.5,209.8 L534.5,208.9 L538.5,208.1 L542.5,207.3 L546.5,206.4 L550.5,205.6 L554.5,204.8 L558.5,203.9 L562.5,203.1 L566.5,202.3 L570.5,201.4 L574.5,200.6 L578.5,199.8 L582.5,198.9 L586.5,198.1 L590.5,197.3 L594.5,196.4 L598.5,195.6 L602.5,194.8 L606.5,193.9 L610.5,193.1 L614.5,192.3 L618.5,191.5 L622.5,190.6 L626.5,189.8 L630.5,189.0 L634.5,188.1 L638.5,187.3 L642.5,186.5 L646.5,185.7 L650.5,184.8 L654.5,184.0 L658.5,183.2 L662.5,182.4 L666.5,181.5 L670.5,180.7 L674.5,179.9 L678.5,179.1 L682.5,178.2 L686.5,177.4 L690.5,176.6 L694.5,175.8 L698.5,174.9 L702.5,174.1 L706.5,173.3 L710.5,172.5 L714.5,171.7 L718.5,170.8 L722.5,170.0 L726.5,169.2 L730.5,168.4 L734.5,167.5 L738.5,166.7 L742.5,165.9 L746.5,165.1 L750.5,164.3 L754.5,163.5 L758.5,162.6 L762.5,161.8 L766.5,161.0 L770.5,160.2 L774.5,159.4 L778.5,158.5 L782.5,157.7 L786.5,156.9 L790.5,156.1 L794.5,155.3 L798.5,154.5 L802.5,153.6 L806.5,152.8 L810.5,152.0 L814.5,151.2 L818.5,150.4 L822.5,149.6 L826.5,148.8 L830.5,147.9 L834.5,147.1 L838.5,146.3 L842.5,145.5 L846.5,144.7 L850.5,143.9 L854.5,143.1 L858.5,142.2 L862.5,141.4 L866.5,140.6 L870.5,139.8 L874.5,139.0 L878.5,138.2 L882.5,137.4 L886.5,136.6 L890.5,135.8 L894.5,134.9 L898.5,134.1 L902.5,133.3 L906.5,132.5 L910.5,131.7 L914.5,130.9 L918.5,130.1 L922.5,129.3 L926.5,128.5 L930.5,127.7 L934.5,126.9 L938.5,126.1 L942.5,125.3 L946.5,124.4 L950.5,123.6 L954.5,122.8 L958.5,122.0 L962.5,121.2 L966.5,120.4 L970.5,119.6 L974.5,118.8 L978.5,118.0 L982.5,117.2 L986.5,116.4 L990.5,115.6 L994.5,114.8 L998.5,114.0 L1002.5,113.2 L1006.5,112.4 L1010.5,111.6 L1014.5,110.8 L1018.5,110.0 L1022.5,109.2 L1026.5,108.4 L1030.5,107.6 L1034.5,106.8 L1038.5,106.0 L1042.5,105.2 L1046.5,104.4 L1050.5,103.6 L1054.5,102.8 L1058.5,102.0 L1062.5,101.2 L1066.5,100.4 L1070.5,99.6 L1074.5,98.8 L1078.5,98.0 L1082.5,97.2 L1086.5,96.4 L1090.5,95.6 L1094.5,94.8 L1098.5,94.0 L1102.5,93.2 L1106.5,92.4 L1110.5,91.6 L1114.5,90.8 L1118.5,90.0 L1122.5,89.2 L1126.5,88.4 L1130.5,87.6 L1134.5,86.8 L1138.5,86.0 L1142.5,85.2 L1146.5,84.4 L1150.5,83.7 L1154.5,82.9 L1158.5,82.1 L1162.5,81.3 L1166.5,80.5 L1170.5,79.7 L1174.5,78.9 L1178.5,78.1 L1182.5,77.3 L1186.5,76.5 L1190.5,75.7 L1194.5,74.9 L1198.5,74.1 L1202.5,73.4 L1206.5,72.6 L1210.5,71.8 L1214.5,71.0 L1218.5,70.2 L1222.5,69.4 L1226.5,68.6 L1230.5,67.8 L1234.5,67.0 L1238.5,66.3 L1242.5,65.5 L1246.5,64.7 L1250.5,63.9 L1254.5,63.1 L1258.5,62.3 L1262.5,61.5 L1266.5,60.7 L1270.5,60.0 L1274.5,59.2 L1278.5,58.4 L1282.5,57.6 L1286.5,56.8 L1290.5,56.0 L1294.5,55.2 L1298.5,54.5 L1302.5,53.7 L1306.5,52.9 L1310.5,52.1 L1314.5,51.3 L1318.5,50.5 L1322.5,49.8 L1326.5,49.0 L1330.5,48.2 L1334.5,47.4 L1338.5,46.6 L1342.5,45.8 L1346.5,45.1 L1350.5,44.3 L1354.5,43.5 L1358.5,42.7 L1362.5,41.9 L1366.5,41.2 L1370.5,40.4 L1374.5,39.6 L1378.5,38.8 L1382.5,38.0 L1386.5,37.3 L1390.5,36.5 L1394.5,35.7 L1398.5,34.9 L1402.5,34.1 L1406.5,33.4 L1410.5,32.6 L1414.5,31.8 L1418.5,31.0 L1422.5,30.2 L1426.5,29.5 L1430.5,28.7 L1434.5,27.9 L1438.5,27.1 L1442.5,26.4 L1446.5,25.6 L1450.5,24.8 L1454.5,24.0 L1458.5,23.3 L1462.5,22.5 L1466.5,21.7 L1470.5,20.9 L1474.5,20.2 L1478.5,19.4 L1482.5,18.6 L1486.5,17.8 L1490.5,17.1 L1494.5,16.3 L1498.5,15.5 L1502.5,14.7 L1506.5,14.0 L1510.5,13.2 L1514.5,12.4 L1518.5,11.6 L1522.5,10.9 L1526.5,10.1 L1530.5,9.3 L1534.5,8.6 L1538.5,7.8 L1542.5,7.0 L1546.5,6.2 L1550.5,5.5 L1554.5,4.7 L1558.5,3.9 L1562.5,3.2 L1566.5,2.4 L1570.5,1.6 L1574.5,0.9 L1578.5,0.1 L1582.5,-0.7 L1586.5,-1.4 L1590.5,-2.2 L1594.5,-3.0 L1598.5,-3.8 L1602.5,-4.5 L1606.5,-5.3 L1610.5,-6.1 L1614.5,-6.8 L1618.5,-7.6 L1622.5,-8.4 L1626.5,-9.1 L1630.5,-9.9 L1634.5,-10.7 L1638.5,-11.4 L1642.5,-12.2 L1646.5,-12.9 L1650.5,-13.7 L1654.5,-14.5 L1658.5,-15.2 L1662.5,-16.0"/><path d="M210.5,383.1 L214.5,382.2 L218.5,381.3 L222.5,380.4 L226.5,379.5 L230.5,378.6 L234.5,377.7 L238.5,376.8 L242.5,375.9 L246.5,375.0 L250.5,374.1 L254.5,373.2 L258.5,372.3 L262.5,371.4 L266.5,370.5 L270.5,369.6 L274.5,368.7 L278.5,367.8 L282.5,366.9 L286.5,366.1 L290.5,365.2 L294.5,364.3 L298.5,363.4 L302.5,362.5 L306.5,361.6 L310.5,360.7 L314.5,359.8 L318.5,358.9 L322.5,358.0 L326.5,357.1 L330.5,356.3 L334.5,355.4 L338.5,354.5 L342.5,353.6 L346.5,352.7 L350.5,351.8 L354.5,350.9 L358.5,350.1 L362.5,349.2 L366.5,348.3 L370.5,347.4 L374.5,346.5 L378.5,345.6 L382.5,344.7 L386.5,343.9 L390.5,343.0 L394.5,342.1 L398.5,341.2 L402.5,340.3 L406.5,339.4 L410.5,338.6 L414.5,337.7 L418.5,336.8 L422.5,335.9 L426.5,335.0 L430.5,334.2 L434.5,333.3 L438.5,332.4 L442.5,331.5 L446.5,330.7 L450.5,329.8 L454.5,328.9 L458.5,328.0 L462.5,327.1 L466.5,326.3 L470.5,325.4 L474.5,324.5 L478.5,323.6 L482.5,322.8 L486.5,321.9 L490.5,321.0 L494.5,320.1 L498.5,319.3 L502.5,318.4 L506.5,317.5 L510.5,316.6 L514.5,315.8 L518.5,314.9 L522.5,314.0 L526.5,313.2 L530.5,312.3 L534.5,311.4 L538.5,310.5 L542.5,309.7 L546.5,308.8 L550.5,307.9 L554.5,307.1 L558.5,306.2 L562.5,305.3 L566.5,304.5 L570.5,303.6 L574.5,302.7 L578.5,301.9 L582.5,301.0 L586.5,300.1 L590.5,299.3 L594.5,298.4 L598.5,297.5 L602.5,296.7 L606.5,295.8 L610.5,294.9 L614.5,294.1 L618.5,293.2 L622.5,292.4 L626.5,291.5 L630.5,290.6 L634.5,289.8 L638.5,288.9 L642.5,288.0 L646.5,287.2 L650.5,286.3 L654.5,285.5 L658.5,284.6 L662.5,283.7 L666.5,282.9 L670.5,282.0 L674.5,281.2 L678.5,280.3 L682.5,279.4 L686.5,278.6 L690.5,277.7 L694.5,276.9 L698.5,276.0 L702.5,275.2 L706.5,274.3 L710.5,273.4 L714.5,272.6 L718.5,271.7 L722.5,270.9 L726.5,270.0 L730.5,269.2 L734.5,268.3 L738.5,267.5 L742.5,266.6 L746.5,265.7 L750.5,264.9 L754.5,264.0 L758.5,263.2 L762.5,262.3 L766.5,261.5 L770.5,260.6 L774.5,259.8 L778.5,258.9 L782.5,258.1 L786.5,257.2 L790.5,256.4 L794.5,255.5 L798.5,254.7 L802.5,253.8 L806.5,253.0 L810.5,252.1 L814.5,251.3 L818.5,250.4 L822.5,249.6 L826.5,248.7 L830.5,247.9 L834.5,247.1 L838.5,246.2 L842.5,245.4 L846.5,244.5 L850.5,243.7 L854.5,242.8 L858.5,242.0 L862.5,241.1 L866.5,240.3 L870.5,239.5 L874.5,238.6 L878.5,237.8 L882.5,236.9 L886.5,236.1 L890.5,235.2 L894.5,234.4 L898.5,233.6 L902.5,232.7 L906.5,231.9 L910.5,231.0 L914.5,230.2 L918.5,229.4 L922.5,228.5 L926.5,227.7 L930.5,226.8 L934.5,226.0 L938.5,225.2 L942.5,224.3 L946.5,223.5 L950.5,222.6 L954.5,221.8 L958.5,221.0 L962.5,220.1 L966.5,219.3 L970.5,218.5 L974.5,217.6 L978.5,216.8 L982.5,216.0 L986.5,215.1 L990.5,214.3 L994.5,213.4 L998.5,212.6 L1002.5,211.8 L1006.5,210.9 L1010.5,210.1 L1014.5,209.3 L1018.5,208.4 L1022.5,207.6 L1026.5,206.8 L1030.5,205.9 L1034.5,205.1 L1038.5,204.3 L1042.5,203.5 L1046.5,202.6 L1050.5,201.8 L1054.5,201.0 L1058.5,200.1 L1062.5,199.3 L1066.5,198.5 L1070.5,197.6 L1074.5,196.8 L1078.5,196.0 L1082.5,195.2 L1086.5,194.3 L1090.5,193.5 L1094.5,192.7 L1098.5,191.8 L1102.5,191.0 L1106.5,190.2 L1110.5,189.4 L1114.5,188.5 L1118.5,187.7 L1122.5,186.9 L1126.5,186.1 L1130.5,185.2 L1134.5,184.4 L1138.5,183.6 L1142.5,182.8 L1146.5,181.9 L1150.5,181.1 L1154.5,180.3 L1158.5,179.5 L1162.5,178.7 L1166.5,177.8 L1170.5,177.0 L1174.5,176.2 L1178.5,175.4 L1182.5,174.5 L1186.5,173.7 L1190.5,172.9 L1194.5,172.1 L1198.5,171.3 L1202.5,170.4 L1206.5,169.6 L1210.5,168.8 L1214.5,168.0 L1218.5,167.2 L1222.5,166.3 L1226.5,165.5 L1230.5,164.7 L1234.5,163.9 L1238.5,163.1 L1242.5,162.3 L1246.5,161.4 L1250.5,160.6 L1254.5,159.8 L1258.5,159.0 L1262.5,158.2 L1266.5,157.4 L1270.5,156.5 L1274.5,155.7 L1278.5,154.9 L1282.5,154.1 L1286.5,153.3 L1290.5,152.5 L1294.5,151.7 L1298.5,150.9 L1302.5,150.0 L1306.5,149.2 L1310.5,148.4 L1314.5,147.6 L1318.5,146.8 L1322.5,146.0 L1326.5,145.2 L1330.5,144.4 L1334.5,143.5 L1338.5,142.7 L1342.5,141.9 L1346.5,141.1 L1350.5,140.3 L1354.5,139.5 L1358.5,138.7 L1362.5,137.9 L1366.5,137.1 L1370.5,136.3 L1374.5,135.4 L1378.5,134.6 L1382.5,133.8 L1386.5,133.0 L1390.5,132.2 L1394.5,131.4 L1398.5,130.6 L1402.5,129.8 L1406.5,129.0 L1410.5,128.2 L1414.5,127.4 L1418.5,126.6 L1422.5,125.8 L1426.5,125.0 L1430.5,124.2 L1434.5,123.4 L1438.5,122.5 L1442.5,121.7 L1446.5,120.9 L1450.5,120.1 L1454.5,119.3 L1458.5,118.5 L1462.5,117.7 L1466.5,116.9 L1470.5,116.1 L1474.5,115.3 L1478.5,114.5 L1482.5,113.7 L1486.5,112.9 L1490.5,112.1 L1494.5,111.3 L1498.5,110.5 L1502.5,109.7 L1506.5,108.9 L1510.5,108.1 L1514.5,107.3 L1518.5,106.5 L1522.5,105.7 L1526.5,104.9 L1530.5,104.1 L1534.5,103.3 L1538.5,102.5 L1542.5,101.7 L1546.5,100.9 L1550.5,100.1 L1554.5,99.3 L1558.5,98.5 L1562.5,97.7 L1566.5,96.9 L1570.5,96.2 L1574.5,95.4 L1578.5,94.6 L1582.5,93.8 L1586.5,93.0 L1590.5,92.2 L1594.5,91.4 L1598.5,90.6 L1602.5,89.8"/><path d="M210.5,493.5 L214.5,492.6 L218.5,491.6 L222.5,490.7 L226.5,489.7 L230.5,488.8 L234.5,487.8 L238.5,486.9 L242.5,485.9 L246.5,485.0 L250.5,484.1 L254.5,483.1 L258.5,482.2 L262.5,481.2 L266.5,480.3 L270.5,479.4 L274.5,478.4 L278.5,477.5 L282.5,476.5 L286.5,475.6 L290.5,474.7 L294.5,473.7 L298.5,472.8 L302.5,471.9 L306.5,470.9 L310.5,470.0 L314.5,469.0 L318.5,468.1 L322.5,467.2 L326.5,466.2 L330.5,465.3 L334.5,464.4 L338.5,463.4 L342.5,462.5 L346.5,461.6 L350.5,460.6 L354.5,459.7 L358.5,458.8 L362.5,457.9 L366.5,456.9 L370.5,456.0 L374.5,455.1 L378.5,454.1 L382.5,453.2 L386.5,452.3 L390.5,451.4 L394.5,450.4 L398.5,449.5 L402.5,448.6 L406.5,447.7 L410.5,446.7 L414.5,445.8 L418.5,444.9 L422.5,444.0 L426.5,443.0 L430.5,442.1 L434.5,441.2 L438.5,440.3 L442.5,439.3 L446.5,438.4 L450.5,437.5 L454.5,436.6 L458.5,435.7 L462.5,434.7 L466.5,433.8 L470.5,432.9 L474.5,432.0 L478.5,431.1 L482.5,430.2 L486.5,429.2 L490.5,428.3 L494.5,427.4 L498.5,426.5 L502.5,425.6 L506.5,424.7 L510.5,423.7 L514.5,422.8 L518.5,421.9 L522.5,421.0 L526.5,420.1 L530.5,419.2 L534.5,418.3 L538.5,417.4 L542.5,416.4 L546.5,415.5 L550.5,414.6 L554.5,413.7 L558.5,412.8 L562.5,411.9 L566.5,411.0 L570.5,410.1 L574.5,409.2 L578.5,408.3 L582.5,407.3 L586.5,406.4 L590.5,405.5 L594.5,404.6 L598.5,403.7 L602.5,402.8 L606.5,401.9 L610.5,401.0 L614.5,400.1 L618.5,399.2 L622.5,398.3 L626.5,397.4 L630.5,396.5 L634.5,395.6 L638.5,394.7 L642.5,393.8 L646.5,392.9 L650.5,392.0 L654.5,391.1 L658.5,390.2 L662.5,389.3 L666.5,388.4 L670.5,387.5 L674.5,386.6 L678.5,385.7 L682.5,384.8"/><path d="M830.5,351.8 L834.5,350.9 L838.5,350.1 L842.5,349.2 L846.5,348.3 L850.5,347.4 L854.5,346.5 L858.5,345.6 L862.5,344.8 L866.5,343.9 L870.5,343.0 L874.5,342.1 L878.5,341.2 L882.5,340.4 L886.5,339.5 L890.5,338.6 L894.5,337.7 L898.5,336.8 L902.5,336.0 L906.5,335.1 L910.5,334.2 L914.5,333.3 L918.5,332.5 L922.5,331.6 L926.5,330.7 L930.5,329.8 L934.5,328.9 L938.5,328.1 L942.5,327.2 L946.5,326.3 L950.5,325.4 L954.5,324.6 L958.5,323.7 L962.5,322.8 L966.5,322.0 L970.5,321.1 L974.5,320.2 L978.5,319.3 L982.5,318.5 L986.5,317.6 L990.5,316.7 L994.5,315.9 L998.5,315.0 L1002.5,314.1 L1006.5,313.2 L1010.5,312.4 L1014.5,311.5 L1018.5,310.6 L1022.5,309.8 L1026.5,308.9 L1030.5,308.0 L1034.5,307.2 L1038.5,306.3 L1042.5,305.4 L1046.5,304.6 L1050.5,303.7 L1054.5,302.8 L1058.5,302.0 L1062.5,301.1 L1066.5,300.3 L1070.5,299.4 L1074.5,298.5 L1078.5,297.7 L1082.5,296.8 L1086.5,295.9 L1090.5,295.1 L1094.5,294.2 L1098.5,293.3 L1102.5,292.5 L1106.5,291.6 L1110.5,290.8 L1114.5,289.9 L1118.5,289.0 L1122.5,288.2 L1126.5,287.3 L1130.5,286.5 L1134.5,285.6 L1138.5,284.8 L1142.5,283.9 L1146.5,283.0 L1150.5,282.2 L1154.5,281.3 L1158.5,280.5 L1162.5,279.6 L1166.5,278.8 L1170.5,277.9 L1174.5,277.0 L1178.5,276.2 L1182.5,275.3 L1186.5,274.5 L1190.5,273.6 L1194.5,272.8 L1198.5,271.9 L1202.5,271.1 L1206.5,270.2 L1210.5,269.4 L1214.5,268.5 L1218.5,267.7 L1222.5,266.8 L1226.5,265.9 L1230.5,265.1 L1234.5,264.2 L1238.5,263.4 L1242.5,262.5 L1246.5,261.7 L1250.5,260.8 L1254.5,260.0 L1258.5,259.1 L1262.5,258.3 L1266.5,257.5 L1270.5,256.6 L1274.5,255.8 L1278.5,254.9 L1282.5,254.1 L1286.5,253.2 L1290.5,252.4 L1294.5,251.5 L1298.5,250.7 L1302.5,249.8 L1306.5,249.0 L1310.5,248.1 L1314.5,247.3 L1318.5,246.5 L1322.5,245.6 L1326.5,244.8 L1330.5,243.9 L1334.5,243.1 L1338.5,242.2 L1342.5,241.4 L1346.5,240.5 L1350.5,239.7 L1354.5,238.9 L1358.5,238.0 L1362.5,237.2 L1366.5,236.3 L1370.5,235.5 L1374.5,234.7 L1378.5,233.8 L1382.5,233.0 L1386.5,232.1 L1390.5,231.3 L1394.5,230.5 L1398.5,229.6 L1402.5,228.8 L1406.5,228.0 L1410.5,227.1 L1414.5,226.3 L1418.5,225.4 L1422.5,224.6 L1426.5,223.8 L1430.5,222.9 L1434.5,222.1 L1438.5,221.3 L1442.5,220.4 L1446.5,219.6 L1450.5,218.8 L1454.5,217.9 L1458.5,217.1 L1462.5,216.3 L1466.5,215.4 L1470.5,214.6 L1474.5,213.8 L1478.5,212.9 L1482.5,212.1 L1486.5,211.3 L1490.5,210.4 L1494.5,209.6 L1498.5,208.8 L1502.5,207.9 L1506.5,207.1 L1510.5,206.3 L1514.5,205.4 L1518.5,204.6 L1522.5,203.8 L1526.5,203.0 L1530.5,202.1 L1534.5,201.3 L1538.5,200.5 L1542.5,199.6 L1546.5,198.8 L1550.5,198.0 L1554.5,197.2 L1558.5,196.3 L1562.5,195.5 L1566.5,194.7 L1570.5,193.9 L1574.5,193.0 L1578.5,192.2 L1582.5,191.4 L1586.5,190.6 L1590.5,189.7 L1594.5,188.9 L1598.5,188.1 L1602.5,187.3 L1606.5,186.4 L1610.5,185.6 L1614.5,184.8 L1618.5,184.0 L1622.5,183.1 L1626.5,182.3 L1630.5,181.5 L1634.5,180.7 L1638.5,179.9 L1642.5,179.0 L1646.5,178.2 L1650.5,177.4 L1654.5,176.6 L1658.5,175.8 L1662.5,174.9"/><path d="M210.5,609.7 L214.5,608.7 L218.5,607.7 L222.5,606.7 L226.5,605.7 L230.5,604.7 L234.5,603.7 L238.5,602.7 L242.5,601.7 L246.5,600.7 L250.5,599.7 L254.5,598.7 L258.5,597.7 L262.5,596.7 L266.5,595.7 L270.5,594.7 L274.5,593.7 L278.5,592.7 L282.5,591.7 L286.5,590.7 L290.5,589.8 L294.5,588.8 L298.5,587.8 L302.5,586.8 L306.5,585.8 L310.5,584.8 L314.5,583.8 L318.5,582.8 L322.5,581.8 L326.5,580.8 L330.5,579.9 L334.5,578.9 L338.5,577.9 L342.5,576.9 L346.5,575.9 L350.5,574.9 L354.5,574.0 L358.5,573.0 L362.5,572.0 L366.5,571.0 L370.5,570.0 L374.5,569.0 L378.5,568.1 L382.5,567.1 L386.5,566.1 L390.5,565.1 L394.5,564.1 L398.5,563.2 L402.5,562.2 L406.5,561.2 L410.5,560.2 L414.5,559.3 L418.5,558.3 L422.5,557.3 L426.5,556.3 L430.5,555.4 L434.5,554.4 L438.5,553.4 L442.5,552.4 L446.5,551.5 L450.5,550.5 L454.5,549.5 L458.5,548.5 L462.5,547.6 L466.5,546.6 L470.5,545.6 L474.5,544.7 L478.5,543.7 L482.5,542.7 L486.5,541.8 L490.5,540.8 L494.5,539.8 L498.5,538.9 L502.5,537.9 L506.5,536.9 L510.5,536.0 L514.5,535.0 L518.5,534.0 L522.5,533.1 L526.5,532.1 L530.5,531.2 L534.5,530.2 L538.5,529.2 L542.5,528.3 L546.5,527.3 L550.5,526.4 L554.5,525.4 L558.5,524.4 L562.5,523.5 L566.5,522.5 L570.5,521.6 L574.5,520.6 L578.5,519.7 L582.5,518.7 L586.5,517.7 L590.5,516.8 L594.5,515.8 L598.5,514.9 L602.5,513.9 L606.5,513.0 L610.5,512.0 L614.5,511.1 L618.5,510.1 L622.5,509.2 L626.5,508.2 L630.5,507.3 L634.5,506.3 L638.5,505.4 L642.5,504.4 L646.5,503.5 L650.5,502.5 L654.5,501.6 L658.5,500.6 L662.5,499.7 L666.5,498.7 L670.5,497.8 L674.5,496.8 L678.5,495.9 L682.5,494.9 L686.5,494.0 L690.5,493.1 L694.5,492.1 L698.5,491.2 L702.5,490.2 L706.5,489.3 L710.5,488.3 L714.5,487.4 L718.5,486.5 L722.5,485.5 L726.5,484.6 L730.5,483.6 L734.5,482.7 L738.5,481.8 L742.5,480.8 L746.5,479.9 L750.5,479.0 L754.5,478.0 L758.5,477.1 L762.5,476.1 L766.5,475.2 L770.5,474.3 L774.5,473.3 L778.5,472.4 L782.5,471.5 L786.5,470.5 L790.5,469.6 L794.5,468.7 L798.5,467.7 L802.5,466.8 L806.5,465.9 L810.5,465.0 L814.5,464.0 L818.5,463.1 L822.5,462.2 L826.5,461.2 L830.5,460.3 L834.5,459.4 L838.5,458.5 L842.5,457.5 L846.5,456.6 L850.5,455.7 L854.5,454.7 L858.5,453.8 L862.5,452.9 L866.5,452.0 L870.5,451.0 L874.5,450.1 L878.5,449.2 L882.5,448.3 L886.5,447.4 L890.5,446.4 L894.5,445.5 L898.5,444.6 L902.5,443.7 L906.5,442.7 L910.5,441.8 L914.5,440.9 L918.5,440.0 L922.5,439.1 L926.5,438.2 L930.5,437.2 L934.5,436.3 L938.5,435.4 L942.5,434.5 L946.5,433.6 L950.5,432.6 L954.5,431.7 L958.5,430.8 L962.5,429.9 L966.5,429.0 L970.5,428.1 L974.5,427.2 L978.5,426.2 L982.5,425.3 L986.5,424.4 L990.5,423.5 L994.5,422.6 L998.5,421.7 L1002.5,420.8 L1006.5,419.9 L1010.5,419.0 L1014.5,418.0 L1018.5,417.1 L1022.5,416.2 L1026.5,415.3 L1030.5,414.4 L1034.5,413.5 L1038.5,412.6 L1042.5,411.7 L1046.5,410.8 L1050.5,409.9 L1054.5,409.0 L1058.5,408.1 L1062.5,407.2 L1066.5,406.3 L1070.5,405.3 L1074.5,404.4 L1078.5,403.5 L1082.5,402.6 L1086.5,401.7 L1090.5,400.8 L1094.5,399.9 L1098.5,399.0 L1102.5,398.1 L1106.5,397.2 L1110.5,396.3 L1114.5,395.4 L1118.5,394.5 L1122.5,393.6 L1126.5,392.7 L1130.5,391.8 L1134.5,390.9 L1138.5,390.0 L1142.5,389.1 L1146.5,388.2 L1150.5,387.3 L1154.5,386.4 L1158.5,385.6 L1162.5,384.7 L1166.5,383.8 L1170.5,382.9 L1174.5,382.0 L1178.5,381.1 L1182.5,380.2 L1186.5,379.3 L1190.5,378.4 L1194.5,377.5 L1198.5,376.6 L1202.5,375.7 L1206.5,374.8 L1210.5,373.9 L1214.5,373.0 L1218.5,372.2 L1222.5,371.3 L1226.5,370.4 L1230.5,369.5 L1234.5,368.6 L1238.5,367.7 L1242.5,366.8 L1246.5,365.9 L1250.5,365.0 L1254.5,364.2 L1258.5,363.3 L1262.5,362.4 L1266.5,361.5 L1270.5,360.6 L1274.5,359.7 L1278.5,358.8 L1282.5,358.0 L1286.5,357.1 L1290.5,356.2 L1294.5,355.3 L1298.5,354.4 L1302.5,353.5 L1306.5,352.7 L1310.5,351.8 L1314.5,350.9 L1318.5,350.0 L1322.5,349.1 L1326.5,348.2 L1330.5,347.4 L1334.5,346.5 L1338.5,345.6 L1342.5,344.7 L1346.5,343.9 L1350.5,343.0 L1354.5,342.1 L1358.5,341.2 L1362.5,340.3 L1366.5,339.5 L1370.5,338.6 L1374.5,337.7 L1378.5,336.8 L1382.5,336.0 L1386.5,335.1 L1390.5,334.2 L1394.5,333.3 L1398.5,332.5 L1402.5,331.6 L1406.5,330.7 L1410.5,329.8 L1414.5,329.0 L1418.5,328.1 L1422.5,327.2 L1426.5,326.3 L1430.5,325.5 L1434.5,324.6 L1438.5,323.7 L1442.5,322.9 L1446.5,322.0 L1450.5,321.1 L1454.5,320.2 L1458.5,319.4 L1462.5,318.5 L1466.5,317.6 L1470.5,316.8 L1474.5,315.9 L1478.5,315.0 L1482.5,314.2 L1486.5,313.3 L1490.5,312.4 L1494.5,311.6 L1498.5,310.7 L1502.5,309.8 L1506.5,309.0 L1510.5,308.1 L1514.5,307.2 L1518.5,306.4 L1522.5,305.5 L1526.5,304.6 L1530.5,303.8 L1534.5,302.9 L1538.5,302.1 L1542.5,301.2 L1546.5,300.3 L1550.5,299.5"/><path d="M1650.5,278.0 L1654.5,277.2 L1658.5,276.3 L1662.5,275.5"/><path d="M210.5,732.9 L214.5,731.8 L218.5,730.8 L222.5,729.7 L226.5,728.6 L230.5,727.6 L234.5,726.5 L238.5,725.4 L242.5,724.3 L246.5,723.3 L250.5,722.2 L254.5,721.2 L258.5,720.1 L262.5,719.0"/><path d="M406.5,681.2 L410.5,680.1 L414.5,679.1 L418.5,678.1 L422.5,677.0 L426.5,676.0 L430.5,674.9 L434.5,673.9 L438.5,672.9 L442.5,671.8 L446.5,670.8 L450.5,669.8 L454.5,668.7 L458.5,667.7 L462.5,666.7 L466.5,665.6 L470.5,664.6 L474.5,663.6 L478.5,662.5 L482.5,661.5 L486.5,660.5 L490.5,659.5 L494.5,658.4 L498.5,657.4 L502.5,656.4 L506.5,655.4 L510.5,654.3 L514.5,653.3 L518.5,652.3 L522.5,651.3 L526.5,650.2 L530.5,649.2 L534.5,648.2 L538.5,647.2 L542.5,646.2 L546.5,645.1 L550.5,644.1 L554.5,643.1 L558.5,642.1 L562.5,641.1 L566.5,640.1 L570.5,639.0 L574.5,638.0 L578.5,637.0 L582.5,636.0 L586.5,635.0 L590.5,634.0 L594.5,633.0 L598.5,631.9 L602.5,630.9 L606.5,629.9 L610.5,628.9 L614.5,627.9 L618.5,626.9 L622.5,625.9 L626.5,624.9 L630.5,623.9 L634.5,622.9 L638.5,621.9 L642.5,620.8 L646.5,619.8 L650.5,618.8 L654.5,617.8 L658.5,616.8 L662.5,615.8 L666.5,614.8 L670.5,613.8 L674.5,612.8 L678.5,611.8 L682.5,610.8 L686.5,609.8 L690.5,608.8 L694.5,607.8 L698.5,606.8 L702.5,605.8 L706.5,604.8 L710.5,603.8 L714.5,602.8 L718.5,601.8 L722.5,600.8 L726.5,599.9 L730.5,598.9 L734.5,597.9 L738.5,596.9 L742.5,595.9 L746.5,594.9 L750.5,593.9 L754.5,592.9 L758.5,591.9 L762.5,590.9 L766.5,589.9 L770.5,588.9 L774.5,588.0 L778.5,587.0 L782.5,586.0 L786.5,585.0 L790.5,584.0 L794.5,583.0 L798.5,582.0 L802.5,581.1 L806.5,580.1 L810.5,579.1 L814.5,578.1 L818.5,577.1 L822.5,576.1 L826.5,575.2 L830.5,574.2 L834.5,573.2 L838.5,572.2 L842.5,571.2 L846.5,570.3 L850.5,569.3 L854.5,568.3 L858.5,567.3 L862.5,566.4 L866.5,565.4 L870.5,564.4 L874.5,563.4 L878.5,562.5 L882.5,561.5 L886.5,560.5 L890.5,559.5 L894.5,558.6 L898.5,557.6 L902.5,556.6 L906.5,555.6 L910.5,554.7 L914.5,553.7 L918.5,552.7 L922.5,551.8 L926.5,550.8 L930.5,549.8 L934.5,548.9 L938.5,547.9 L942.5,546.9 L946.5,546.0 L950.5,545.0 L954.5,544.0 L958.5,543.1 L962.5,542.1 L966.5,541.1 L970.5,540.2 L974.5,539.2 L978.5,538.2 L982.5,537.3 L986.5,536.3 L990.5,535.4 L994.5,534.4 L998.5,533.4 L1002.5,532.5 L1006.5,531.5 L1010.5,530.6 L1014.5,529.6 L1018.5,528.6 L1022.5,527.7 L1026.5,526.7 L1030.5,525.8 L1034.5,524.8 L1038.5,523.9 L1042.5,522.9 L1046.5,521.9 L1050.5,521.0 L1054.5,520.0 L1058.5,519.1 L1062.5,518.1 L1066.5,517.2 L1070.5,516.2 L1074.5,515.3 L1078.5,514.3 L1082.5,513.4 L1086.5,512.4 L1090.5,511.5 L1094.5,510.5 L1098.5,509.6 L1102.5,508.6 L1106.5,507.7 L1110.5,506.7 L1114.5,505.8 L1118.5,504.8 L1122.5,503.9 L1126.5,503.0 L1130.5,502.0 L1134.5,501.1 L1138.5,500.1 L1142.5,499.2 L1146.5,498.2 L1150.5,497.3 L1154.5,496.3 L1158.5,495.4 L1162.5,494.5 L1166.5,493.5 L1170.5,492.6 L1174.5,491.6 L1178.5,490.7 L1182.5,489.8 L1186.5,488.8 L1190.5,487.9 L1194.5,486.9 L1198.5,486.0 L1202.5,485.1 L1206.5,484.1 L1210.5,483.2 L1214.5,482.3 L1218.5,481.3 L1222.5,480.4 L1226.5,479.5 L1230.5,478.5 L1234.5,477.6 L1238.5,476.7 L1242.5,475.7 L1246.5,474.8 L1250.5,473.9 L1254.5,472.9 L1258.5,472.0 L1262.5,471.1 L1266.5,470.1 L1270.5,469.2 L1274.5,468.3 L1278.5,467.3 L1282.5,466.4 L1286.5,465.5 L1290.5,464.6 L1294.5,463.6 L1298.5,462.7 L1302.5,461.8 L1306.5,460.9 L1310.5,459.9 L1314.5,459.0 L1318.5,458.1 L1322.5,457.2 L1326.5,456.2 L1330.5,455.3 L1334.5,454.4 L1338.5,453.5 L1342.5,452.5 L1346.5,451.6 L1350.5,450.7 L1354.5,449.8 L1358.5,448.9 L1362.5,447.9 L1366.5,447.0 L1370.5,446.1 L1374.5,445.2 L1378.5,444.3 L1382.5,443.3 L1386.5,442.4 L1390.5,441.5 L1394.5,440.6 L1398.5,439.7 L1402.5,438.8 L1406.5,437.8 L1410.5,436.9 L1414.5,436.0 L1418.5,435.1 L1422.5,434.2 L1426.5,433.3 L1430.5,432.3 L1434.5,431.4 L1438.5,430.5 L1442.5,429.6 L1446.5,428.7 L1450.5,427.8 L1454.5,426.9 L1458.5,426.0 L1462.5,425.1 L1466.5,424.1 L1470.5,423.2 L1474.5,422.3 L1478.5,421.4 L1482.5,420.5 L1486.5,419.6 L1490.5,418.7 L1494.5,417.8 L1498.5,416.9 L1502.5,416.0 L1506.5,415.1 L1510.5,414.2 L1514.5,413.3 L1518.5,412.4 L1522.5,411.4 L1526.5,410.5 L1530.5,409.6 L1534.5,408.7 L1538.5,407.8 L1542.5,406.9 L1546.5,406.0 L1550.5,405.1 L1554.5,404.2 L1558.5,403.3 L1562.5,402.4 L1566.5,401.5 L1570.5,400.6 L1574.5,399.7 L1578.5,398.8 L1582.5,397.9 L1586.5,397.0 L1590.5,396.1 L1594.5,395.2 L1598.5,394.3 L1602.5,393.4 L1606.5,392.5 L1610.5,391.6 L1614.5,390.7 L1618.5,389.9 L1622.5,389.0 L1626.5,388.1 L1630.5,387.2 L1634.5,386.3 L1638.5,385.4 L1642.5,384.5 L1646.5,383.6 L1650.5,382.7 L1654.5,381.8 L1658.5,380.9 L1662.5,380.0"/><path d="M210.5,864.9 L214.5,863.7 L218.5,862.5 L222.5,861.4 L226.5,860.2 L230.5,859.1 L234.5,857.9 L238.5,856.8 L242.5,855.6 L246.5,854.5 L250.5,853.3 L254.5,852.2 L258.5,851.0 L262.5,849.9 L266.5,848.7 L270.5,847.6 L274.5,846.4 L278.5,845.3 L282.5,844.1 L286.5,843.0 L290.5,841.8 L294.5,840.7 L298.5,839.5 L302.5,838.4 L306.5,837.3 L310.5,836.1 L314.5,835.0 L318.5,833.9 L322.5,832.7 L326.5,831.6 L330.5,830.4 L334.5,829.3 L338.5,828.2 L342.5,827.0 L346.5,825.9 L350.5,824.8 L354.5,823.7 L358.5,822.5 L362.5,821.4 L366.5,820.3 L370.5,819.1 L374.5,818.0 L378.5,816.9 L382.5,815.8 L386.5,814.6 L390.5,813.5 L394.5,812.4 L398.5,811.3 L402.5,810.2 L406.5,809.0 L410.5,807.9 L414.5,806.8 L418.5,805.7 L422.5,804.6 L426.5,803.4 L430.5,802.3 L434.5,801.2 L438.5,800.1 L442.5,799.0 L446.5,797.9 L450.5,796.8 L454.5,795.7 L458.5,794.6 L462.5,793.4 L466.5,792.3 L470.5,791.2 L474.5,790.1 L478.5,789.0 L482.5,787.9 L486.5,786.8 L490.5,785.7 L494.5,784.6 L498.5,783.5 L502.5,782.4 L506.5,781.3 L510.5,780.2 L514.5,779.1 L518.5,778.0 L522.5,776.9 L526.5,775.8 L530.5,774.7 L534.5,773.6 L538.5,772.5 L542.5,771.4 L546.5,770.3 L550.5,769.2 L554.5,768.2 L558.5,767.1 L562.5,766.0 L566.5,764.9 L570.5,763.8 L574.5,762.7 L578.5,761.6 L582.5,760.5 L586.5,759.4 L590.5,758.4 L594.5,757.3 L598.5,756.2 L602.5,755.1 L606.5,754.0 L610.5,752.9 L614.5,751.9 L618.5,750.8 L622.5,749.7 L626.5,748.6 L630.5,747.6 L634.5,746.5 L638.5,745.4 L642.5,744.3 L646.5,743.2 L650.5,742.2 L654.5,741.1 L658.5,740.0 L662.5,739.0 L666.5,737.9 L670.5,736.8 L674.5,735.7 L678.5,734.7 L682.5,733.6 L686.5,732.5 L690.5,731.5 L694.5,730.4 L698.5,729.3 L702.5,728.3 L706.5,727.2 L710.5,726.1 L714.5,725.1 L718.5,724.0 L722.5,723.0 L726.5,721.9 L730.5,720.8 L734.5,719.8 L738.5,718.7 L742.5,717.7 L746.5,716.6 L750.5,715.5 L754.5,714.5 L758.5,713.4 L762.5,712.4 L766.5,711.3 L770.5,710.3 L774.5,709.2 L778.5,708.2 L782.5,707.1 L786.5,706.1 L790.5,705.0 L794.5,703.9 L798.5,702.9 L802.5,701.9 L806.5,700.8 L810.5,699.8 L814.5,698.7 L818.5,697.7 L822.5,696.6 L826.5,695.6 L830.5,694.5 L834.5,693.5 L838.5,692.4 L842.5,691.4 L846.5,690.4 L850.5,689.3 L854.5,688.3 L858.5,687.2 L862.5,686.2 L866.5,685.2 L870.5,684.1 L874.5,683.1 L878.5,682.0 L882.5,681.0 L886.5,680.0 L890.5,678.9 L894.5,677.9 L898.5,676.9 L902.5,675.8 L906.5,674.8 L910.5,673.8 L914.5,672.7 L918.5,671.7 L922.5,670.7 L926.5,669.6 L930.5,668.6 L934.5,667.6 L938.5,666.6 L942.5,665.5 L946.5,664.5 L950.5,663.5 L954.5,662.4 L958.5,661.4 L962.5,660.4 L966.5,659.4 L970.5,658.3 L974.5,657.3 L978.5,656.3 L982.5,655.3 L986.5,654.3 L990.5,653.2 L994.5,652.2 L998.5,651.2 L1002.5,650.2 L1006.5,649.2 L1010.5,648.1 L1014.5,647.1 L1018.5,646.1 L1022.5,645.1 L1026.5,644.1 L1030.5,643.1 L1034.5,642.1 L1038.5,641.0 L1042.5,640.0 L1046.5,639.0 L1050.5,638.0 L1054.5,637.0 L1058.5,636.0 L1062.5,635.0 L1066.5,634.0 L1070.5,633.0 L1074.5,631.9 L1078.5,630.9 L1082.5,629.9 L1086.5,628.9 L1090.5,627.9 L1094.5,626.9 L1098.5,625.9 L1102.5,624.9 L1106.5,623.9 L1110.5,622.9 L1114.5,621.9 L1118.5,620.9 L1122.5,619.9 L1126.5,618.9 L1130.5,617.9"/><path d="M1226.5,594.0 L1230.5,593.0 L1234.5,592.0 L1238.5,591.1 L1242.5,590.1 L1246.5,589.1 L1250.5,588.1 L1254.5,587.1 L1258.5,586.1 L1262.5,585.2 L1266.5,584.2 L1270.5,583.2 L1274.5,582.2 L1278.5,581.2 L1282.5,580.2 L1286.5,579.3 L1290.5,578.3 L1294.5,577.3 L1298.5,576.3 L1302.5,575.3 L1306.5,574.4 L1310.5,573.4 L1314.5,572.4 L1318.5,571.4 L1322.5,570.5 L1326.5,569.5 L1330.5,568.5 L1334.5,567.5 L1338.5,566.6 L1342.5,565.6 L1346.5,564.6 L1350.5,563.6 L1354.5,562.7 L1358.5,561.7 L1362.5,560.7 L1366.5,559.8 L1370.5,558.8 L1374.5,557.8 L1378.5,556.9 L1382.5,555.9 L1386.5,554.9 L1390.5,553.9 L1394.5,553.0 L1398.5,552.0 L1402.5,551.1 L1406.5,550.1 L1410.5,549.1 L1414.5,548.2 L1418.5,547.2 L1422.5,546.2 L1426.5,545.3 L1430.5,544.3 L1434.5,543.3 L1438.5,542.4 L1442.5,541.4 L1446.5,540.5 L1450.5,539.5 L1454.5,538.5 L1458.5,537.6 L1462.5,536.6 L1466.5,535.7 L1470.5,534.7 L1474.5,533.7 L1478.5,532.8 L1482.5,531.8 L1486.5,530.9 L1490.5,529.9 L1494.5,529.0 L1498.5,528.0 L1502.5,527.1 L1506.5,526.1 L1510.5,525.1 L1514.5,524.2 L1518.5,523.2 L1522.5,522.3 L1526.5,521.3 L1530.5,520.4 L1534.5,519.4 L1538.5,518.5 L1542.5,517.5 L1546.5,516.6 L1550.5,515.6 L1554.5,514.7 L1558.5,513.7 L1562.5,512.8 L1566.5,511.8 L1570.5,510.9 L1574.5,510.0 L1578.5,509.0 L1582.5,508.1 L1586.5,507.1 L1590.5,506.2 L1594.5,505.2 L1598.5,504.3 L1602.5,503.3 L1606.5,502.4 L1610.5,501.5 L1614.5,500.5 L1618.5,499.6 L1622.5,498.6 L1626.5,497.7 L1630.5,496.8 L1634.5,495.8 L1638.5,494.9 L1642.5,493.9 L1646.5,493.0 L1650.5,492.1 L1654.5,491.1 L1658.5,490.2 L1662.5,489.3"/><path d="M210.5,1008.2 L214.5,1007.0 L218.5,1005.7 L222.5,1004.4 L226.5,1003.1 L230.5,1001.9 L234.5,1000.6 L238.5,999.3 L242.5,998.1 L246.5,996.8 L250.5,995.5 L254.5,994.3 L258.5,993.0 L262.5,991.7 L266.5,990.5 L270.5,989.2 L274.5,987.9 L278.5,986.7 L282.5,985.4 L286.5,984.2 L290.5,982.9 L294.5,981.7 L298.5,980.4 L302.5,979.2 L306.5,977.9 L310.5,976.7 L314.5,975.4 L318.5,974.2 L322.5,972.9 L326.5,971.7 L330.5,970.4 L334.5,969.2 L338.5,967.9 L342.5,966.7 L346.5,965.5 L350.5,964.2 L354.5,963.0 L358.5,961.7 L362.5,960.5 L366.5,959.3 L370.5,958.0 L374.5,956.8 L378.5,955.6 L382.5,954.3 L386.5,953.1 L390.5,951.9 L394.5,950.7 L398.5,949.4 L402.5,948.2 L406.5,947.0 L410.5,945.8 L414.5,944.5 L418.5,943.3 L422.5,942.1 L426.5,940.9 L430.5,939.7 L434.5,938.5 L438.5,937.2 L442.5,936.0 L446.5,934.8 L450.5,933.6 L454.5,932.4 L458.5,931.2 L462.5,930.0 L466.5,928.8 L470.5,927.6 L474.5,926.4 L478.5,925.2 L482.5,924.0 L486.5,922.8 L490.5,921.5 L494.5,920.3 L498.5,919.1 L502.5,918.0 L506.5,916.8 L510.5,915.6 L514.5,914.4 L518.5,913.2 L522.5,912.0 L526.5,910.8 L530.5,909.6 L534.5,908.4 L538.5,907.2 L542.5,906.0 L546.5,904.8 L550.5,903.6 L554.5,902.5 L558.5,901.3 L562.5,900.1 L566.5,898.9 L570.5,897.7 L574.5,896.5 L578.5,895.4 L582.5,894.2 L586.5,893.0 L590.5,891.8 L594.5,890.7 L598.5,889.5 L602.5,888.3 L606.5,887.1 L610.5,886.0 L614.5,884.8 L618.5,883.6 L622.5,882.5"/><path d="M766.5,840.9 L770.5,839.8 L774.5,838.7 L778.5,837.5 L782.5,836.4 L786.5,835.3 L790.5,834.1 L794.5,833.0 L798.5,831.9 L802.5,830.7 L806.5,829.6 L810.5,828.5 L814.5,827.4 L818.5,826.2 L822.5,825.1 L826.5,824.0 L830.5,822.8 L834.5,821.7 L838.5,820.6 L842.5,819.5 L846.5,818.4 L850.5,817.2 L854.5,816.1 L858.5,815.0 L862.5,813.9 L866.5,812.8 L870.5,811.6 L874.5,810.5 L878.5,809.4 L882.5,808.3 L886.5,807.2 L890.5,806.1 L894.5,805.0 L898.5,803.8 L902.5,802.7 L906.5,801.6 L910.5,800.5 L914.5,799.4 L918.5,798.3 L922.5,797.2 L926.5,796.1 L930.5,795.0 L934.5,793.9 L938.5,792.8 L942.5,791.7 L946.5,790.6 L950.5,789.5 L954.5,788.4 L958.5,787.3 L962.5,786.2 L966.5,785.1 L970.5,784.0 L974.5,782.9 L978.5,781.8 L982.5,780.7 L986.5,779.6 L990.5,778.5 L994.5,777.4 L998.5,776.3 L1002.5,775.2 L1006.5,774.1 L1010.5,773.0 L1014.5,772.0 L1018.5,770.9 L1022.5,769.8 L1026.5,768.7 L1030.5,767.6 L1034.5,766.5 L1038.5,765.4 L1042.5,764.3 L1046.5,763.3 L1050.5,762.2 L1054.5,761.1 L1058.5,760.0 L1062.5,758.9 L1066.5,757.9 L1070.5,756.8 L1074.5,755.7 L1078.5,754.6 L1082.5,753.5 L1086.5,752.5 L1090.5,751.4 L1094.5,750.3 L1098.5,749.2 L1102.5,748.2 L1106.5,747.1 L1110.5,746.0 L1114.5,744.9 L1118.5,743.9 L1122.5,742.8 L1126.5,741.7 L1130.5,740.7 L1134.5,739.6 L1138.5,738.5 L1142.5,737.5 L1146.5,736.4 L1150.5,735.3 L1154.5,734.3 L1158.5,733.2 L1162.5,732.1 L1166.5,731.1 L1170.5,730.0 L1174.5,728.9 L1178.5,727.9 L1182.5,726.8 L1186.5,725.8 L1190.5,724.7 L1194.5,723.6 L1198.5,722.6 L1202.5,721.5 L1206.5,720.5 L1210.5,719.4 L1214.5,718.4 L1218.5,717.3 L1222.5,716.3 L1226.5,715.2 L1230.5,714.1 L1234.5,713.1 L1238.5,712.0 L1242.5,711.0 L1246.5,709.9 L1250.5,708.9 L1254.5,707.8 L1258.5,706.8 L1262.5,705.7 L1266.5,704.7 L1270.5,703.7 L1274.5,702.6 L1278.5,701.6 L1282.5,700.5 L1286.5,699.5 L1290.5,698.4 L1294.5,697.4 L1298.5,696.3 L1302.5,695.3 L1306.5,694.3 L1310.5,693.2 L1314.5,692.2 L1318.5,691.1 L1322.5,690.1 L1326.5,689.1 L1330.5,688.0 L1334.5,687.0 L1338.5,686.0 L1342.5,684.9 L1346.5,683.9 L1350.5,682.9 L1354.5,681.8 L1358.5,680.8 L1362.5,679.8 L1366.5,678.7 L1370.5,677.7 L1374.5,676.7 L1378.5,675.6 L1382.5,674.6 L1386.5,673.6 L1390.5,672.5 L1394.5,671.5 L1398.5,670.5 L1402.5,669.5 L1406.5,668.4 L1410.5,667.4 L1414.5,666.4 L1418.5,665.4 L1422.5,664.3 L1426.5,663.3 L1430.5,662.3 L1434.5,661.3 L1438.5,660.3 L1442.5,659.2 L1446.5,658.2 L1450.5,657.2 L1454.5,656.2 L1458.5,655.2 L1462.5,654.1 L1466.5,653.1 L1470.5,652.1 L1474.5,651.1 L1478.5,650.1 L1482.5,649.1 L1486.5,648.1 L1490.5,647.0 L1494.5,646.0 L1498.5,645.0 L1502.5,644.0 L1506.5,643.0 L1510.5,642.0 L1514.5,641.0 L1518.5,640.0 L1522.5,639.0 L1526.5,637.9 L1530.5,636.9 L1534.5,635.9 L1538.5,634.9 L1542.5,633.9 L1546.5,632.9 L1550.5,631.9 L1554.5,630.9 L1558.5,629.9 L1562.5,628.9 L1566.5,627.9 L1570.5,626.9 L1574.5,625.9 L1578.5,624.9 L1582.5,623.9 L1586.5,622.9 L1590.5,621.9 L1594.5,620.9 L1598.5,619.9 L1602.5,618.9 L1606.5,617.9 L1610.5,616.9 L1614.5,615.9 L1618.5,614.9 L1622.5,613.9 L1626.5,612.9 L1630.5,611.9 L1634.5,610.9 L1638.5,609.9 L1642.5,608.9 L1646.5,607.9 L1650.5,607.0 L1654.5,606.0 L1658.5,605.0 L1662.5,604.0"/><path d="M210.5,1167.5 L214.5,1166.0 L218.5,1164.6 L222.5,1163.1 L226.5,1161.7 L230.5,1160.2 L234.5,1158.8 L238.5,1157.4 L242.5,1155.9 L246.5,1154.5 L250.5,1153.1 L254.5,1151.6 L258.5,1150.2 L262.5,1148.8 L266.5,1147.3 L270.5,1145.9 L274.5,1144.5 L278.5,1143.1 L282.5,1141.7 L286.5,1140.2 L290.5,1138.8 L294.5,1137.4 L298.5,1136.0 L302.5,1134.6 L306.5,1133.2 L310.5,1131.8 L314.5,1130.4 L318.5,1129.0 L322.5,1127.6 L326.5,1126.2 L330.5,1124.8 L334.5,1123.4 L338.5,1122.0 L342.5,1120.6 L346.5,1119.2 L350.5,1117.8 L354.5,1116.4 L358.5,1115.0 L362.5,1113.7 L366.5,1112.3 L370.5,1110.9 L374.5,1109.5 L378.5,1108.1 L382.5,1106.8 L386.5,1105.4 L390.5,1104.0 L394.5,1102.6 L398.5,1101.3 L402.5,1099.9 L406.5,1098.5 L410.5,1097.2 L414.5,1095.8 L418.5,1094.4 L422.5,1093.1 L426.5,1091.7 L430.5,1090.4 L434.5,1089.0 L438.5,1087.6 L442.5,1086.3 L446.5,1084.9 L450.5,1083.6 L454.5,1082.2 L458.5,1080.9 L462.5,1079.5 L466.5,1078.2 L470.5,1076.9 L474.5,1075.5 L478.5,1074.2 L482.5,1072.8 L486.5,1071.5 L490.5,1070.2 L494.5,1068.8 L498.5,1067.5 L502.5,1066.2 L506.5,1064.8 L510.5,1063.5 L514.5,1062.2 L518.5,1060.9 L522.5,1059.5 L526.5,1058.2 L530.5,1056.9 L534.5,1055.6 L538.5,1054.2 L542.5,1052.9 L546.5,1051.6 L550.5,1050.3 L554.5,1049.0 L558.5,1047.7 L562.5,1046.4 L566.5,1045.1 L570.5,1043.7 L574.5,1042.4 L578.5,1041.1 L582.5,1039.8 L586.5,1038.5 L590.5,1037.2 L594.5,1035.9 L598.5,1034.6 L602.5,1033.3 L606.5,1032.0 L610.5,1030.7 L614.5,1029.4 L618.5,1028.1 L622.5,1026.9 L626.5,1025.6 L630.5,1024.3 L634.5,1023.0 L638.5,1021.7 L642.5,1020.4 L646.5,1019.1 L650.5,1017.9 L654.5,1016.6 L658.5,1015.3 L662.5,1014.0 L666.5,1012.7 L670.5,1011.5 L674.5,1010.2 L678.5,1008.9 L682.5,1007.6 L686.5,1006.4 L690.5,1005.1 L694.5,1003.8 L698.5,1002.6 L702.5,1001.3 L706.5,1000.0 L710.5,998.8 L714.5,997.5 L718.5,996.2 L722.5,995.0 L726.5,993.7 L730.5,992.5 L734.5,991.2 L738.5,990.0 L742.5,988.7 L746.5,987.4 L750.5,986.2 L754.5,984.9 L758.5,983.7 L762.5,982.4 L766.5,981.2 L770.5,980.0 L774.5,978.7 L778.5,977.5 L782.5,976.2 L786.5,975.0 L790.5,973.7 L794.5,972.5 L798.5,971.3 L802.5,970.0 L806.5,968.8 L810.5,967.5 L814.5,966.3 L818.5,965.1 L822.5,963.8 L826.5,962.6 L830.5,961.4 L834.5,960.2 L838.5,958.9 L842.5,957.7 L846.5,956.5 L850.5,955.3 L854.5,954.0 L858.5,952.8 L862.5,951.6 L866.5,950.4 L870.5,949.1 L874.5,947.9 L878.5,946.7 L882.5,945.5 L886.5,944.3 L890.5,943.1 L894.5,941.9 L898.5,940.6 L902.5,939.4 L906.5,938.2 L910.5,937.0 L914.5,935.8 L918.5,934.6 L922.5,933.4 L926.5,932.2 L930.5,931.0 L934.5,929.8 L938.5,928.6 L942.5,927.4 L946.5,926.2 L950.5,925.0 L954.5,923.8 L958.5,922.6 L962.5,921.4 L966.5,920.2 L970.5,919.0 L974.5,917.8 L978.5,916.6 L982.5,915.4 L986.5,914.2 L990.5,913.1 L994.5,911.9 L998.5,910.7 L1002.5,909.5 L1006.5,908.3 L1010.5,907.1 L1014.5,905.9 L1018.5,904.8 L1022.5,903.6 L1026.5,902.4 L1030.5,901.2 L1034.5,900.0 L1038.5,898.9 L1042.5,897.7 L1046.5,896.5 L1050.5,895.3 L1054.5,894.2 L1058.5,893.0 L1062.5,891.8 L1066.5,890.7 L1070.5,889.5 L1074.5,888.3 L1078.5,887.1 L1082.5,886.0 L1086.5,884.8 L1090.5,883.6 L1094.5,882.5 L1098.5,881.3 L1102.5,880.2 L1106.5,879.0 L1110.5,877.8 L1114.5,876.7 L1118.5,875.5 L1122.5,874.4 L1126.5,873.2 L1130.5,872.0 L1134.5,870.9 L1138.5,869.7 L1142.5,868.6 L1146.5,867.4 L1150.5,866.3 L1154.5,865.1 L1158.5,864.0 L1162.5,862.8 L1166.5,861.7 L1170.5,860.5 L1174.5,859.4 L1178.5,858.2 L1182.5,857.1 L1186.5,855.9 L1190.5,854.8 L1194.5,853.7 L1198.5,852.5 L1202.5,851.4 L1206.5,850.2 L1210.5,849.1 L1214.5,848.0 L1218.5,846.8 L1222.5,845.7 L1226.5,844.6 L1230.5,843.4 L1234.5,842.3 L1238.5,841.1 L1242.5,840.0 L1246.5,838.9 L1250.5,837.8 L1254.5,836.6 L1258.5,835.5 L1262.5,834.4 L1266.5,833.2 L1270.5,832.1 L1274.5,831.0 L1278.5,829.9 L1282.5,828.7 L1286.5,827.6 L1290.5,826.5 L1294.5,825.4 L1298.5,824.2 L1302.5,823.1 L1306.5,822.0 L1310.5,820.9 L1314.5,819.8 L1318.5,818.7 L1322.5,817.5 L1326.5,816.4 L1330.5,815.3 L1334.5,814.2 L1338.5,813.1 L1342.5,812.0 L1346.5,810.9 L1350.5,809.7 L1354.5,808.6 L1358.5,807.5 L1362.5,806.4 L1366.5,805.3 L1370.5,804.2 L1374.5,803.1 L1378.5,802.0 L1382.5,800.9 L1386.5,799.8 L1390.5,798.7 L1394.5,797.6 L1398.5,796.5 L1402.5,795.4 L1406.5,794.3 L1410.5,793.2 L1414.5,792.1 L1418.5,791.0 L1422.5,789.9 L1426.5,788.8 L1430.5,787.7 L1434.5,786.6 L1438.5,785.5 L1442.5,784.4 L1446.5,783.3 L1450.5,782.2 L1454.5,781.1 L1458.5,780.0 L1462.5,778.9 L1466.5,777.9 L1470.5,776.8 L1474.5,775.7 L1478.5,774.6 L1482.5,773.5 L1486.5,772.4 L1490.5,771.3 L1494.5,770.3 L1498.5,769.2 L1502.5,768.1 L1506.5,767.0 L1510.5,765.9 L1514.5,764.8 L1518.5,763.8 L1522.5,762.7 L1526.5,761.6 L1530.5,760.5 L1534.5,759.5 L1538.5,758.4 L1542.5,757.3 L1546.5,756.2 L1550.5,755.1 L1554.5,754.1"/><path d="M1650.5,728.5 L1654.5,727.5 L1658.5,726.4 L1662.5,725.3"/><path d="M210.5,1350.9 L214.5,1349.1 L218.5,1347.4 L222.5,1345.7 L226.5,1344.0 L230.5,1342.3 L234.5,1340.6 L238.5,1338.9 L242.5,1337.1 L246.5,1335.4 L250.5,1333.7 L254.5,1332.1 L258.5,1330.4 L262.5,1328.7 L266.5,1327.0 L270.5,1325.3 L274.5,1323.6 L278.5,1321.9 L282.5,1320.3 L286.5,1318.6 L290.5,1316.9 L294.5,1315.3 L298.5,1313.6 L302.5,1312.0 L306.5,1310.3 L310.5,1308.6 L314.5,1307.0 L318.5,1305.3 L322.5,1303.7 L326.5,1302.1 L330.5,1300.4 L334.5,1298.8 L338.5,1297.2 L342.5,1295.5 L346.5,1293.9 L350.5,1292.3 L354.5,1290.6 L358.5,1289.0 L362.5,1287.4 L366.5,1285.8 L370.5,1284.2 L374.5,1282.6 L378.5,1281.0"/><path d="M514.5,1227.8 L518.5,1226.3 L522.5,1224.8 L526.5,1223.3 L530.5,1221.8 L534.5,1220.3 L538.5,1218.8 L542.5,1217.2 L546.5,1215.7 L550.5,1214.2 L554.5,1212.7 L558.5,1211.2 L562.5,1209.7 L566.5,1208.2 L570.5,1206.7 L574.5,1205.3 L578.5,1203.8 L582.5,1202.3 L586.5,1200.8 L590.5,1199.3 L594.5,1197.8 L598.5,1196.3 L602.5,1194.9 L606.5,1193.4 L610.5,1191.9 L614.5,1190.4 L618.5,1189.0 L622.5,1187.5 L626.5,1186.0 L630.5,1184.6 L634.5,1183.1 L638.5,1181.7 L642.5,1180.2 L646.5,1178.7 L650.5,1177.3 L654.5,1175.8 L658.5,1174.4 L662.5,1172.9 L666.5,1171.5 L670.5,1170.0 L674.5,1168.6 L678.5,1167.2 L682.5,1165.7 L686.5,1164.3 L690.5,1162.9 L694.5,1161.4 L698.5,1160.0 L702.5,1158.6 L706.5,1157.1 L710.5,1155.7 L714.5,1154.3 L718.5,1152.9 L722.5,1151.4 L726.5,1150.0 L730.5,1148.6 L734.5,1147.2 L738.5,1145.8 L742.5,1144.4 L746.5,1142.9 L750.5,1141.5 L754.5,1140.1 L758.5,1138.7 L762.5,1137.3 L766.5,1135.9 L770.5,1134.5 L774.5,1133.1 L778.5,1131.7 L782.5,1130.3 L786.5,1128.9 L790.5,1127.5 L794.5,1126.1 L798.5,1124.8 L802.5,1123.4 L806.5,1122.0 L810.5,1120.6 L814.5,1119.2 L818.5,1117.8 L822.5,1116.5 L826.5,1115.1 L830.5,1113.7 L834.5,1112.3 L838.5,1111.0 L842.5,1109.6 L846.5,1108.2 L850.5,1106.8 L854.5,1105.5 L858.5,1104.1 L862.5,1102.7 L866.5,1101.4 L870.5,1100.0 L874.5,1098.7 L878.5,1097.3 L882.5,1096.0 L886.5,1094.6 L890.5,1093.2 L894.5,1091.9 L898.5,1090.5 L902.5,1089.2 L906.5,1087.8 L910.5,1086.5 L914.5,1085.2 L918.5,1083.8 L922.5,1082.5 L926.5,1081.1 L930.5,1079.8 L934.5,1078.5 L938.5,1077.1 L942.5,1075.8 L946.5,1074.5 L950.5,1073.1 L954.5,1071.8 L958.5,1070.5 L962.5,1069.1 L966.5,1067.8 L970.5,1066.5 L974.5,1065.2 L978.5,1063.8 L982.5,1062.5 L986.5,1061.2 L990.5,1059.9 L994.5,1058.6 L998.5,1057.3 L1002.5,1055.9 L1006.5,1054.6 L1010.5,1053.3 L1014.5,1052.0 L1018.5,1050.7 L1022.5,1049.4 L1026.5,1048.1 L1030.5,1046.8 L1034.5,1045.5 L1038.5,1044.2 L1042.5,1042.9 L1046.5,1041.6 L1050.5,1040.3 L1054.5,1039.0 L1058.5,1037.7 L1062.5,1036.4 L1066.5,1035.1 L1070.5,1033.8 L1074.5,1032.5 L1078.5,1031.2 L1082.5,1030.0 L1086.5,1028.7 L1090.5,1027.4 L1094.5,1026.1 L1098.5,1024.8 L1102.5,1023.5 L1106.5,1022.3 L1110.5,1021.0 L1114.5,1019.7 L1118.5,1018.4 L1122.5,1017.1 L1126.5,1015.9 L1130.5,1014.6 L1134.5,1013.3 L1138.5,1012.1 L1142.5,1010.8 L1146.5,1009.5 L1150.5,1008.3 L1154.5,1007.0 L1158.5,1005.7 L1162.5,1004.5 L1166.5,1003.2 L1170.5,1001.9 L1174.5,1000.7 L1178.5,999.4 L1182.5,998.2 L1186.5,996.9 L1190.5,995.7 L1194.5,994.4 L1198.5,993.2 L1202.5,991.9 L1206.5,990.7 L1210.5,989.4 L1214.5,988.2 L1218.5,986.9 L1222.5,985.7 L1226.5,984.4 L1230.5,983.2 L1234.5,981.9 L1238.5,980.7 L1242.5,979.5 L1246.5,978.2 L1250.5,977.0 L1254.5,975.7 L1258.5,974.5 L1262.5,973.3 L1266.5,972.0 L1270.5,970.8 L1274.5,969.6 L1278.5,968.3 L1282.5,967.1 L1286.5,965.9 L1290.5,964.7 L1294.5,963.4 L1298.5,962.2 L1302.5,961.0 L1306.5,959.8 L1310.5,958.5 L1314.5,957.3 L1318.5,956.1 L1322.5,954.9 L1326.5,953.7 L1330.5,952.5 L1334.5,951.2 L1338.5,950.0 L1342.5,948.8 L1346.5,947.6 L1350.5,946.4 L1354.5,945.2 L1358.5,944.0 L1362.5,942.8 L1366.5,941.6 L1370.5,940.4 L1374.5,939.2 L1378.5,937.9 L1382.5,936.7 L1386.5,935.5 L1390.5,934.3 L1394.5,933.1 L1398.5,931.9 L1402.5,930.7 L1406.5,929.5 L1410.5,928.4 L1414.5,927.2 L1418.5,926.0 L1422.5,924.8 L1426.5,923.6 L1430.5,922.4 L1434.5,921.2 L1438.5,920.0 L1442.5,918.8 L1446.5,917.6 L1450.5,916.5 L1454.5,915.3 L1458.5,914.1 L1462.5,912.9 L1466.5,911.7 L1470.5,910.5 L1474.5,909.4 L1478.5,908.2 L1482.5,907.0 L1486.5,905.8 L1490.5,904.6 L1494.5,903.5 L1498.5,902.3 L1502.5,901.1 L1506.5,899.9 L1510.5,898.8 L1514.5,897.6 L1518.5,896.4 L1522.5,895.3 L1526.5,894.1 L1530.5,892.9 L1534.5,891.8 L1538.5,890.6 L1542.5,889.4 L1546.5,888.3 L1550.5,887.1 L1554.5,885.9 L1558.5,884.8 L1562.5,883.6 L1566.5,882.5 L1570.5,881.3 L1574.5,880.1 L1578.5,879.0 L1582.5,877.8 L1586.5,876.7 L1590.5,875.5 L1594.5,874.4 L1598.5,873.2 L1602.5,872.1 L1606.5,870.9 L1610.5,869.8 L1614.5,868.6 L1618.5,867.5 L1622.5,866.3 L1626.5,865.2 L1630.5,864.0 L1634.5,862.9 L1638.5,861.7 L1642.5,860.6 L1646.5,859.5 L1650.5,858.3 L1654.5,857.2 L1658.5,856.0 L1662.5,854.9"/><path d="M210.5,1579.0 L214.5,1576.7 L218.5,1574.4 L222.5,1572.1 L226.5,1569.8 L230.5,1567.5 L234.5,1565.2 L238.5,1563.0 L242.5,1560.7 L246.5,1558.4 L250.5,1556.2 L254.5,1554.0 L258.5,1551.7 L262.5,1549.5 L266.5,1547.3 L270.5,1545.1 L274.5,1542.9 L278.5,1540.7 L282.5,1538.5 L286.5,1536.4 L290.5,1534.2 L294.5,1532.0 L298.5,1529.9 L302.5,1527.7 L306.5,1525.6 L310.5,1523.4 L314.5,1521.3 L318.5,1519.2 L322.5,1517.1 L326.5,1515.0 L330.5,1512.9 L334.5,1510.8 L338.5,1508.7 L342.5,1506.6 L346.5,1504.5 L350.5,1502.4 L354.5,1500.4 L358.5,1498.3 L362.5,1496.3 L366.5,1494.2 L370.5,1492.2 L374.5,1490.1 L378.5,1488.1 L382.5,1486.1 L386.5,1484.0 L390.5,1482.0 L394.5,1480.0 L398.5,1478.0 L402.5,1476.0 L406.5,1474.0 L410.5,1472.0 L414.5,1470.1 L418.5,1468.1 L422.5,1466.1 L426.5,1464.1 L430.5,1462.2 L434.5,1460.2 L438.5,1458.3 L442.5,1456.3 L446.5,1454.4 L450.5,1452.4 L454.5,1450.5 L458.5,1448.6 L462.5,1446.7 L466.5,1444.7 L470.5,1442.8 L474.5,1440.9 L478.5,1439.0 L482.5,1437.1 L486.5,1435.2 L490.5,1433.3 L494.5,1431.4 L498.5,1429.6 L502.5,1427.7 L506.5,1425.8 L510.5,1423.9 L514.5,1422.1 L518.5,1420.2 L522.5,1418.4 L526.5,1416.5 L530.5,1414.7 L534.5,1412.8 L538.5,1411.0 L542.5,1409.1 L546.5,1407.3 L550.5,1405.5 L554.5,1403.7 L558.5,1401.8 L562.5,1400.0 L566.5,1398.2 L570.5,1396.4 L574.5,1394.6 L578.5,1392.8 L582.5,1391.0 L586.5,1389.2 L590.5,1387.4 L594.5,1385.6 L598.5,1383.8 L602.5,1382.1 L606.5,1380.3 L610.5,1378.5 L614.5,1376.8 L618.5,1375.0 L622.5,1373.2 L626.5,1371.5 L630.5,1369.7 L634.5,1368.0 L638.5,1366.2 L642.5,1364.5 L646.5,1362.8 L650.5,1361.0 L654.5,1359.3 L658.5,1357.6 L662.5,1355.8 L666.5,1354.1 L670.5,1352.4 L674.5,1350.7 L678.5,1349.0 L682.5,1347.3 L686.5,1345.5 L690.5,1343.8 L694.5,1342.1 L698.5,1340.4 L702.5,1338.8 L706.5,1337.1 L710.5,1335.4 L714.5,1333.7 L718.5,1332.0 L722.5,1330.3 L726.5,1328.7 L730.5,1327.0 L734.5,1325.3 L738.5,1323.7 L742.5,1322.0 L746.5,1320.3 L750.5,1318.7 L754.5,1317.0 L758.5,1315.4 L762.5,1313.7 L766.5,1312.1 L770.5,1310.4 L774.5,1308.8 L778.5,1307.2 L782.5,1305.5 L786.5,1303.9 L790.5,1302.3 L794.5,1300.6 L798.5,1299.0 L802.5,1297.4 L806.5,1295.8 L810.5,1294.2 L814.5,1292.6 L818.5,1290.9 L822.5,1289.3 L826.5,1287.7 L830.5,1286.1 L834.5,1284.5 L838.5,1282.9 L842.5,1281.3 L846.5,1279.7 L850.5,1278.2 L854.5,1276.6 L858.5,1275.0 L862.5,1273.4 L866.5,1271.8 L870.5,1270.3 L874.5,1268.7 L878.5,1267.1 L882.5,1265.5 L886.5,1264.0 L890.5,1262.4 L894.5,1260.8 L898.5,1259.3 L902.5,1257.7 L906.5,1256.2 L910.5,1254.6 L914.5,1253.1 L918.5,1251.5 L922.5,1250.0 L926.5,1248.4 L930.5,1246.9 L934.5,1245.4 L938.5,1243.8 L942.5,1242.3 L946.5,1240.8 L950.5,1239.2 L954.5,1237.7 L958.5,1236.2 L962.5,1234.6 L966.5,1233.1 L970.5,1231.6 L974.5,1230.1 L978.5,1228.6 L982.5,1227.1 L986.5,1225.6 L990.5,1224.0 L994.5,1222.5 L998.5,1221.0 L1002.5,1219.5 L1006.5,1218.0 L1010.5,1216.5 L1014.5,1215.0 L1018.5,1213.6 L1022.5,1212.1 L1026.5,1210.6 L1030.5,1209.1 L1034.5,1207.6 L1038.5,1206.1 L1042.5,1204.6 L1046.5,1203.2 L1050.5,1201.7 L1054.5,1200.2 L1058.5,1198.7 L1062.5,1197.3 L1066.5,1195.8 L1070.5,1194.3 L1074.5,1192.9 L1078.5,1191.4 L1082.5,1189.9 L1086.5,1188.5 L1090.5,1187.0 L1094.5,1185.6 L1098.5,1184.1 L1102.5,1182.7 L1106.5,1181.2 L1110.5,1179.8 L1114.5,1178.3 L1118.5,1176.9 L1122.5,1175.4 L1126.5,1174.0 L1130.5,1172.6"/><path d="M1226.5,1138.6 L1230.5,1137.2 L1234.5,1135.8 L1238.5,1134.4 L1242.5,1133.0 L1246.5,1131.6 L1250.5,1130.2 L1254.5,1128.8 L1258.5,1127.4 L1262.5,1126.1 L1266.5,1124.7 L1270.5,1123.3 L1274.5,1121.9 L1278.5,1120.6 L1282.5,1119.2 L1286.5,1117.8 L1290.5,1116.4 L1294.5,1115.1 L1298.5,1113.7 L1302.5,1112.3 L1306.5,1111.0 L1310.5,1109.6 L1314.5,1108.2 L1318.5,1106.9 L1322.5,1105.5 L1326.5,1104.2 L1330.5,1102.8 L1334.5,1101.5 L1338.5,1100.1 L1342.5,1098.8 L1346.5,1097.4 L1350.5,1096.1 L1354.5,1094.7 L1358.5,1093.4 L1362.5,1092.0 L1366.5,1090.7 L1370.5,1089.3 L1374.5,1088.0 L1378.5,1086.7 L1382.5,1085.3 L1386.5,1084.0 L1390.5,1082.7 L1394.5,1081.3 L1398.5,1080.0 L1402.5,1078.7 L1406.5,1077.3 L1410.5,1076.0 L1414.5,1074.7 L1418.5,1073.4 L1422.5,1072.0 L1426.5,1070.7 L1430.5,1069.4 L1434.5,1068.1 L1438.5,1066.8 L1442.5,1065.4 L1446.5,1064.1 L1450.5,1062.8 L1454.5,1061.5 L1458.5,1060.2 L1462.5,1058.9 L1466.5,1057.6 L1470.5,1056.3 L1474.5,1055.0 L1478.5,1053.7 L1482.5,1052.4 L1486.5,1051.1 L1490.5,1049.8 L1494.5,1048.5 L1498.5,1047.2 L1502.5,1045.9 L1506.5,1044.6 L1510.5,1043.3 L1514.5,1042.0 L1518.5,1040.7 L1522.5,1039.4 L1526.5,1038.1 L1530.5,1036.8 L1534.5,1035.5 L1538.5,1034.3 L1542.5,1033.0 L1546.5,1031.7 L1550.5,1030.4 L1554.5,1029.1 L1558.5,1027.9 L1562.5,1026.6 L1566.5,1025.3 L1570.5,1024.0 L1574.5,1022.8 L1578.5,1021.5 L1582.5,1020.2 L1586.5,1018.9 L1590.5,1017.7 L1594.5,1016.4 L1598.5,1015.1 L1602.5,1013.9 L1606.5,1012.6 L1610.5,1011.3 L1614.5,1010.1 L1618.5,1008.8 L1622.5,1007.6 L1626.5,1006.3 L1630.5,1005.0 L1634.5,1003.8 L1638.5,1002.5 L1642.5,1001.3 L1646.5,1000.0 L1650.5,998.8 L1654.5,997.5 L1658.5,996.3 L1662.5,995.0"/><path d="M210.5,1962.6 L214.5,1956.2 L218.5,1950.1 L222.5,1944.1 L226.5,1938.3 L230.5,1932.6 L234.5,1927.1 L238.5,1921.7 L242.5,1916.4 L246.5,1911.2 L250.5,1906.2 L254.5,1901.2 L258.5,1896.3 L262.5,1891.5 L266.5,1886.8 L270.5,1882.1 L274.5,1877.6 L278.5,1873.1 L282.5,1868.6 L286.5,1864.3 L290.5,1860.0 L294.5,1855.7 L298.5,1851.5 L302.5,1847.4 L306.5,1843.3 L310.5,1839.3 L314.5,1835.3 L318.5,1831.4 L322.5,1827.5 L326.5,1823.6 L330.5,1819.8 L334.5,1816.1 L338.5,1812.3 L342.5,1808.6 L346.5,1805.0 L350.5,1801.4 L354.5,1797.8 L358.5,1794.2 L362.5,1790.7 L366.5,1787.2 L370.5,1783.8 L374.5,1780.4 L378.5,1777.0 L382.5,1773.6 L386.5,1770.3 L390.5,1766.9 L394.5,1763.7 L398.5,1760.4 L402.5,1757.2 L406.5,1754.0 L410.5,1750.8 L414.5,1747.6 L418.5,1744.5 L422.5,1741.3 L426.5,1738.2 L430.5,1735.2 L434.5,1732.1 L438.5,1729.1 L442.5,1726.1 L446.5,1723.1 L450.5,1720.1 L454.5,1717.1 L458.5,1714.2 L462.5,1711.3 L466.5,1708.4 L470.5,1705.5 L474.5,1702.6 L478.5,1699.8 L482.5,1696.9 L486.5,1694.1 L490.5,1691.3 L494.5,1688.5 L498.5,1685.8 L502.5,1683.0 L506.5,1680.3 L510.5,1677.5 L514.5,1674.8 L518.5,1672.1 L522.5,1669.4 L526.5,1666.8 L530.5,1664.1 L534.5,1661.5 L538.5,1658.8 L542.5,1656.2 L546.5,1653.6 L550.5,1651.0 L554.5,1648.4 L558.5,1645.8 L562.5,1643.3 L566.5,1640.7 L570.5,1638.2 L574.5,1635.7 L578.5,1633.2 L582.5,1630.7 L586.5,1628.2 L590.5,1625.7 L594.5,1623.2 L598.5,1620.8 L602.5,1618.3 L606.5,1615.9 L610.5,1613.5 L614.5,1611.0 L618.5,1608.6 L622.5,1606.2 L626.5,1603.8 L630.5,1601.5 L634.5,1599.1 L638.5,1596.7 L642.5,1594.4 L646.5,1592.0 L650.5,1589.7 L654.5,1587.4 L658.5,1585.1 L662.5,1582.7 L666.5,1580.4 L670.5,1578.2 L674.5,1575.9 L678.5,1573.6 L682.5,1571.3 L686.5,1569.1 L690.5,1566.8 L694.5,1564.6 L698.5,1562.3 L702.5,1560.1 L706.5,1557.9 L710.5,1555.7 L714.5,1553.5 L718.5,1551.3 L722.5,1549.1 L726.5,1546.9 L730.5,1544.7 L734.5,1542.5 L738.5,1540.4 L742.5,1538.2 L746.5,1536.1 L750.5,1533.9 L754.5,1531.8 L758.5,1529.7 L762.5,1527.5 L766.5,1525.4 L770.5,1523.3 L774.5,1521.2 L778.5,1519.1 L782.5,1517.0 L786.5,1514.9 L790.5,1512.9 L794.5,1510.8 L798.5,1508.7 L802.5,1506.7 L806.5,1504.6 L810.5,1502.6 L814.5,1500.5 L818.5,1498.5 L822.5,1496.4 L826.5,1494.4 L830.5,1492.4 L834.5,1490.4 L838.5,1488.4 L842.5,1486.4 L846.5,1484.4 L850.5,1482.4 L854.5,1480.4 L858.5,1478.4 L862.5,1476.4 L866.5,1474.4 L870.5,1472.5 L874.5,1470.5 L878.5,1468.6 L882.5,1466.6 L886.5,1464.7 L890.5,1462.7 L894.5,1460.8 L898.5,1458.8 L902.5,1456.9 L906.5,1455.0 L910.5,1453.1 L914.5,1451.2 L918.5,1449.2 L922.5,1447.3 L926.5,1445.4 L930.5,1443.5 L934.5,1441.6 L938.5,1439.8 L942.5,1437.9 L946.5,1436.0 L950.5,1434.1 L954.5,1432.3 L958.5,1430.4 L962.5,1428.5 L966.5,1426.7 L970.5,1424.8 L974.5,1423.0 L978.5,1421.1 L982.5,1419.3 L986.5,1417.4 L990.5,1415.6 L994.5,1413.8 L998.5,1412.0 L1002.5,1410.1 L1006.5,1408.3 L1010.5,1406.5 L1014.5,1404.7 L1018.5,1402.9 L1022.5,1401.1 L1026.5,1399.3 L1030.5,1397.5 L1034.5,1395.7 L1038.5,1393.9 L1042.5,1392.2 L1046.5,1390.4 L1050.5,1388.6 L1054.5,1386.8 L1058.5,1385.1 L1062.5,1383.3 L1066.5,1381.5 L1070.5,1379.8 L1074.5,1378.0 L1078.5,1376.3 L1082.5,1374.5 L1086.5,1372.8 L1090.5,1371.0 L1094.5,1369.3 L1098.5,1367.6 L1102.5,1365.8 L1106.5,1364.1 L1110.5,1362.4 L1114.5,1360.7 L1118.5,1359.0 L1122.5,1357.2 L1126.5,1355.5 L1130.5,1353.8 L1134.5,1352.1 L1138.5,1350.4 L1142.5,1348.7 L1146.5,1347.0 L1150.5,1345.3 L1154.5,1343.7 L1158.5,1342.0 L1162.5,1340.3 L1166.5,1338.6 L1170.5,1336.9 L1174.5,1335.3 L1178.5,1333.6 L1182.5,1331.9 L1186.5,1330.3 L1190.5,1328.6 L1194.5,1326.9 L1198.5,1325.3 L1202.5,1323.6 L1206.5,1322.0 L1210.5,1320.3 L1214.5,1318.7 L1218.5,1317.1 L1222.5,1315.4 L1226.5,1313.8 L1230.5,1312.2 L1234.5,1310.5 L1238.5,1308.9 L1242.5,1307.3 L1246.5,1305.7 L1250.5,1304.0 L1254.5,1302.4 L1258.5,1300.8 L1262.5,1299.2 L1266.5,1297.6 L1270.5,1296.0 L1274.5,1294.4 L1278.5,1292.8 L1282.5,1291.2 L1286.5,1289.6 L1290.5,1288.0 L1294.5,1286.4 L1298.5,1284.8 L1302.5,1283.2 L1306.5,1281.6 L1310.5,1280.1 L1314.5,1278.5 L1318.5,1276.9 L1322.5,1275.3 L1326.5,1273.8 L1330.5,1272.2 L1334.5,1270.6 L1338.5,1269.1 L1342.5,1267.5 L1346.5,1266.0 L1350.5,1264.4 L1354.5,1262.8 L1358.5,1261.3 L1362.5,1259.7 L1366.5,1258.2 L1370.5,1256.7 L1374.5,1255.1 L1378.5,1253.6 L1382.5,1252.0 L1386.5,1250.5 L1390.5,1249.0 L1394.5,1247.4 L1398.5,1245.9 L1402.5,1244.4 L1406.5,1242.9 L1410.5,1241.3 L1414.5,1239.8 L1418.5,1238.3 L1422.5,1236.8 L1426.5,1235.3 L1430.5,1233.8 L1434.5,1232.3 L1438.5,1230.8 L1442.5,1229.2 L1446.5,1227.7 L1450.5,1226.2 L1454.5,1224.7 L1458.5,1223.3 L1462.5,1221.8 L1466.5,1220.3 L1470.5,1218.8 L1474.5,1217.3 L1478.5,1215.8 L1482.5,1214.3 L1486.5,1212.8 L1490.5,1211.4 L1494.5,1209.9 L1498.5,1208.4 L1502.5,1206.9 L1506.5,1205.5 L1510.5,1204.0 L1514.5,1202.5 L1518.5,1201.1 L1522.5,1199.6 L1526.5,1198.1 L1530.5,1196.7 L1534.5,1195.2 L1538.5,1193.8 L1542.5,1192.3 L1546.5,1190.8 L1550.5,1189.4 L1554.5,1187.9 L1558.5,1186.5 L1562.5,1185.1 L1566.5,1183.6 L1570.5,1182.2 L1574.5,1180.7 L1578.5,1179.3 L1582.5,1177.9 L1586.5,1176.4 L1590.5,1175.0 L1594.5,1173.6 L1598.5,1172.1 L1602.5,1170.7 L1606.5,1169.3 L1610.5,1167.9 L1614.5,1166.4 L1618.5,1165.0 L1622.5,1163.6 L1626.5,1162.2 L1630.5,1160.8 L1634.5,1159.4 L1638.5,1157.9 L1642.5,1156.5 L1646.5,1155.1 L1650.5,1153.7 L1654.5,1152.3 L1658.5,1150.9 L1662.5,1149.5"/></g><g clip-path="url(#pc)" font-family="Liberation Sans, Arial, sans-serif" font-weight="bold" font-size="46" letter-spacing="2" fill="#737373" text-anchor="middle"><text transform="translate(387.0,237.5) skewY(-11.93) scale(1,1.13)" x="1" y="16.3">21.5</text><text transform="translate(1651.0,80.0) skewY(-11.18) scale(1,1.13)" x="1" y="16.3">22</text><text transform="translate(757.0,366.0) skewY(-12.54) scale(1,1.13)" x="1" y="16.3">22.5</text><text transform="translate(1601.3,287.0) skewY(-12.09) scale(1,1.13)" x="1" y="16.3">23</text><text transform="translate(332.3,698.0) skewY(-14.71) scale(1,1.13)" x="1" y="16.3">23.5</text><text transform="translate(1180.0,603.0) skewY(-13.94) scale(1,1.13)" x="1" y="16.3">24</text><text transform="translate(694.7,858.5) skewY(-16.05) scale(1,1.13)" x="1" y="16.3">24.5</text><text transform="translate(1600.5,740.0) skewY(-14.90) scale(1,1.13)" x="1" y="16.3">25</text><text transform="translate(446.0,1250.4) skewY(-21.26) scale(1,1.13)" x="1" y="16.3">25.5</text><text transform="translate(1177.8,1154.0) skewY(-19.48) scale(1,1.13)" x="1" y="16.3">26</text></g><g stroke="#000"><rect x="212.5" y="26.5" width="1449.0" height="1280.5" fill="none" stroke="#000" stroke-width="3.2"/><line x1="193.5" y1="26.5" x2="212.5" y2="26.5" stroke-width="3.2"/><line x1="193.5" y1="346.6" x2="212.5" y2="346.6" stroke-width="3.2"/><line x1="193.5" y1="666.8" x2="212.5" y2="666.8" stroke-width="3.2"/><line x1="193.5" y1="987.3" x2="212.5" y2="987.3" stroke-width="3.2"/><line x1="193.5" y1="1307.0" x2="212.5" y2="1307.0" stroke-width="3.2"/><line x1="199" y1="186.6" x2="212.5" y2="186.6" stroke-width="2.4"/><line x1="199" y1="506.7" x2="212.5" y2="506.7" stroke-width="2.4"/><line x1="199" y1="827.0" x2="212.5" y2="827.0" stroke-width="2.4"/><line x1="199" y1="1147.2" x2="212.5" y2="1147.2" stroke-width="2.4"/><line x1="212.5" y1="1307.0" x2="212.5" y2="1326" stroke-width="3.2"/><line x1="575.4" y1="1307.0" x2="575.4" y2="1326" stroke-width="3.2"/><line x1="937.9" y1="1307.0" x2="937.9" y2="1326" stroke-width="3.2"/><line x1="1299.9" y1="1307.0" x2="1299.9" y2="1326" stroke-width="3.2"/><line x1="1661.5" y1="1307.0" x2="1661.5" y2="1326" stroke-width="3.2"/><line x1="394.1" y1="1307.0" x2="394.1" y2="1320" stroke-width="2.4"/><line x1="756.6" y1="1307.0" x2="756.6" y2="1320" stroke-width="2.4"/><line x1="1118.9" y1="1307.0" x2="1118.9" y2="1320" stroke-width="2.4"/><line x1="1481.2" y1="1307.0" x2="1481.2" y2="1320" stroke-width="2.4"/></g><g font-family="Liberation Sans, Arial, sans-serif" font-weight="bold" font-style="italic" font-size="54" fill="#000"><text transform="translate(174,43.5) scale(0.985,1.07)" text-anchor="end">30</text><text transform="translate(174,363.6) scale(0.985,1.07)" text-anchor="end">25</text><text transform="translate(174,683.8) scale(0.985,1.07)" text-anchor="end">20</text><text transform="translate(174,1004.3) scale(0.985,1.07)" text-anchor="end">15</text><text transform="translate(174,1324.0) scale(0.985,1.07)" text-anchor="end">10</text><text transform="translate(212.5,1388.3) scale(0.985,1.07)" text-anchor="middle">33</text><text transform="translate(575.4,1388.3) scale(0.985,1.07)" text-anchor="middle">33.5</text><text transform="translate(937.9,1388.3) scale(0.985,1.07)" text-anchor="middle">34</text><text transform="translate(1299.9,1388.3) scale(0.985,1.07)" text-anchor="middle">34.5</text><text transform="translate(1661.5,1388.3) scale(0.985,1.07)" text-anchor="middle">35</text></g><text font-family="Liberation Sans, Arial, sans-serif" font-weight="bold" font-style="italic" font-size="68" x="937" y="1466" text-anchor="middle">Salinity</text><text font-family="Liberation Sans, Arial, sans-serif" font-weight="bold" font-style="italic" font-size="66.7" transform="translate(55,667) rotate(-90)" text-anchor="middle">Potential Temperature &#952; [degC]</text><text font-family="Liberation Sans, Arial, sans-serif" font-weight="bold" font-style="italic" font-size="32.5" transform="translate(1704,1169.5) rotate(-90)" text-anchor="middle">Ocean Data View</text><text font-family="Liberation Sans, Arial, sans-serif" font-weight="bold" font-size="101" fill="#777" x="246" y="134">&#963;</text><text font-family="Liberation Sans, Arial, sans-serif" font-weight="bold" font-style="italic" font-size="62" fill="#777" x="312" y="146">0</text></svg></body></html>
